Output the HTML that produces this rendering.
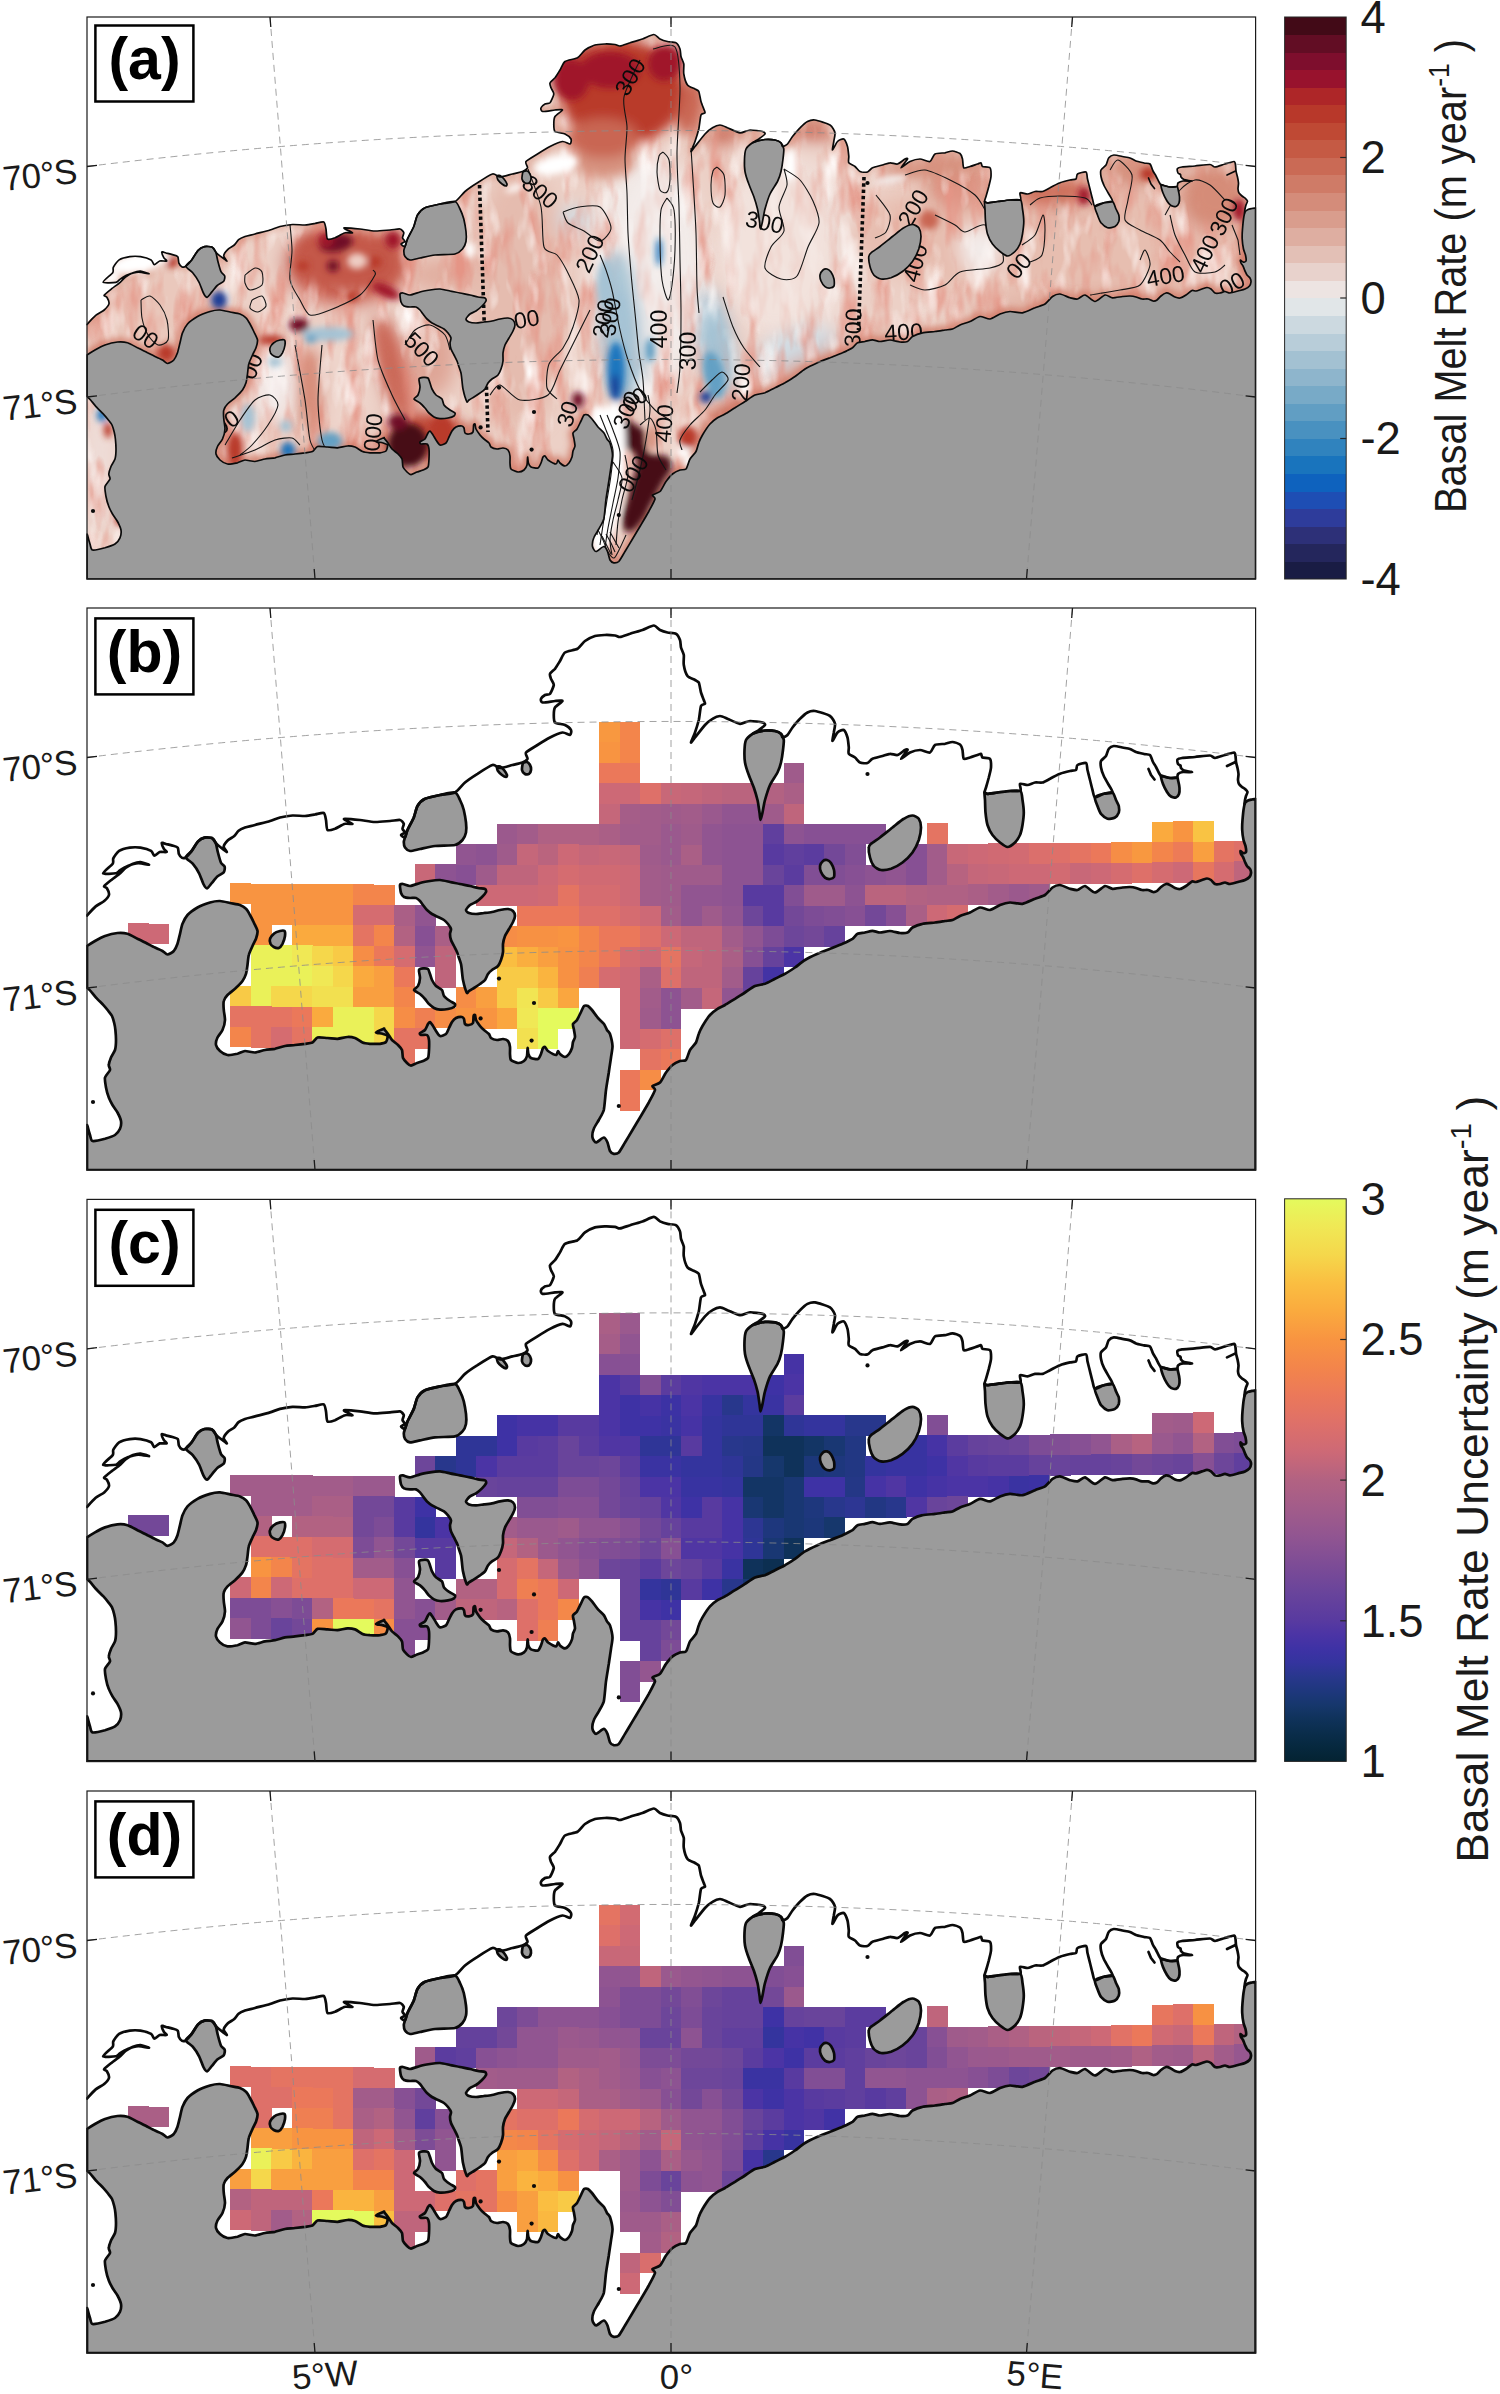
<!DOCTYPE html>
<html><head><meta charset="utf-8"><title>Basal melt rate figure</title>
<style>html,body{margin:0;padding:0;background:#fff}svg{display:block}text{font-family:"Liberation Sans",sans-serif;fill:#1a1a1a}text.pl{fill:#000;font-weight:bold}</style></head><body>
<svg width="1500" height="2394" viewBox="0 0 1500 2394">
<defs>
<clipPath id="pc"><rect x="86.2" y="607.2" width="1170.2" height="563.6"/></clipPath>
<path id="land" d="M87.0 946.0C87.9 945.4 92.9 942.2 95.0 941.0C97.1 939.8 102.4 936.9 105.0 936.0C107.6 935.1 114.9 933.3 117.5 933.0C120.1 932.7 125.2 933.1 127.5 933.8C129.8 934.4 135.2 937.6 137.5 938.8C139.8 939.9 145.5 942.7 147.5 943.8C149.5 944.8 153.2 946.7 155.0 947.5C156.8 948.3 161.0 950.2 162.5 951.0C164.0 951.8 166.2 954.5 167.5 954.5C168.8 954.5 172.6 952.3 173.8 951.0C174.9 949.7 176.8 945.8 177.5 943.8C178.2 941.7 179.4 936.1 180.0 933.8C180.6 931.4 181.6 925.9 182.5 923.8C183.4 921.6 185.8 916.9 187.5 915.0C189.2 913.1 194.9 909.0 197.5 907.5C200.1 906.0 207.4 903.3 210.0 902.5C212.6 901.7 217.7 900.9 220.0 901.0C222.3 901.1 227.7 902.5 230.0 903.0C232.3 903.5 238.1 904.3 240.0 905.0C241.9 905.7 244.8 907.6 246.0 908.8C247.2 909.9 249.1 913.4 250.0 915.0C250.9 916.6 252.9 920.6 253.8 922.5C254.6 924.4 257.2 929.1 257.5 931.0C257.8 932.9 256.6 937.0 256.0 938.8C255.4 940.5 253.3 944.1 252.5 946.0C251.7 947.9 249.3 952.8 248.8 955.0C248.2 957.2 247.8 962.8 247.5 965.0C247.2 967.2 246.6 971.9 246.0 973.8C245.4 975.6 243.8 979.2 242.5 981.0C241.2 982.8 236.8 987.1 235.0 988.8C233.2 990.4 228.8 993.6 227.5 995.0C226.2 996.4 224.2 999.2 223.8 1001.0C223.3 1002.8 223.6 1007.8 223.8 1010.0C223.9 1012.2 225.1 1017.7 225.0 1020.0C224.9 1022.3 223.4 1028.0 222.5 1030.0C221.6 1032.0 218.3 1035.8 217.5 1037.5C216.7 1039.2 215.7 1043.4 216.0 1045.0C216.3 1046.6 218.7 1049.8 220.0 1051.0C221.3 1052.2 225.5 1054.7 227.5 1055.0C229.5 1055.3 235.5 1054.2 237.5 1053.8C239.5 1053.3 243.0 1051.1 245.0 1051.0C247.0 1050.9 252.7 1052.6 255.0 1052.5C257.3 1052.4 262.7 1050.4 265.0 1050.0C267.3 1049.6 272.7 1049.2 275.0 1048.8C277.3 1048.3 282.7 1046.4 285.0 1046.0C287.3 1045.6 292.7 1045.3 295.0 1045.0C297.3 1044.7 303.0 1044.0 305.0 1043.8C307.0 1043.5 311.0 1043.2 312.5 1042.5C314.0 1041.8 315.8 1038.0 317.5 1037.5C319.2 1037.0 325.2 1037.9 327.5 1038.0C329.8 1038.1 335.2 1038.9 337.5 1038.8C339.8 1038.6 345.5 1037.1 347.5 1037.0C349.5 1036.9 353.2 1037.4 355.0 1038.0C356.8 1038.6 360.8 1041.8 362.5 1042.5C364.2 1043.2 368.0 1043.6 370.0 1043.8C372.0 1043.9 378.1 1044.0 380.0 1043.8C381.9 1043.5 385.1 1042.9 386.0 1042.0C386.9 1041.1 387.9 1037.0 387.5 1036.0C387.1 1035.0 383.8 1034.2 382.5 1033.8C381.2 1033.3 375.9 1033.1 376.0 1032.5C376.1 1031.9 382.8 1029.2 383.8 1028.8C384.7 1028.3 383.5 1028.4 384.0 1029.0C384.5 1029.6 387.1 1032.7 388.0 1034.0C388.9 1035.3 390.8 1038.7 392.0 1040.0C393.2 1041.3 396.8 1043.8 398.0 1045.0C399.2 1046.2 401.4 1048.5 402.0 1050.0C402.6 1051.5 402.4 1056.5 403.0 1058.0C403.6 1059.5 406.1 1062.1 407.0 1063.0C407.9 1063.9 409.8 1065.6 411.0 1065.6C412.2 1065.6 415.6 1063.5 417.0 1063.0C418.4 1062.5 421.7 1061.6 423.0 1061.0C424.3 1060.4 427.3 1059.3 428.0 1058.0C428.7 1056.7 428.9 1052.1 429.0 1050.0C429.1 1047.9 429.2 1041.8 429.0 1040.0C428.8 1038.2 427.9 1035.6 427.0 1035.0C426.1 1034.4 421.8 1035.2 421.0 1035.0C420.2 1034.8 419.5 1033.6 420.0 1033.0C420.5 1032.4 424.1 1031.0 425.0 1030.0C425.9 1029.0 427.4 1024.9 428.0 1024.0C428.6 1023.1 429.4 1021.8 430.0 1022.0C430.6 1022.2 432.3 1025.0 433.0 1026.0C433.7 1027.0 435.2 1029.8 436.0 1031.0C436.8 1032.2 438.8 1035.7 440.0 1036.0C441.2 1036.3 444.9 1034.9 446.0 1034.0C447.1 1033.1 448.3 1029.4 449.0 1028.0C449.7 1026.6 451.2 1023.2 452.0 1022.0C452.8 1020.8 454.8 1018.6 456.0 1018.0C457.2 1017.4 461.1 1016.9 462.0 1017.0C462.9 1017.1 463.6 1018.2 464.0 1019.0C464.4 1019.8 464.4 1023.3 465.0 1024.0C465.6 1024.7 468.1 1025.1 469.0 1025.0C469.9 1024.9 472.5 1024.0 473.0 1023.0C473.5 1022.0 473.4 1016.9 473.6 1016.0C473.8 1015.1 474.7 1014.5 475.0 1015.0C475.3 1015.5 475.4 1018.7 476.0 1020.0C476.6 1021.3 479.1 1024.8 480.0 1026.0C480.9 1027.2 482.9 1029.1 484.0 1030.0C485.1 1030.9 488.2 1033.1 489.0 1034.0C489.8 1034.9 490.1 1037.3 491.0 1038.0C491.9 1038.7 495.6 1039.9 497.0 1040.0C498.4 1040.1 501.7 1038.9 503.0 1039.0C504.3 1039.1 507.2 1040.1 508.0 1041.0C508.8 1041.9 509.8 1045.5 510.0 1047.0C510.2 1048.5 509.9 1052.5 510.0 1054.0C510.1 1055.5 510.1 1059.0 511.0 1060.0C511.9 1061.0 516.5 1062.9 518.0 1063.0C519.5 1063.1 523.0 1061.8 524.0 1061.0C525.0 1060.2 526.6 1057.5 527.0 1056.0C527.4 1054.5 527.4 1048.2 527.6 1048.0C527.8 1047.8 528.0 1052.8 528.4 1054.0C528.8 1055.2 529.9 1057.4 531.0 1058.0C532.1 1058.6 536.8 1059.5 538.0 1059.0C539.2 1058.5 540.4 1055.3 541.0 1054.0C541.6 1052.7 542.5 1048.8 543.0 1048.0C543.5 1047.2 544.4 1046.7 545.0 1047.0C545.6 1047.3 546.7 1050.1 548.0 1051.0C549.3 1051.9 554.8 1055.0 556.0 1055.0C557.2 1055.0 557.5 1051.1 558.0 1051.0C558.5 1050.9 559.2 1053.3 560.0 1054.0C560.8 1054.7 564.0 1057.0 565.0 1057.0C566.0 1057.0 568.2 1055.0 569.0 1054.0C569.8 1053.0 571.5 1049.4 572.0 1048.0C572.5 1046.6 572.6 1043.3 573.0 1042.0C573.4 1040.7 574.9 1038.4 575.0 1037.0C575.1 1035.6 574.2 1031.5 574.0 1030.0C573.8 1028.5 572.6 1025.2 573.0 1024.0C573.4 1022.8 576.1 1021.4 577.0 1020.0C577.9 1018.6 580.2 1013.6 581.0 1012.0C581.8 1010.4 583.2 1006.7 584.0 1006.0C584.8 1005.3 587.1 1005.5 588.0 1006.0C588.9 1006.5 590.8 1008.6 592.0 1010.0C593.2 1011.4 596.6 1016.4 598.0 1018.0C599.4 1019.6 603.0 1022.6 604.0 1024.0C605.0 1025.4 606.3 1028.8 607.0 1030.0C607.7 1031.2 609.4 1032.1 610.0 1034.0C610.6 1035.9 612.4 1043.3 612.5 1046.0C612.6 1048.7 611.4 1054.4 611.0 1057.5C610.6 1060.6 609.3 1068.7 608.8 1072.5C608.2 1076.3 606.6 1085.6 606.0 1090.0C605.4 1094.4 604.6 1106.5 603.8 1110.0C602.9 1113.5 599.9 1117.8 598.8 1120.0C597.6 1122.2 594.5 1126.7 593.8 1128.8C593.0 1130.8 592.2 1135.9 592.5 1137.5C592.8 1139.1 594.7 1142.5 596.0 1142.5C597.3 1142.5 602.4 1137.5 603.8 1137.5C605.1 1137.5 606.8 1140.9 607.5 1142.5C608.2 1144.1 609.3 1149.7 610.0 1151.0C610.7 1152.3 612.7 1153.6 613.8 1153.8C614.8 1153.9 617.4 1153.8 618.8 1152.5C620.1 1151.2 623.4 1145.1 625.0 1142.5C626.6 1139.9 630.8 1132.9 632.5 1130.0C634.2 1127.1 638.1 1120.7 640.0 1117.5C641.9 1114.3 647.0 1105.7 648.8 1102.5C650.5 1099.3 654.6 1091.9 655.0 1090.0C655.4 1088.1 651.9 1086.9 652.5 1086.0C653.1 1085.1 658.4 1084.1 660.0 1082.5C661.6 1080.9 664.5 1074.5 666.0 1072.5C667.5 1070.5 670.9 1066.3 672.5 1065.0C674.1 1063.7 678.4 1061.6 680.0 1061.0C681.6 1060.4 684.8 1061.3 686.0 1060.0C687.2 1058.7 688.8 1052.0 690.0 1050.0C691.2 1048.0 695.0 1044.4 696.0 1042.5C697.0 1040.6 698.0 1035.7 698.8 1033.8C699.5 1031.8 701.2 1028.2 702.5 1026.0C703.8 1023.8 708.2 1017.0 710.0 1015.0C711.8 1013.0 715.8 1009.9 717.5 1008.8C719.2 1007.6 723.0 1006.2 725.0 1005.0C727.0 1003.8 732.7 1000.2 735.0 998.8C737.3 997.3 742.7 994.0 745.0 992.5C747.3 991.0 752.7 987.0 755.0 986.0C757.3 985.0 762.7 984.6 765.0 983.8C767.3 982.9 772.7 979.9 775.0 978.8C777.3 977.6 782.7 975.1 785.0 973.8C787.3 972.4 792.7 969.1 795.0 967.5C797.3 965.9 802.4 961.6 805.0 960.0C807.6 958.4 814.6 955.1 817.5 953.8C820.4 952.4 827.1 949.9 830.0 948.8C832.9 947.6 839.9 944.9 842.5 943.8C845.1 942.6 850.8 939.9 852.5 938.8C854.2 937.6 856.0 934.5 857.5 933.8C859.0 933.0 863.2 932.9 865.0 932.5C866.8 932.1 870.8 930.8 872.5 930.8C874.2 930.8 878.0 932.5 880.0 932.5C882.0 932.5 887.7 930.9 890.0 931.0C892.3 931.1 898.0 932.8 900.0 933.0C902.0 933.2 906.0 933.1 907.5 932.5C909.0 931.9 910.8 928.5 912.5 927.5C914.2 926.5 919.9 924.3 922.5 923.8C925.1 923.2 932.4 922.8 935.0 922.5C937.6 922.2 943.0 921.3 945.0 921.0C947.0 920.7 950.8 920.6 952.5 920.0C954.2 919.4 958.0 916.9 960.0 916.0C962.0 915.1 967.7 913.5 970.0 912.5C972.3 911.5 977.7 907.8 980.0 907.5C982.3 907.2 987.7 910.3 990.0 910.0C992.3 909.7 997.7 905.9 1000.0 905.0C1002.3 904.1 1007.4 902.6 1010.0 902.5C1012.6 902.4 1019.6 904.2 1022.5 903.8C1025.4 903.3 1032.4 899.8 1035.0 898.8C1037.6 897.7 1043.0 896.3 1045.0 895.0C1047.0 893.7 1050.8 888.7 1052.5 887.5C1054.2 886.3 1058.0 884.9 1060.0 885.0C1062.0 885.1 1068.0 888.2 1070.0 888.8C1072.0 889.3 1075.8 890.3 1077.5 890.0C1079.2 889.7 1083.0 885.7 1085.0 886.0C1087.0 886.3 1092.7 892.5 1095.0 892.5C1097.3 892.5 1103.0 886.4 1105.0 886.0C1107.0 885.6 1110.5 888.6 1112.5 888.8C1114.5 888.9 1120.5 887.7 1122.5 887.5C1124.5 887.3 1128.4 886.9 1130.0 887.0C1131.6 887.1 1134.6 887.6 1136.0 888.0C1137.4 888.4 1140.6 889.8 1142.0 890.0C1143.4 890.2 1146.7 889.8 1148.0 890.0C1149.3 890.2 1152.0 891.9 1153.0 892.0C1154.0 892.1 1156.1 891.6 1157.0 891.0C1157.9 890.4 1160.0 887.8 1161.0 887.0C1162.0 886.2 1165.0 884.2 1166.0 884.0C1167.0 883.8 1169.0 884.5 1170.0 885.0C1171.0 885.5 1173.8 887.5 1175.0 888.0C1176.2 888.5 1178.7 889.2 1180.0 889.0C1181.3 888.8 1184.6 886.9 1186.0 886.0C1187.4 885.1 1190.8 882.0 1192.0 881.5C1193.2 881.0 1194.8 882.2 1196.0 882.0C1197.2 881.8 1200.7 880.4 1202.0 880.0C1203.3 879.6 1206.0 878.5 1207.0 878.5C1208.0 878.5 1210.1 879.4 1211.0 880.0C1211.9 880.6 1214.0 883.5 1215.0 884.0C1216.0 884.5 1218.8 884.2 1220.0 884.0C1221.2 883.8 1223.8 882.5 1225.0 882.5C1226.2 882.5 1228.5 884.1 1230.0 884.0C1231.5 883.9 1236.2 882.5 1238.0 882.0C1239.8 881.5 1243.7 880.6 1245.0 880.0C1246.3 879.4 1248.8 877.8 1249.5 877.0C1250.2 876.2 1250.9 873.9 1251.0 873.0C1251.1 872.1 1250.5 869.8 1250.0 869.0C1249.5 868.2 1247.6 866.8 1247.0 866.0C1246.4 865.2 1245.5 863.0 1245.0 862.0C1244.5 861.0 1243.5 857.9 1243.0 857.0C1242.5 856.1 1241.3 854.7 1241.0 854.0C1240.7 853.3 1240.3 851.1 1240.5 851.0C1240.7 850.9 1242.4 852.9 1243.0 853.0C1243.6 853.1 1245.7 852.8 1246.0 852.0C1246.3 851.2 1245.8 847.4 1245.5 846.0C1245.2 844.6 1243.9 841.9 1243.5 840.0C1243.1 838.1 1242.3 832.3 1242.2 830.0C1242.1 827.7 1242.3 822.3 1242.5 820.0C1242.7 817.7 1243.2 812.0 1243.5 810.0C1243.8 808.0 1244.5 804.1 1245.0 803.0C1245.5 801.9 1247.2 800.9 1248.0 800.5C1248.8 800.1 1251.1 799.7 1252.0 799.5C1252.9 799.3 1255.4 799.1 1255.8 799.0 L1255.6 799.0 L1255.6 1170.0 L87.0 1170.0 L87.0 1125.0C87.1 1125.1 87.2 1124.8 87.5 1126.0C87.8 1127.2 89.4 1133.2 90.0 1135.0C90.6 1136.8 90.8 1140.6 92.5 1141.0C94.2 1141.4 102.4 1139.5 105.0 1138.8C107.6 1138.0 113.2 1136.2 115.0 1135.0C116.8 1133.8 119.3 1130.4 120.0 1128.8C120.7 1127.1 121.3 1122.9 121.0 1121.0C120.7 1119.1 118.5 1114.4 117.5 1112.5C116.5 1110.6 113.5 1106.8 112.5 1105.0C111.5 1103.2 109.5 1099.5 108.8 1097.5C108.0 1095.5 106.4 1089.8 106.0 1087.5C105.6 1085.2 104.5 1079.5 105.0 1077.5C105.5 1075.5 109.6 1071.5 110.0 1070.0C110.4 1068.5 108.6 1066.5 108.8 1065.0C108.9 1063.5 110.3 1059.2 111.0 1057.5C111.7 1055.8 114.4 1052.0 115.0 1050.0C115.6 1048.0 116.0 1042.3 116.0 1040.0C116.0 1037.7 115.6 1032.0 115.4 1030.0C115.2 1028.0 114.6 1024.6 114.2 1023.0C113.8 1021.4 112.7 1017.5 112.0 1016.0C111.3 1014.5 109.0 1011.8 108.0 1010.5C107.0 1009.2 104.6 1006.3 103.2 1004.8C101.8 1003.3 97.4 999.2 96.0 997.6C94.6 996.0 92.0 992.7 91.0 991.5C90.0 990.3 87.5 988.0 87.0 987.5 Z"/>
<path id="gl" d="M87.0 946.0C87.9 945.4 92.9 942.2 95.0 941.0C97.1 939.8 102.4 936.9 105.0 936.0C107.6 935.1 114.9 933.3 117.5 933.0C120.1 932.7 125.2 933.1 127.5 933.8C129.8 934.4 135.2 937.6 137.5 938.8C139.8 939.9 145.5 942.7 147.5 943.8C149.5 944.8 153.2 946.7 155.0 947.5C156.8 948.3 161.0 950.2 162.5 951.0C164.0 951.8 166.2 954.5 167.5 954.5C168.8 954.5 172.6 952.3 173.8 951.0C174.9 949.7 176.8 945.8 177.5 943.8C178.2 941.7 179.4 936.1 180.0 933.8C180.6 931.4 181.6 925.9 182.5 923.8C183.4 921.6 185.8 916.9 187.5 915.0C189.2 913.1 194.9 909.0 197.5 907.5C200.1 906.0 207.4 903.3 210.0 902.5C212.6 901.7 217.7 900.9 220.0 901.0C222.3 901.1 227.7 902.5 230.0 903.0C232.3 903.5 238.1 904.3 240.0 905.0C241.9 905.7 244.8 907.6 246.0 908.8C247.2 909.9 249.1 913.4 250.0 915.0C250.9 916.6 252.9 920.6 253.8 922.5C254.6 924.4 257.2 929.1 257.5 931.0C257.8 932.9 256.6 937.0 256.0 938.8C255.4 940.5 253.3 944.1 252.5 946.0C251.7 947.9 249.3 952.8 248.8 955.0C248.2 957.2 247.8 962.8 247.5 965.0C247.2 967.2 246.6 971.9 246.0 973.8C245.4 975.6 243.8 979.2 242.5 981.0C241.2 982.8 236.8 987.1 235.0 988.8C233.2 990.4 228.8 993.6 227.5 995.0C226.2 996.4 224.2 999.2 223.8 1001.0C223.3 1002.8 223.6 1007.8 223.8 1010.0C223.9 1012.2 225.1 1017.7 225.0 1020.0C224.9 1022.3 223.4 1028.0 222.5 1030.0C221.6 1032.0 218.3 1035.8 217.5 1037.5C216.7 1039.2 215.7 1043.4 216.0 1045.0C216.3 1046.6 218.7 1049.8 220.0 1051.0C221.3 1052.2 225.5 1054.7 227.5 1055.0C229.5 1055.3 235.5 1054.2 237.5 1053.8C239.5 1053.3 243.0 1051.1 245.0 1051.0C247.0 1050.9 252.7 1052.6 255.0 1052.5C257.3 1052.4 262.7 1050.4 265.0 1050.0C267.3 1049.6 272.7 1049.2 275.0 1048.8C277.3 1048.3 282.7 1046.4 285.0 1046.0C287.3 1045.6 292.7 1045.3 295.0 1045.0C297.3 1044.7 303.0 1044.0 305.0 1043.8C307.0 1043.5 311.0 1043.2 312.5 1042.5C314.0 1041.8 315.8 1038.0 317.5 1037.5C319.2 1037.0 325.2 1037.9 327.5 1038.0C329.8 1038.1 335.2 1038.9 337.5 1038.8C339.8 1038.6 345.5 1037.1 347.5 1037.0C349.5 1036.9 353.2 1037.4 355.0 1038.0C356.8 1038.6 360.8 1041.8 362.5 1042.5C364.2 1043.2 368.0 1043.6 370.0 1043.8C372.0 1043.9 378.1 1044.0 380.0 1043.8C381.9 1043.5 385.1 1042.9 386.0 1042.0C386.9 1041.1 387.9 1037.0 387.5 1036.0C387.1 1035.0 383.8 1034.2 382.5 1033.8C381.2 1033.3 375.9 1033.1 376.0 1032.5C376.1 1031.9 382.8 1029.2 383.8 1028.8C384.7 1028.3 383.5 1028.4 384.0 1029.0C384.5 1029.6 387.1 1032.7 388.0 1034.0C388.9 1035.3 390.8 1038.7 392.0 1040.0C393.2 1041.3 396.8 1043.8 398.0 1045.0C399.2 1046.2 401.4 1048.5 402.0 1050.0C402.6 1051.5 402.4 1056.5 403.0 1058.0C403.6 1059.5 406.1 1062.1 407.0 1063.0C407.9 1063.9 409.8 1065.6 411.0 1065.6C412.2 1065.6 415.6 1063.5 417.0 1063.0C418.4 1062.5 421.7 1061.6 423.0 1061.0C424.3 1060.4 427.3 1059.3 428.0 1058.0C428.7 1056.7 428.9 1052.1 429.0 1050.0C429.1 1047.9 429.2 1041.8 429.0 1040.0C428.8 1038.2 427.9 1035.6 427.0 1035.0C426.1 1034.4 421.8 1035.2 421.0 1035.0C420.2 1034.8 419.5 1033.6 420.0 1033.0C420.5 1032.4 424.1 1031.0 425.0 1030.0C425.9 1029.0 427.4 1024.9 428.0 1024.0C428.6 1023.1 429.4 1021.8 430.0 1022.0C430.6 1022.2 432.3 1025.0 433.0 1026.0C433.7 1027.0 435.2 1029.8 436.0 1031.0C436.8 1032.2 438.8 1035.7 440.0 1036.0C441.2 1036.3 444.9 1034.9 446.0 1034.0C447.1 1033.1 448.3 1029.4 449.0 1028.0C449.7 1026.6 451.2 1023.2 452.0 1022.0C452.8 1020.8 454.8 1018.6 456.0 1018.0C457.2 1017.4 461.1 1016.9 462.0 1017.0C462.9 1017.1 463.6 1018.2 464.0 1019.0C464.4 1019.8 464.4 1023.3 465.0 1024.0C465.6 1024.7 468.1 1025.1 469.0 1025.0C469.9 1024.9 472.5 1024.0 473.0 1023.0C473.5 1022.0 473.4 1016.9 473.6 1016.0C473.8 1015.1 474.7 1014.5 475.0 1015.0C475.3 1015.5 475.4 1018.7 476.0 1020.0C476.6 1021.3 479.1 1024.8 480.0 1026.0C480.9 1027.2 482.9 1029.1 484.0 1030.0C485.1 1030.9 488.2 1033.1 489.0 1034.0C489.8 1034.9 490.1 1037.3 491.0 1038.0C491.9 1038.7 495.6 1039.9 497.0 1040.0C498.4 1040.1 501.7 1038.9 503.0 1039.0C504.3 1039.1 507.2 1040.1 508.0 1041.0C508.8 1041.9 509.8 1045.5 510.0 1047.0C510.2 1048.5 509.9 1052.5 510.0 1054.0C510.1 1055.5 510.1 1059.0 511.0 1060.0C511.9 1061.0 516.5 1062.9 518.0 1063.0C519.5 1063.1 523.0 1061.8 524.0 1061.0C525.0 1060.2 526.6 1057.5 527.0 1056.0C527.4 1054.5 527.4 1048.2 527.6 1048.0C527.8 1047.8 528.0 1052.8 528.4 1054.0C528.8 1055.2 529.9 1057.4 531.0 1058.0C532.1 1058.6 536.8 1059.5 538.0 1059.0C539.2 1058.5 540.4 1055.3 541.0 1054.0C541.6 1052.7 542.5 1048.8 543.0 1048.0C543.5 1047.2 544.4 1046.7 545.0 1047.0C545.6 1047.3 546.7 1050.1 548.0 1051.0C549.3 1051.9 554.8 1055.0 556.0 1055.0C557.2 1055.0 557.5 1051.1 558.0 1051.0C558.5 1050.9 559.2 1053.3 560.0 1054.0C560.8 1054.7 564.0 1057.0 565.0 1057.0C566.0 1057.0 568.2 1055.0 569.0 1054.0C569.8 1053.0 571.5 1049.4 572.0 1048.0C572.5 1046.6 572.6 1043.3 573.0 1042.0C573.4 1040.7 574.9 1038.4 575.0 1037.0C575.1 1035.6 574.2 1031.5 574.0 1030.0C573.8 1028.5 572.6 1025.2 573.0 1024.0C573.4 1022.8 576.1 1021.4 577.0 1020.0C577.9 1018.6 580.2 1013.6 581.0 1012.0C581.8 1010.4 583.2 1006.7 584.0 1006.0C584.8 1005.3 587.1 1005.5 588.0 1006.0C588.9 1006.5 590.8 1008.6 592.0 1010.0C593.2 1011.4 596.6 1016.4 598.0 1018.0C599.4 1019.6 603.0 1022.6 604.0 1024.0C605.0 1025.4 606.3 1028.8 607.0 1030.0C607.7 1031.2 609.4 1032.1 610.0 1034.0C610.6 1035.9 612.4 1043.3 612.5 1046.0C612.6 1048.7 611.4 1054.4 611.0 1057.5C610.6 1060.6 609.3 1068.7 608.8 1072.5C608.2 1076.3 606.6 1085.6 606.0 1090.0C605.4 1094.4 604.6 1106.5 603.8 1110.0C602.9 1113.5 599.9 1117.8 598.8 1120.0C597.6 1122.2 594.5 1126.7 593.8 1128.8C593.0 1130.8 592.2 1135.9 592.5 1137.5C592.8 1139.1 594.7 1142.5 596.0 1142.5C597.3 1142.5 602.4 1137.5 603.8 1137.5C605.1 1137.5 606.8 1140.9 607.5 1142.5C608.2 1144.1 609.3 1149.7 610.0 1151.0C610.7 1152.3 612.7 1153.6 613.8 1153.8C614.8 1153.9 617.4 1153.8 618.8 1152.5C620.1 1151.2 623.4 1145.1 625.0 1142.5C626.6 1139.9 630.8 1132.9 632.5 1130.0C634.2 1127.1 638.1 1120.7 640.0 1117.5C641.9 1114.3 647.0 1105.7 648.8 1102.5C650.5 1099.3 654.6 1091.9 655.0 1090.0C655.4 1088.1 651.9 1086.9 652.5 1086.0C653.1 1085.1 658.4 1084.1 660.0 1082.5C661.6 1080.9 664.5 1074.5 666.0 1072.5C667.5 1070.5 670.9 1066.3 672.5 1065.0C674.1 1063.7 678.4 1061.6 680.0 1061.0C681.6 1060.4 684.8 1061.3 686.0 1060.0C687.2 1058.7 688.8 1052.0 690.0 1050.0C691.2 1048.0 695.0 1044.4 696.0 1042.5C697.0 1040.6 698.0 1035.7 698.8 1033.8C699.5 1031.8 701.2 1028.2 702.5 1026.0C703.8 1023.8 708.2 1017.0 710.0 1015.0C711.8 1013.0 715.8 1009.9 717.5 1008.8C719.2 1007.6 723.0 1006.2 725.0 1005.0C727.0 1003.8 732.7 1000.2 735.0 998.8C737.3 997.3 742.7 994.0 745.0 992.5C747.3 991.0 752.7 987.0 755.0 986.0C757.3 985.0 762.7 984.6 765.0 983.8C767.3 982.9 772.7 979.9 775.0 978.8C777.3 977.6 782.7 975.1 785.0 973.8C787.3 972.4 792.7 969.1 795.0 967.5C797.3 965.9 802.4 961.6 805.0 960.0C807.6 958.4 814.6 955.1 817.5 953.8C820.4 952.4 827.1 949.9 830.0 948.8C832.9 947.6 839.9 944.9 842.5 943.8C845.1 942.6 850.8 939.9 852.5 938.8C854.2 937.6 856.0 934.5 857.5 933.8C859.0 933.0 863.2 932.9 865.0 932.5C866.8 932.1 870.8 930.8 872.5 930.8C874.2 930.8 878.0 932.5 880.0 932.5C882.0 932.5 887.7 930.9 890.0 931.0C892.3 931.1 898.0 932.8 900.0 933.0C902.0 933.2 906.0 933.1 907.5 932.5C909.0 931.9 910.8 928.5 912.5 927.5C914.2 926.5 919.9 924.3 922.5 923.8C925.1 923.2 932.4 922.8 935.0 922.5C937.6 922.2 943.0 921.3 945.0 921.0C947.0 920.7 950.8 920.6 952.5 920.0C954.2 919.4 958.0 916.9 960.0 916.0C962.0 915.1 967.7 913.5 970.0 912.5C972.3 911.5 977.7 907.8 980.0 907.5C982.3 907.2 987.7 910.3 990.0 910.0C992.3 909.7 997.7 905.9 1000.0 905.0C1002.3 904.1 1007.4 902.6 1010.0 902.5C1012.6 902.4 1019.6 904.2 1022.5 903.8C1025.4 903.3 1032.4 899.8 1035.0 898.8C1037.6 897.7 1043.0 896.3 1045.0 895.0C1047.0 893.7 1050.8 888.7 1052.5 887.5C1054.2 886.3 1058.0 884.9 1060.0 885.0C1062.0 885.1 1068.0 888.2 1070.0 888.8C1072.0 889.3 1075.8 890.3 1077.5 890.0C1079.2 889.7 1083.0 885.7 1085.0 886.0C1087.0 886.3 1092.7 892.5 1095.0 892.5C1097.3 892.5 1103.0 886.4 1105.0 886.0C1107.0 885.6 1110.5 888.6 1112.5 888.8C1114.5 888.9 1120.5 887.7 1122.5 887.5C1124.5 887.3 1128.4 886.9 1130.0 887.0C1131.6 887.1 1134.6 887.6 1136.0 888.0C1137.4 888.4 1140.6 889.8 1142.0 890.0C1143.4 890.2 1146.7 889.8 1148.0 890.0C1149.3 890.2 1152.0 891.9 1153.0 892.0C1154.0 892.1 1156.1 891.6 1157.0 891.0C1157.9 890.4 1160.0 887.8 1161.0 887.0C1162.0 886.2 1165.0 884.2 1166.0 884.0C1167.0 883.8 1169.0 884.5 1170.0 885.0C1171.0 885.5 1173.8 887.5 1175.0 888.0C1176.2 888.5 1178.7 889.2 1180.0 889.0C1181.3 888.8 1184.6 886.9 1186.0 886.0C1187.4 885.1 1190.8 882.0 1192.0 881.5C1193.2 881.0 1194.8 882.2 1196.0 882.0C1197.2 881.8 1200.7 880.4 1202.0 880.0C1203.3 879.6 1206.0 878.5 1207.0 878.5C1208.0 878.5 1210.1 879.4 1211.0 880.0C1211.9 880.6 1214.0 883.5 1215.0 884.0C1216.0 884.5 1218.8 884.2 1220.0 884.0C1221.2 883.8 1223.8 882.5 1225.0 882.5C1226.2 882.5 1228.5 884.1 1230.0 884.0C1231.5 883.9 1236.2 882.5 1238.0 882.0C1239.8 881.5 1243.7 880.6 1245.0 880.0C1246.3 879.4 1248.8 877.8 1249.5 877.0C1250.2 876.2 1250.9 873.9 1251.0 873.0C1251.1 872.1 1250.5 869.8 1250.0 869.0C1249.5 868.2 1247.6 866.8 1247.0 866.0C1246.4 865.2 1245.5 863.0 1245.0 862.0C1244.5 861.0 1243.5 857.9 1243.0 857.0C1242.5 856.1 1241.3 854.7 1241.0 854.0C1240.7 853.3 1240.3 851.1 1240.5 851.0C1240.7 850.9 1242.4 852.9 1243.0 853.0C1243.6 853.1 1245.7 852.8 1246.0 852.0C1246.3 851.2 1245.8 847.4 1245.5 846.0C1245.2 844.6 1243.9 841.9 1243.5 840.0C1243.1 838.1 1242.3 832.3 1242.2 830.0C1242.1 827.7 1242.3 822.3 1242.5 820.0C1242.7 817.7 1243.2 812.0 1243.5 810.0C1243.8 808.0 1244.5 804.1 1245.0 803.0C1245.5 801.9 1247.2 800.9 1248.0 800.5C1248.8 800.1 1251.1 799.7 1252.0 799.5C1252.9 799.3 1255.4 799.1 1255.8 799.0"/>
<path id="inl" d="M87.0 987.5C87.5 988.0 90.0 990.3 91.0 991.5C92.0 992.7 94.6 996.0 96.0 997.6C97.4 999.2 101.8 1003.3 103.2 1004.8C104.6 1006.3 107.0 1009.2 108.0 1010.5C109.0 1011.8 111.3 1014.5 112.0 1016.0C112.7 1017.5 113.8 1021.4 114.2 1023.0C114.6 1024.6 115.2 1028.0 115.4 1030.0C115.6 1032.0 116.0 1037.7 116.0 1040.0C116.0 1042.3 115.6 1048.0 115.0 1050.0C114.4 1052.0 111.7 1055.8 111.0 1057.5C110.3 1059.2 108.9 1063.5 108.8 1065.0C108.6 1066.5 110.4 1068.5 110.0 1070.0C109.6 1071.5 105.5 1075.5 105.0 1077.5C104.5 1079.5 105.6 1085.2 106.0 1087.5C106.4 1089.8 108.0 1095.5 108.8 1097.5C109.5 1099.5 111.5 1103.2 112.5 1105.0C113.5 1106.8 116.5 1110.6 117.5 1112.5C118.5 1114.4 120.7 1119.1 121.0 1121.0C121.3 1122.9 120.7 1127.1 120.0 1128.8C119.3 1130.4 116.8 1133.8 115.0 1135.0C113.2 1136.2 107.6 1138.0 105.0 1138.8C102.4 1139.5 94.2 1141.4 92.5 1141.0C90.8 1140.6 90.6 1136.8 90.0 1135.0C89.4 1133.2 87.8 1127.2 87.5 1126.0C87.2 1124.8 87.1 1125.1 87.0 1125.0"/>
<path id="coast" d="M87.0 915.5C88.0 914.4 93.7 908.1 95.7 906.4C97.7 904.7 102.6 902.4 104.2 901.0C105.8 899.6 108.7 896.2 109.0 894.7C109.3 893.2 107.5 889.3 106.9 888.3C106.3 887.3 103.6 887.1 104.2 886.1C104.8 885.1 109.8 881.2 111.7 879.7C113.6 878.2 118.6 874.7 120.2 873.3C121.8 871.9 124.0 869.1 125.5 868.0C127.0 866.9 131.2 864.4 133.0 863.7C134.8 863.0 138.6 862.0 140.5 862.1C142.4 862.2 149.3 864.7 149.0 864.8C148.7 864.9 140.8 863.1 138.3 863.2C135.8 863.3 129.8 865.1 127.7 865.9C125.6 866.7 121.6 869.2 120.2 870.1C118.8 871.0 118.0 872.9 116.0 873.3C114.0 873.7 103.5 874.4 103.1 873.3C102.7 872.2 111.5 865.4 112.7 863.7C113.9 862.0 112.6 859.9 113.3 858.4C114.0 856.9 117.2 852.1 119.1 850.9C121.0 849.7 127.3 848.1 129.8 847.7C132.3 847.3 138.0 847.3 140.5 847.7C143.0 848.1 149.5 850.0 151.1 850.9C152.7 851.8 153.3 855.6 154.3 855.7C155.3 855.8 158.3 852.4 159.7 852.0C161.1 851.6 166.1 852.4 166.6 852.0C167.1 851.6 164.5 849.9 163.9 848.8C163.3 847.7 161.6 843.5 161.8 842.9C162.0 842.3 164.8 843.7 166.0 844.0C167.2 844.3 171.1 845.2 172.5 845.6C173.9 846.0 177.1 846.7 177.8 847.7C178.5 848.7 178.4 852.9 178.9 854.1C179.4 855.3 181.3 857.5 182.1 857.9C182.9 858.3 184.7 858.1 185.8 857.3C186.9 856.5 190.3 852.8 191.7 850.9C193.1 849.0 196.6 842.9 198.1 841.3C199.6 839.7 202.9 838.0 204.5 837.6C206.1 837.2 210.6 837.5 211.9 838.1C213.2 838.7 215.0 842.0 215.7 842.9C216.4 843.8 217.5 844.9 218.3 845.6C219.1 846.3 221.6 848.1 222.6 848.8C223.6 849.5 226.8 852.2 226.9 852.0C227.0 851.8 223.6 848.1 223.7 846.7C223.8 845.3 226.7 841.5 227.9 840.3C229.1 839.1 233.1 837.1 234.3 836.0C235.5 834.9 237.4 831.7 238.6 830.7C239.8 829.7 243.1 828.2 245.0 827.5C246.9 826.8 252.1 825.8 255.0 825.0C257.9 824.2 267.1 821.9 270.0 821.0C272.9 820.1 277.4 818.1 280.0 817.5C282.6 816.9 289.6 815.7 292.5 815.5C295.4 815.3 302.4 816.1 305.0 816.0C307.6 815.9 312.8 814.9 315.0 814.5C317.2 814.1 322.5 812.4 323.8 813.0C325.0 813.6 325.6 818.0 326.0 820.0C326.4 822.0 326.4 829.0 327.5 830.0C328.6 831.0 333.0 829.5 335.0 828.8C337.0 828.0 343.0 824.3 345.0 823.8C347.0 823.2 352.5 824.2 352.5 823.8C352.5 823.3 345.9 820.6 345.0 820.0C344.1 819.4 343.2 818.8 345.0 818.8C346.8 818.8 356.5 819.6 360.0 820.0C363.5 820.4 371.5 821.9 375.0 822.0C378.5 822.1 387.1 821.2 390.0 821.0C392.9 820.8 398.4 819.7 400.0 820.0C401.6 820.3 403.5 822.7 403.8 823.8C404.0 824.8 402.4 827.7 402.5 828.8C402.6 829.8 405.2 831.8 405.0 832.5C404.8 833.2 401.0 834.4 401.0 835.0C401.0 835.6 404.2 838.1 405.0 837.5C405.8 836.9 406.5 832.3 407.5 830.0C408.5 827.7 412.6 820.3 413.8 817.5C414.9 814.7 416.2 808.2 417.5 806.0C418.8 803.8 422.4 800.0 425.0 798.8C427.6 797.5 436.5 795.7 440.0 795.0C443.5 794.3 452.1 794.0 455.0 792.5C457.9 791.0 462.4 784.7 465.0 782.5C467.6 780.3 474.3 775.8 477.5 773.8C480.7 771.7 489.9 765.7 492.5 765.0C495.1 764.3 497.7 768.0 500.0 768.0C502.3 768.0 509.9 765.6 512.5 765.0C515.1 764.4 520.8 763.2 522.5 762.5C524.2 761.8 527.1 759.9 527.5 758.8C527.9 757.6 524.8 754.1 526.0 752.5C527.2 750.9 534.7 746.8 537.5 745.0C540.3 743.2 547.1 739.0 550.0 737.5C552.9 736.0 560.2 732.8 562.5 732.5C564.8 732.2 569.0 735.3 570.0 735.0C571.0 734.7 571.6 731.2 571.0 730.0C570.4 728.8 566.9 725.9 565.0 725.0C563.1 724.1 556.3 723.7 555.0 722.5C553.7 721.3 553.8 716.8 553.8 715.0C553.8 713.2 554.0 709.1 555.0 707.5C556.0 705.9 562.5 701.8 562.5 701.0C562.5 700.2 557.3 700.8 555.0 701.0C552.7 701.2 544.1 702.8 542.5 702.5C540.9 702.2 540.7 699.6 541.0 698.8C541.3 697.9 544.0 695.6 545.0 695.0C546.0 694.4 549.0 694.9 550.0 693.8C551.0 692.6 553.6 686.8 553.8 685.0C553.9 683.2 551.4 680.1 551.0 678.8C550.6 677.4 549.5 674.9 550.0 673.8C550.5 672.6 553.8 670.2 555.0 668.8C556.2 667.3 558.8 662.9 560.0 661.0C561.2 659.1 563.0 653.9 565.0 652.5C567.0 651.1 575.2 650.1 577.5 648.8C579.8 647.4 583.0 642.5 585.0 641.0C587.0 639.5 592.7 636.7 595.0 636.0C597.3 635.3 602.7 635.1 605.0 635.0C607.3 634.9 613.2 635.3 615.0 635.5C616.8 635.7 618.2 637.2 620.0 637.0C621.8 636.8 627.4 634.6 630.0 633.8C632.6 632.9 639.7 631.0 642.5 630.0C645.3 629.0 651.7 625.5 653.8 625.5C655.8 625.5 658.4 629.2 660.0 630.0C661.6 630.8 665.6 632.1 667.5 632.5C669.4 632.9 674.5 632.9 676.0 633.8C677.5 634.6 679.4 638.4 680.0 640.0C680.6 641.6 680.6 645.8 681.0 647.5C681.4 649.2 683.4 653.0 683.8 655.0C684.1 657.0 683.3 662.5 683.8 665.0C684.2 667.5 686.2 674.2 687.5 676.0C688.8 677.8 693.7 679.2 695.0 680.0C696.3 680.8 698.0 681.0 698.8 682.5C699.5 684.0 700.4 690.5 701.0 692.5C701.6 694.5 703.3 698.7 703.8 700.0C704.2 701.3 705.3 703.0 705.0 703.8C704.7 704.5 701.7 704.1 701.0 706.0C700.3 707.9 699.5 716.9 698.8 720.0C698.0 723.1 695.9 729.9 695.0 732.5C694.1 735.1 691.0 741.9 691.0 742.5C691.0 743.1 693.4 739.5 695.0 737.5C696.6 735.5 703.0 727.2 705.0 725.0C707.0 722.8 710.8 719.8 712.5 718.8C714.2 717.7 718.2 716.0 720.0 716.0C721.8 716.0 725.2 717.8 727.5 718.8C729.8 719.7 737.4 723.5 740.0 723.8C742.6 724.0 747.4 721.1 750.0 721.0C752.6 720.9 760.8 722.0 762.5 722.5C764.2 723.0 765.4 724.1 765.0 725.0C764.6 725.9 760.2 729.0 758.8 730.0C757.3 731.0 752.6 733.5 752.5 733.8C752.4 734.0 756.0 732.4 757.5 732.0C759.0 731.6 763.0 730.6 765.0 730.5C767.0 730.4 773.1 730.6 775.0 731.0C776.9 731.4 780.1 733.0 781.0 733.8C781.9 734.5 781.7 737.4 782.5 737.5C783.3 737.6 786.3 736.2 787.5 735.0C788.7 733.8 791.0 729.4 792.5 727.5C794.0 725.6 798.2 720.5 800.0 718.8C801.8 717.0 805.8 713.4 807.5 712.5C809.2 711.6 812.4 710.6 815.0 711.0C817.6 711.4 827.7 714.5 830.0 716.0C832.3 717.5 834.6 721.8 835.0 723.8C835.4 725.7 834.0 730.5 833.8 732.5C833.5 734.5 832.1 741.0 832.5 741.0C832.9 741.0 836.2 733.8 837.5 732.5C838.8 731.2 842.6 729.4 843.8 730.0C844.9 730.6 846.9 735.5 847.5 737.5C848.1 739.5 848.6 745.6 848.8 747.5C848.9 749.4 848.0 752.6 848.8 753.8C849.5 754.9 853.7 756.5 855.0 757.5C856.3 758.5 858.5 761.9 860.0 762.5C861.5 763.1 866.0 763.4 867.5 763.0C869.0 762.6 870.8 759.6 872.5 758.8C874.2 757.9 880.5 756.6 882.5 756.0C884.5 755.4 888.2 753.9 890.0 753.8C891.8 753.6 895.8 755.4 897.5 755.0C899.2 754.6 903.8 750.6 905.0 750.0C906.2 749.4 908.0 749.0 907.5 750.0C907.0 751.0 900.7 758.5 901.0 758.8C901.3 759.0 907.8 753.5 910.0 752.5C912.2 751.5 917.7 750.0 920.0 750.0C922.3 750.0 928.2 753.1 930.0 752.5C931.8 751.9 933.2 746.0 935.0 745.0C936.8 744.0 943.0 744.1 945.0 743.8C947.0 743.4 950.8 741.9 952.5 742.0C954.2 742.1 958.8 743.6 960.0 744.5C961.2 745.4 962.1 748.3 962.5 750.0C962.9 751.7 962.9 757.9 963.8 758.8C964.6 759.6 968.4 757.9 970.0 757.5C971.6 757.1 976.2 755.4 977.5 755.0C978.8 754.6 980.4 753.5 981.0 753.8C981.6 754.0 981.5 756.9 982.5 757.5C983.5 758.1 989.0 757.6 990.0 758.8C991.0 759.9 991.1 765.3 991.0 767.5C990.9 769.7 989.3 775.2 988.8 777.5C988.2 779.8 986.5 785.8 986.0 787.5C985.5 789.2 984.3 791.8 984.5 792.5C984.7 793.2 986.0 793.8 987.5 793.8C989.0 793.8 994.9 792.8 997.5 792.5C1000.1 792.2 1007.3 791.2 1010.0 791.0C1012.7 790.8 1019.3 791.8 1020.5 791.0C1021.7 790.2 1019.2 784.5 1020.0 783.8C1020.8 783.0 1025.8 785.1 1027.5 785.0C1029.2 784.9 1033.2 782.8 1035.0 782.5C1036.8 782.2 1040.8 782.9 1042.5 782.5C1044.2 782.1 1048.0 779.8 1050.0 778.8C1052.0 777.7 1057.7 774.7 1060.0 773.8C1062.3 772.8 1068.1 771.4 1070.0 771.0C1071.9 770.6 1075.1 770.7 1076.0 770.0C1076.9 769.3 1076.3 765.8 1077.5 765.0C1078.7 764.2 1084.8 762.4 1086.0 763.0C1087.2 763.6 1087.0 768.0 1087.5 770.0C1088.0 772.0 1089.4 777.7 1090.0 780.0C1090.6 782.3 1091.9 788.0 1092.5 790.0C1093.1 792.0 1093.7 797.1 1095.0 797.5C1096.3 797.9 1101.7 794.3 1103.8 793.8C1105.8 793.2 1111.9 793.5 1112.5 792.5C1113.1 791.5 1109.8 786.9 1108.8 785.0C1107.7 783.1 1104.7 778.0 1103.8 776.0C1102.8 774.0 1101.3 769.2 1101.0 767.5C1100.7 765.8 1100.4 762.3 1101.0 761.0C1101.6 759.7 1105.1 757.4 1106.0 756.0C1106.9 754.6 1107.8 749.9 1108.8 748.8C1109.7 747.6 1112.1 746.1 1113.8 746.0C1115.4 745.9 1120.6 747.1 1122.5 747.5C1124.4 747.9 1128.4 748.5 1130.0 749.0C1131.6 749.5 1134.4 751.4 1136.0 752.0C1137.6 752.6 1142.4 753.6 1144.0 754.0C1145.6 754.4 1149.0 754.1 1150.0 755.0C1151.0 755.9 1152.3 760.6 1153.0 762.0C1153.7 763.4 1155.3 765.7 1156.0 767.0C1156.7 768.3 1158.4 772.0 1159.0 773.0C1159.6 774.0 1160.4 775.6 1161.0 776.0C1161.6 776.4 1163.0 776.3 1164.0 776.5C1165.0 776.7 1168.5 777.9 1170.0 778.0C1171.5 778.1 1176.1 778.0 1177.0 777.5C1177.9 777.0 1177.3 774.6 1178.0 774.0C1178.7 773.4 1181.4 772.2 1183.0 772.0C1184.6 771.8 1191.9 772.4 1192.0 772.2C1192.1 772.0 1185.3 771.0 1184.0 770.5C1182.7 770.0 1181.4 768.6 1181.0 768.0C1180.6 767.4 1180.8 766.0 1180.5 765.5C1180.2 765.0 1178.3 764.7 1178.0 764.0C1177.7 763.3 1177.0 760.2 1177.5 759.5C1178.0 758.8 1180.0 758.3 1182.0 758.0C1184.0 757.7 1191.7 757.3 1195.0 757.0C1198.3 756.7 1207.7 755.4 1210.0 755.5C1212.3 755.6 1213.2 758.1 1215.0 758.0C1216.8 757.9 1222.8 755.6 1225.0 755.0C1227.2 754.4 1232.8 752.4 1234.0 752.5C1235.2 752.6 1235.3 754.9 1235.5 756.0C1235.7 757.1 1235.8 760.6 1236.0 762.0C1236.2 763.4 1237.2 766.6 1237.5 768.0C1237.8 769.4 1238.4 772.6 1238.5 774.0C1238.6 775.4 1237.9 778.8 1238.0 780.0C1238.1 781.2 1238.5 783.2 1239.0 784.0C1239.5 784.8 1241.3 786.4 1242.0 787.0C1242.7 787.6 1244.4 788.4 1245.0 789.0C1245.6 789.6 1247.4 791.2 1247.5 792.0C1247.6 792.8 1246.3 795.1 1246.0 796.0C1245.7 796.9 1245.2 799.1 1245.0 800.0C1244.8 800.9 1244.6 803.5 1244.5 804.0"/>
<path id="r1" d="M185.8 857.3C185.7 855.8 190.3 852.8 191.7 850.9C193.1 849.0 196.6 842.9 198.1 841.3C199.6 839.7 202.9 838.0 204.5 837.6C206.1 837.2 210.6 837.5 211.9 838.1C213.2 838.7 215.0 841.3 215.7 842.9C216.4 844.5 217.2 849.7 217.8 852.0C218.4 854.3 220.2 861.0 221.0 862.7C221.8 864.4 224.4 865.8 224.7 866.9C225.0 868.0 224.6 871.2 223.7 872.3C222.8 873.4 218.7 875.3 217.3 876.5C215.9 877.7 213.1 881.5 211.9 882.9C210.7 884.3 208.1 888.2 207.1 888.3C206.1 888.4 204.3 885.8 203.4 884.0C202.5 882.2 200.3 875.7 199.1 873.3C197.9 870.9 194.3 865.6 192.7 863.7C191.1 861.8 185.9 858.8 185.8 857.3Z"/>
<path id="r2" d="M405.0 837.5C405.4 836.1 406.5 832.3 407.5 830.0C408.5 827.7 412.6 820.3 413.8 817.5C414.9 814.7 416.2 808.2 417.5 806.0C418.8 803.8 422.4 800.0 425.0 798.8C427.6 797.5 436.5 795.7 440.0 795.0C443.5 794.3 452.7 791.9 455.0 792.5C457.3 793.1 459.0 798.0 460.0 800.0C461.0 802.0 463.1 807.4 463.8 810.0C464.4 812.6 465.7 819.9 466.0 822.5C466.3 825.1 466.4 830.5 466.0 832.5C465.6 834.5 463.8 838.5 462.5 840.0C461.2 841.5 458.2 844.3 455.0 845.0C451.8 845.7 439.1 845.5 435.0 846.0C430.9 846.5 422.9 848.4 420.0 849.0C417.1 849.6 411.8 851.2 410.0 851.0C408.2 850.8 405.7 848.5 405.0 847.5C404.3 846.5 403.8 843.2 403.8 842.0C403.8 840.8 404.6 838.9 405.0 837.5Z"/>
<path id="r3" d="M400.0 885.0C400.2 884.0 401.8 883.9 403.0 884.0C404.2 884.1 408.0 886.1 410.0 886.0C412.0 885.9 417.7 883.6 420.0 883.0C422.3 882.4 427.7 881.4 430.0 881.0C432.3 880.6 437.7 879.9 440.0 880.0C442.3 880.1 447.7 881.5 450.0 882.0C452.3 882.5 457.7 883.5 460.0 884.0C462.3 884.5 467.9 885.5 470.0 886.0C472.1 886.5 476.2 887.6 478.0 888.0C479.8 888.4 484.1 888.5 485.0 889.0C485.9 889.5 486.4 891.1 486.0 892.0C485.6 892.9 483.2 895.8 482.0 897.0C480.8 898.2 477.4 901.1 476.0 902.0C474.6 902.9 471.2 904.1 470.0 905.0C468.8 905.9 466.1 909.1 466.0 910.0C465.9 910.9 467.8 912.5 469.0 913.0C470.2 913.5 474.2 914.0 476.0 914.0C477.8 914.0 482.1 913.2 484.0 913.0C485.9 912.8 490.1 912.4 492.0 912.0C493.9 911.6 498.1 910.4 500.0 910.0C501.9 909.6 506.5 908.9 508.0 909.0C509.5 909.1 512.2 910.2 513.0 911.0C513.8 911.8 515.0 914.7 515.0 916.0C515.0 917.3 513.7 920.5 513.0 922.0C512.3 923.5 509.9 927.4 509.0 929.0C508.1 930.6 505.7 934.2 505.0 936.0C504.3 937.8 503.2 942.1 503.0 944.0C502.8 945.9 503.2 950.1 503.0 952.0C502.8 953.9 501.6 958.4 501.0 960.0C500.4 961.6 499.1 964.8 498.0 966.0C496.9 967.2 493.2 969.1 492.0 970.0C490.8 970.9 488.8 972.8 488.0 974.0C487.2 975.2 485.9 978.8 485.0 980.0C484.1 981.2 481.3 983.1 480.0 984.0C478.7 984.9 475.3 987.2 474.0 988.0C472.7 988.8 469.8 990.4 469.0 991.0C468.2 991.6 467.5 993.4 467.0 993.0C466.5 992.6 465.5 989.5 465.0 988.0C464.5 986.5 463.4 981.9 463.0 980.0C462.6 978.1 462.2 973.9 462.0 972.0C461.8 970.1 461.4 965.6 461.0 964.0C460.6 962.4 459.5 959.4 459.0 958.0C458.5 956.6 457.6 953.4 457.0 952.0C456.4 950.6 454.7 947.4 454.0 946.0C453.3 944.6 451.5 941.4 451.0 940.0C450.5 938.6 450.0 935.3 450.0 934.0C450.0 932.7 451.2 930.2 451.0 929.0C450.8 927.8 448.8 925.0 448.0 924.0C447.2 923.0 445.2 920.8 444.0 920.0C442.8 919.2 439.4 917.7 438.0 917.0C436.6 916.3 433.3 914.8 432.0 914.0C430.7 913.2 428.1 911.0 427.0 910.0C425.9 909.0 423.8 906.0 423.0 905.0C422.2 904.0 420.8 901.8 420.0 901.0C419.2 900.2 417.2 898.4 416.0 898.0C414.8 897.6 411.4 898.1 410.0 898.0C408.6 897.9 405.1 897.6 404.0 897.0C402.9 896.4 401.5 894.4 401.0 893.0C400.5 891.6 399.8 886.0 400.0 885.0Z"/>
<path id="r4" d="M752.5 733.8C751.2 734.7 746.9 738.1 746.0 740.0C745.1 741.9 744.6 747.4 744.5 750.0C744.4 752.6 744.5 759.6 745.0 762.5C745.5 765.4 747.7 772.1 748.8 775.0C749.8 777.9 752.7 784.6 753.8 787.5C754.8 790.4 756.8 797.1 757.5 800.0C758.2 802.9 759.1 810.2 759.5 812.5C759.9 814.8 760.1 820.0 760.5 820.0C760.9 820.0 762.0 814.8 762.5 812.5C763.0 810.2 764.1 803.2 765.0 800.0C765.9 796.8 768.5 788.2 770.0 785.0C771.5 781.8 776.2 775.1 777.5 772.5C778.8 769.9 780.4 765.1 781.0 762.5C781.6 759.9 782.7 752.6 783.0 750.0C783.3 747.4 784.0 741.9 783.8 740.0C783.5 738.1 782.0 734.8 781.0 733.8C780.0 732.7 776.9 731.4 775.0 731.0C773.1 730.6 767.0 730.4 765.0 730.5C763.0 730.6 759.0 731.6 757.5 732.0C756.0 732.4 753.8 732.8 752.5 733.8Z"/>
<path id="r5" d="M984.5 792.5C984.2 793.2 984.9 797.7 985.0 800.0C985.1 802.3 985.2 809.6 985.5 812.5C985.8 815.4 986.7 822.4 987.5 825.0C988.3 827.6 991.0 833.0 992.5 835.0C994.0 837.0 998.2 841.1 1000.0 842.5C1001.8 843.9 1005.8 847.0 1007.5 847.0C1009.2 847.0 1013.5 843.9 1015.0 842.5C1016.5 841.1 1019.1 837.0 1020.0 835.0C1020.9 833.0 1022.1 827.6 1022.5 825.0C1022.9 822.4 1023.8 815.4 1023.8 812.5C1023.8 809.6 1022.9 802.5 1022.5 800.0C1022.1 797.5 1022.0 792.0 1020.5 791.0C1019.0 790.0 1012.7 790.8 1010.0 791.0C1007.3 791.2 1000.1 792.2 997.5 792.5C994.9 792.8 989.0 793.8 987.5 793.8C986.0 793.8 984.8 791.8 984.5 792.5Z"/>
<path id="r6" d="M1095.0 797.5C1094.3 798.9 1096.8 804.1 1097.5 806.0C1098.2 807.9 1099.8 812.3 1101.0 813.8C1102.2 815.2 1105.9 818.3 1107.5 818.8C1109.1 819.2 1113.7 818.2 1115.0 817.5C1116.3 816.8 1118.3 813.8 1118.8 812.5C1119.2 811.2 1119.1 807.5 1118.8 806.0C1118.4 804.5 1116.7 801.6 1116.0 800.0C1115.3 798.4 1113.9 793.2 1112.5 792.5C1111.1 791.8 1105.8 793.2 1103.8 793.8C1101.7 794.3 1095.7 796.1 1095.0 797.5Z"/>
<path id="r7" d="M1161.0 776.0C1160.9 776.9 1162.3 782.1 1163.0 784.0C1163.7 785.9 1166.1 790.5 1167.0 792.0C1167.9 793.5 1170.0 795.9 1171.0 796.5C1172.0 797.1 1175.1 797.8 1176.0 797.5C1176.9 797.2 1178.6 795.1 1179.0 794.0C1179.4 792.9 1179.6 789.6 1179.5 788.0C1179.4 786.4 1178.3 781.2 1178.0 780.0C1177.7 778.8 1177.9 777.7 1177.0 777.5C1176.1 777.3 1171.5 778.1 1170.0 778.0C1168.5 777.9 1165.0 776.7 1164.0 776.5C1163.0 776.3 1161.1 775.1 1161.0 776.0Z"/>
<path id="r8" d="M868.8 847.5C868.6 849.1 869.4 855.3 870.0 857.5C870.6 859.7 872.5 864.5 873.8 866.0C875.0 867.5 879.0 869.7 881.0 870.0C883.0 870.3 888.5 869.6 891.0 868.8C893.5 867.9 900.0 864.4 902.5 862.5C905.0 860.6 910.6 855.1 912.5 852.5C914.4 849.9 917.8 842.9 918.8 840.0C919.7 837.1 921.0 830.0 921.0 827.5C921.0 825.0 919.7 820.1 918.8 818.8C917.8 817.4 914.2 815.5 912.5 815.5C910.8 815.5 906.1 817.4 903.8 818.8C901.4 820.1 895.3 825.3 892.5 827.5C889.7 829.7 882.5 835.6 880.0 837.5C877.5 839.4 872.3 842.6 871.0 843.8C869.7 844.9 868.9 845.9 868.8 847.5Z"/>
<path id="r10" d="M414.0 990.0C413.8 989.1 417.3 987.4 418.0 986.0C418.7 984.6 419.9 979.9 420.0 978.0C420.1 976.1 418.6 971.1 419.0 970.0C419.4 968.9 421.9 968.5 423.0 968.4C424.1 968.3 427.2 968.3 428.0 969.0C428.8 969.7 429.5 972.7 430.0 974.0C430.5 975.3 431.3 978.6 432.0 980.0C432.7 981.4 434.8 984.8 436.0 986.0C437.2 987.2 441.1 988.8 442.0 990.0C442.9 991.2 443.1 994.7 444.0 996.0C444.9 997.3 448.7 1000.1 450.0 1001.0C451.3 1001.9 454.5 1003.3 455.0 1004.0C455.5 1004.7 454.8 1006.4 454.0 1007.0C453.2 1007.6 449.6 1008.7 448.0 1009.0C446.4 1009.3 441.6 1009.7 440.0 1009.6C438.4 1009.5 435.3 1008.7 434.0 1008.0C432.7 1007.3 430.1 1005.0 429.0 1004.0C427.9 1003.0 426.1 1000.2 425.0 999.0C423.9 997.8 421.3 995.0 420.0 994.0C418.7 993.0 414.2 990.9 414.0 990.0Z"/>
<path id="r11" d="M820.0 866.0C820.2 864.7 822.2 861.7 823.0 861.0C823.8 860.3 826.1 859.8 827.0 860.0C827.9 860.2 830.2 861.8 831.0 863.0C831.8 864.2 833.6 868.4 834.0 870.0C834.4 871.6 834.5 876.0 834.0 877.0C833.5 878.0 831.0 878.9 830.0 879.0C829.0 879.1 826.0 878.4 825.0 877.6C824.0 876.8 821.6 873.4 821.0 872.0C820.4 870.6 819.8 867.3 820.0 866.0Z"/>
<path id="r12" d="M270.0 938.8C270.4 937.6 272.6 934.7 273.8 933.8C274.9 932.8 278.7 931.3 280.0 931.0C281.3 930.7 283.9 930.4 284.5 931.0C285.1 931.6 285.2 934.5 285.0 936.0C284.8 937.5 283.2 942.4 282.5 943.8C281.8 945.1 279.8 947.6 278.8 948.0C277.7 948.4 274.7 947.5 273.8 947.0C272.8 946.5 270.9 944.7 270.5 943.8C270.1 942.8 269.6 939.9 270.0 938.8Z"/>
<path id="r13" d="M523.0 763.0C523.6 762.1 526.2 761.8 527.0 762.0C527.8 762.2 529.5 764.1 530.0 765.0C530.5 765.9 531.1 769.0 531.0 770.0C530.9 771.0 529.7 773.5 529.0 774.0C528.3 774.5 525.8 774.5 525.0 774.0C524.2 773.5 522.2 771.3 522.0 770.0C521.8 768.7 522.4 763.9 523.0 763.0Z"/>
<path id="r14" d="M497.0 767.0C497.2 766.5 499.2 766.1 500.0 766.5C500.8 766.9 503.2 769.0 504.0 770.0C504.8 771.0 506.8 774.2 507.0 775.0C507.2 775.8 506.6 777.0 506.0 777.0C505.4 777.0 502.9 775.7 502.0 775.0C501.1 774.3 498.6 771.9 498.0 771.0C497.4 770.1 496.8 767.5 497.0 767.0Z"/>
<g id="geo">
<use href="#land" fill="#9b9b9b"/>
<use href="#r1" fill="#9b9b9b" stroke="#0a0a0a" stroke-linejoin="round"/>
<use href="#r2" fill="#9b9b9b" stroke="#0a0a0a" stroke-linejoin="round"/>
<use href="#r3" fill="#9b9b9b" stroke="#0a0a0a" stroke-linejoin="round"/>
<use href="#r4" fill="#9b9b9b" stroke="#0a0a0a" stroke-linejoin="round"/>
<use href="#r5" fill="#9b9b9b" stroke="#0a0a0a" stroke-linejoin="round"/>
<use href="#r6" fill="#9b9b9b" stroke="#0a0a0a" stroke-linejoin="round"/>
<use href="#r7" fill="#9b9b9b" stroke="#0a0a0a" stroke-linejoin="round"/>
<use href="#r8" fill="#9b9b9b" stroke="#0a0a0a" stroke-linejoin="round"/>
<use href="#r10" fill="#9b9b9b" stroke="#0a0a0a" stroke-linejoin="round"/>
<use href="#r11" fill="#9b9b9b" stroke="#0a0a0a" stroke-linejoin="round"/>
<use href="#r12" fill="#9b9b9b" stroke="#0a0a0a" stroke-linejoin="round"/>
<use href="#r13" fill="#9b9b9b" stroke="#0a0a0a" stroke-linejoin="round"/>
<use href="#r14" fill="#9b9b9b" stroke="#0a0a0a" stroke-linejoin="round"/>
<g fill="none" stroke="#0a0a0a" stroke-linejoin="round" stroke-linecap="round"><use href="#land"/><use href="#coast"/><path d="M1227 766L1235.5 762M1148.5 769L1151 775L1154.5 779.5"/></g>
<circle cx="867.5" cy="774.0" r="2.1" fill="#0a0a0a"/>
<circle cx="499.0" cy="978.6" r="2.1" fill="#0a0a0a"/>
<circle cx="534.0" cy="1003.0" r="2.1" fill="#0a0a0a"/>
<circle cx="480.6" cy="1018.4" r="2.1" fill="#0a0a0a"/>
<circle cx="531.6" cy="1040.6" r="2.1" fill="#0a0a0a"/>
<circle cx="618.8" cy="1106.0" r="2.1" fill="#0a0a0a"/>
<circle cx="93.0" cy="1102.0" r="2.1" fill="#0a0a0a"/>
</g>
<g id="grat" fill="none" stroke="#8c8c8c" stroke-width="0.8" stroke-dasharray="7 5">
<path d="M270 608 L315 1170"/><path d="M671 608 L671 1170"/><path d="M1072.5 608 L1026.5 1170"/>
<path d="M87.0 757.5 A4754.9 4754.9 0 0 1 1255.6 757.5"/><path d="M87.0 988.0 A4566.2 4566.2 0 0 1 1255.6 988.0"/>
</g>
</defs>
<rect width="1500" height="2394" fill="#fff"/>
<g transform="translate(0 -591.0)">
<g clip-path="url(#pc)">
<defs><clipPath id="shelf"><path d="M87.0 915.5C88.2 910.2 93.4 908.3 95.7 906.4C98.0 904.5 102.4 902.6 104.2 901.0C106.0 899.4 108.6 896.4 109.0 894.7C109.4 893.0 107.5 889.4 106.9 888.3C106.3 887.2 103.6 887.2 104.2 886.1C104.8 885.0 109.6 881.4 111.7 879.7C113.8 878.0 118.4 874.9 120.2 873.3C122.0 871.7 123.8 869.3 125.5 868.0C127.2 866.7 131.0 864.5 133.0 863.7C135.0 862.9 138.4 862.0 140.5 862.1C142.6 862.2 149.3 864.7 149.0 864.8C148.7 864.9 141.1 863.1 138.3 863.2C135.5 863.3 130.1 865.0 127.7 865.9C125.3 866.8 121.8 869.1 120.2 870.1C118.6 871.1 118.3 872.9 116.0 873.3C113.7 873.7 103.5 874.6 103.1 873.3C102.7 872.0 111.3 865.7 112.7 863.7C114.1 861.7 112.4 860.1 113.3 858.4C114.2 856.7 116.9 852.3 119.1 850.9C121.3 849.5 126.9 848.1 129.8 847.7C132.7 847.3 137.7 847.3 140.5 847.7C143.3 848.1 149.3 849.8 151.1 850.9C152.9 852.0 153.2 855.6 154.3 855.7C155.4 855.8 158.1 852.5 159.7 852.0C161.3 851.5 166.0 852.4 166.6 852.0C167.2 851.6 164.5 850.0 163.9 848.8C163.3 847.6 161.5 843.5 161.8 842.9C162.1 842.3 164.6 843.6 166.0 844.0C167.4 844.4 170.9 845.1 172.5 845.6C174.1 846.1 176.9 846.6 177.8 847.7C178.7 848.8 178.3 852.7 178.9 854.1C179.5 855.5 181.2 857.5 182.1 857.9C183.0 858.3 184.5 858.2 185.8 857.3C187.1 856.4 190.1 853.0 191.7 850.9C193.3 848.8 196.4 843.1 198.1 841.3C199.8 839.5 202.7 838.0 204.5 837.6C206.3 837.2 210.4 837.4 211.9 838.1C213.4 838.8 214.8 841.9 215.7 842.9C216.6 843.9 217.4 844.8 218.3 845.6C219.2 846.4 221.5 847.9 222.6 848.8C223.7 849.7 226.8 852.3 226.9 852.0C227.0 851.7 223.6 848.3 223.7 846.7C223.8 845.1 226.5 841.7 227.9 840.3C229.3 838.9 232.9 837.3 234.3 836.0C235.7 834.7 237.2 831.8 238.6 830.7C240.0 829.6 242.8 828.3 245.0 827.5C247.2 826.7 251.7 825.9 255.0 825.0C258.3 824.1 266.7 822.0 270.0 821.0C273.3 820.0 277.0 818.2 280.0 817.5C283.0 816.8 289.2 815.7 292.5 815.5C295.8 815.3 302.0 816.1 305.0 816.0C308.0 815.9 312.5 814.9 315.0 814.5C317.5 814.1 322.3 812.3 323.8 813.0C325.2 813.7 325.5 817.7 326.0 820.0C326.5 822.3 326.3 828.8 327.5 830.0C328.7 831.2 332.7 829.6 335.0 828.8C337.3 827.9 342.7 824.4 345.0 823.8C347.3 823.1 352.5 824.2 352.5 823.8C352.5 823.2 346.0 820.7 345.0 820.0C344.0 819.3 343.0 818.8 345.0 818.8C347.0 818.8 356.0 819.6 360.0 820.0C364.0 820.4 371.0 821.9 375.0 822.0C379.0 822.1 386.7 821.3 390.0 821.0C393.3 820.7 398.2 819.6 400.0 820.0C401.8 820.4 403.4 822.6 403.8 823.8C404.1 824.9 402.3 827.6 402.5 828.8C402.7 829.9 405.2 831.7 405.0 832.5C404.8 833.3 401.0 834.3 401.0 835.0C401.0 835.7 404.1 838.2 405.0 837.5C405.9 836.8 406.3 832.7 407.5 830.0C408.7 827.3 412.4 820.7 413.8 817.5C415.1 814.3 416.0 808.5 417.5 806.0C419.0 803.5 422.0 800.2 425.0 798.8C428.0 797.3 436.0 795.8 440.0 795.0C444.0 794.2 451.7 794.2 455.0 792.5C458.3 790.8 462.0 785.0 465.0 782.5C468.0 780.0 473.8 776.1 477.5 773.8C481.2 771.4 489.5 765.8 492.5 765.0C495.5 764.2 497.3 768.0 500.0 768.0C502.7 768.0 509.5 765.7 512.5 765.0C515.5 764.3 520.5 763.3 522.5 762.5C524.5 761.7 527.0 760.1 527.5 758.8C528.0 757.4 524.7 754.3 526.0 752.5C527.3 750.7 534.3 747.0 537.5 745.0C540.7 743.0 546.7 739.2 550.0 737.5C553.3 735.8 559.8 732.8 562.5 732.5C565.2 732.2 568.9 735.3 570.0 735.0C571.1 734.7 571.7 731.3 571.0 730.0C570.3 728.7 567.1 726.0 565.0 725.0C562.9 724.0 556.5 723.8 555.0 722.5C553.5 721.2 553.8 717.0 553.8 715.0C553.8 713.0 553.8 709.4 555.0 707.5C556.2 705.6 562.5 701.9 562.5 701.0C562.5 700.1 557.7 700.8 555.0 701.0C552.3 701.2 544.4 702.8 542.5 702.5C540.6 702.2 540.7 699.8 541.0 698.8C541.3 697.8 543.8 695.7 545.0 695.0C546.2 694.3 548.8 695.1 550.0 693.8C551.2 692.4 553.6 687.0 553.8 685.0C553.9 683.0 551.5 680.2 551.0 678.8C550.5 677.2 549.5 675.1 550.0 673.8C550.5 672.4 553.7 670.5 555.0 668.8C556.3 667.0 558.7 663.2 560.0 661.0C561.3 658.8 562.7 654.1 565.0 652.5C567.3 650.9 574.8 650.3 577.5 648.8C580.2 647.2 582.7 642.7 585.0 641.0C587.3 639.3 592.3 636.8 595.0 636.0C597.7 635.2 602.3 635.1 605.0 635.0C607.7 634.9 613.0 635.2 615.0 635.5C617.0 635.8 618.0 637.2 620.0 637.0C622.0 636.8 627.0 634.7 630.0 633.8C633.0 632.8 639.3 631.1 642.5 630.0C645.7 628.9 651.4 625.5 653.8 625.5C656.1 625.5 658.2 629.1 660.0 630.0C661.8 630.9 665.4 632.0 667.5 632.5C669.6 633.0 674.3 632.8 676.0 633.8C677.7 634.8 679.3 638.2 680.0 640.0C680.7 641.8 680.5 645.5 681.0 647.5C681.5 649.5 683.4 652.7 683.8 655.0C684.1 657.3 683.2 662.2 683.8 665.0C684.2 667.8 686.0 674.0 687.5 676.0C689.0 678.0 693.5 679.1 695.0 680.0C696.5 680.9 698.0 680.8 698.8 682.5C699.5 684.2 700.3 690.2 701.0 692.5C701.7 694.8 703.2 698.5 703.8 700.0C704.3 701.5 705.4 703.0 705.0 703.8C704.6 704.5 701.8 703.8 701.0 706.0C700.2 708.2 699.5 716.5 698.8 720.0C698.0 723.5 696.0 729.5 695.0 732.5C694.0 735.5 691.0 741.8 691.0 742.5C691.0 743.2 693.1 739.8 695.0 737.5C696.9 735.2 702.7 727.5 705.0 725.0C707.3 722.5 710.5 720.0 712.5 718.8C714.5 717.5 718.0 716.0 720.0 716.0C722.0 716.0 724.8 717.7 727.5 718.8C730.2 719.8 737.0 723.5 740.0 723.8C743.0 724.0 747.0 721.2 750.0 721.0C753.0 720.8 760.5 722.0 762.5 722.5C764.5 723.0 765.5 724.0 765.0 725.0C764.5 726.0 760.4 728.8 758.8 730.0C757.1 731.2 752.7 733.5 752.5 733.8C752.3 734.0 755.8 732.4 757.5 732.0C759.2 731.6 762.7 730.6 765.0 730.5C767.3 730.4 772.9 730.6 775.0 731.0C777.1 731.4 780.0 732.9 781.0 733.8C782.0 734.6 781.6 737.3 782.5 737.5C783.4 737.7 786.2 736.3 787.5 735.0C788.8 733.7 790.8 729.7 792.5 727.5C794.2 725.3 798.0 720.8 800.0 718.8C802.0 716.8 805.5 713.5 807.5 712.5C809.5 711.5 812.0 710.5 815.0 711.0C818.0 711.5 827.3 714.3 830.0 716.0C832.7 717.7 834.5 721.5 835.0 723.8C835.5 726.0 834.1 730.2 833.8 732.5C833.4 734.8 832.0 741.0 832.5 741.0C833.0 741.0 836.0 734.0 837.5 732.5C839.0 731.0 842.4 729.3 843.8 730.0C845.1 730.7 846.8 735.2 847.5 737.5C848.2 739.8 848.6 745.3 848.8 747.5C848.9 749.7 847.9 752.4 848.8 753.8C849.6 755.1 853.5 756.3 855.0 757.5C856.5 758.7 858.3 761.8 860.0 762.5C861.7 763.2 865.8 763.5 867.5 763.0C869.2 762.5 870.5 759.7 872.5 758.8C874.5 757.8 880.2 756.7 882.5 756.0C884.8 755.3 888.0 753.9 890.0 753.8C892.0 753.6 895.5 755.5 897.5 755.0C899.5 754.5 903.7 750.7 905.0 750.0C906.3 749.3 908.0 748.8 907.5 750.0C907.0 751.2 900.7 758.4 901.0 758.8C901.3 759.1 907.5 753.7 910.0 752.5C912.5 751.3 917.3 750.0 920.0 750.0C922.7 750.0 928.0 753.2 930.0 752.5C932.0 751.8 933.0 746.2 935.0 745.0C937.0 743.8 942.7 744.1 945.0 743.8C947.3 743.4 950.5 741.9 952.5 742.0C954.5 742.1 958.7 743.4 960.0 744.5C961.3 745.6 962.0 748.1 962.5 750.0C963.0 751.9 962.8 757.8 963.8 758.8C964.8 759.8 968.2 758.0 970.0 757.5C971.8 757.0 976.0 755.5 977.5 755.0C979.0 754.5 980.3 753.4 981.0 753.8C981.7 754.1 981.3 756.8 982.5 757.5C983.7 758.2 988.9 757.4 990.0 758.8C991.1 760.1 991.2 765.0 991.0 767.5C990.8 770.0 989.4 774.8 988.8 777.5C988.1 780.2 986.6 785.5 986.0 787.5C985.4 789.5 984.3 791.7 984.5 792.5C984.7 793.3 985.8 793.8 987.5 793.8C989.2 793.8 994.5 792.9 997.5 792.5C1000.5 792.1 1006.9 791.2 1010.0 791.0C1013.1 790.8 1019.2 792.0 1020.5 791.0C1021.8 790.0 1019.1 784.5 1020.0 783.8C1020.9 783.0 1025.5 785.2 1027.5 785.0C1029.5 784.8 1033.0 782.8 1035.0 782.5C1037.0 782.2 1040.5 783.0 1042.5 782.5C1044.5 782.0 1047.7 779.9 1050.0 778.8C1052.3 777.6 1057.3 774.8 1060.0 773.8C1062.7 772.7 1067.9 771.5 1070.0 771.0C1072.1 770.5 1075.0 770.8 1076.0 770.0C1077.0 769.2 1076.2 765.9 1077.5 765.0C1078.8 764.1 1084.7 762.3 1086.0 763.0C1087.3 763.7 1087.0 767.7 1087.5 770.0C1088.0 772.3 1089.3 777.3 1090.0 780.0C1090.7 782.7 1091.8 787.7 1092.5 790.0C1093.2 792.3 1093.5 797.0 1095.0 797.5C1096.5 798.0 1101.4 794.4 1103.8 793.8C1106.1 793.1 1111.8 793.7 1112.5 792.5C1113.2 791.3 1109.9 787.2 1108.8 785.0C1107.6 782.8 1104.8 778.3 1103.8 776.0C1102.7 773.7 1101.4 769.5 1101.0 767.5C1100.6 765.5 1100.3 762.5 1101.0 761.0C1101.7 759.5 1105.0 757.6 1106.0 756.0C1107.0 754.4 1107.7 750.1 1108.8 748.8C1109.8 747.4 1111.9 746.2 1113.8 746.0C1115.6 745.8 1120.3 747.1 1122.5 747.5C1124.7 747.9 1128.2 748.4 1130.0 749.0C1131.8 749.6 1134.1 751.3 1136.0 752.0C1137.9 752.7 1142.1 753.6 1144.0 754.0C1145.9 754.4 1148.8 753.9 1150.0 755.0C1151.2 756.1 1152.2 760.4 1153.0 762.0C1153.8 763.6 1155.2 765.5 1156.0 767.0C1156.8 768.5 1158.3 771.8 1159.0 773.0C1159.7 774.2 1160.3 775.5 1161.0 776.0C1161.7 776.5 1162.8 776.2 1164.0 776.5C1165.2 776.8 1168.3 777.9 1170.0 778.0C1171.7 778.1 1175.9 778.0 1177.0 777.5C1178.1 777.0 1177.2 774.7 1178.0 774.0C1178.8 773.3 1181.1 772.2 1183.0 772.0C1184.9 771.8 1191.9 772.4 1192.0 772.2C1192.1 772.0 1185.5 771.1 1184.0 770.5C1182.5 769.9 1181.5 768.7 1181.0 768.0C1180.5 767.3 1180.9 766.0 1180.5 765.5C1180.1 765.0 1178.4 764.8 1178.0 764.0C1177.6 763.2 1177.0 760.3 1177.5 759.5C1178.0 758.7 1179.7 758.3 1182.0 758.0C1184.3 757.7 1191.3 757.3 1195.0 757.0C1198.7 756.7 1207.3 755.4 1210.0 755.5C1212.7 755.6 1213.0 758.1 1215.0 758.0C1217.0 757.9 1222.5 755.7 1225.0 755.0C1227.5 754.3 1232.6 752.4 1234.0 752.5C1235.4 752.6 1235.2 754.7 1235.5 756.0C1235.8 757.3 1235.7 760.4 1236.0 762.0C1236.3 763.6 1237.2 766.4 1237.5 768.0C1237.8 769.6 1238.4 772.4 1238.5 774.0C1238.6 775.6 1237.9 778.7 1238.0 780.0C1238.1 781.3 1238.5 783.1 1239.0 784.0C1239.5 784.9 1241.2 786.3 1242.0 787.0C1242.8 787.7 1244.3 788.3 1245.0 789.0C1245.7 789.7 1247.4 791.1 1247.5 792.0C1247.6 792.9 1246.3 794.9 1246.0 796.0C1245.7 797.1 1245.2 798.9 1245.0 800.0C1244.8 801.1 1244.5 803.6 1244.5 804.0C1244.5 804.4 1245.1 802.2 1245.0 803.0C1244.9 803.8 1243.8 807.7 1243.5 810.0C1243.2 812.3 1242.7 817.3 1242.5 820.0C1242.3 822.7 1242.1 827.3 1242.2 830.0C1242.3 832.7 1243.1 837.9 1243.5 840.0C1243.9 842.1 1245.2 844.4 1245.5 846.0C1245.8 847.6 1246.3 851.1 1246.0 852.0C1245.7 852.9 1243.7 853.1 1243.0 853.0C1242.3 852.9 1240.8 850.9 1240.5 851.0C1240.2 851.1 1240.7 853.2 1241.0 854.0C1241.3 854.8 1242.5 855.9 1243.0 857.0C1243.5 858.1 1244.5 860.8 1245.0 862.0C1245.5 863.2 1246.3 865.1 1247.0 866.0C1247.7 866.9 1249.5 868.1 1250.0 869.0C1250.5 869.9 1251.1 871.9 1251.0 873.0C1250.9 874.1 1250.3 876.1 1249.5 877.0C1248.7 877.9 1246.5 879.3 1245.0 880.0C1243.5 880.7 1240.0 881.5 1238.0 882.0C1236.0 882.5 1231.7 883.9 1230.0 884.0C1228.3 884.1 1226.3 882.5 1225.0 882.5C1223.7 882.5 1221.3 883.8 1220.0 884.0C1218.7 884.2 1216.2 884.5 1215.0 884.0C1213.8 883.5 1212.1 880.7 1211.0 880.0C1209.9 879.3 1208.2 878.5 1207.0 878.5C1205.8 878.5 1203.5 879.5 1202.0 880.0C1200.5 880.5 1197.3 881.8 1196.0 882.0C1194.7 882.2 1193.3 881.0 1192.0 881.5C1190.7 882.0 1187.6 885.0 1186.0 886.0C1184.4 887.0 1181.5 888.7 1180.0 889.0C1178.5 889.3 1176.3 888.5 1175.0 888.0C1173.7 887.5 1171.2 885.5 1170.0 885.0C1168.8 884.5 1167.2 883.7 1166.0 884.0C1164.8 884.3 1162.2 886.1 1161.0 887.0C1159.8 887.9 1158.1 890.3 1157.0 891.0C1155.9 891.7 1154.2 892.1 1153.0 892.0C1151.8 891.9 1149.5 890.3 1148.0 890.0C1146.5 889.7 1143.6 890.3 1142.0 890.0C1140.4 889.7 1137.6 888.4 1136.0 888.0C1134.4 887.6 1131.8 887.1 1130.0 887.0C1128.2 886.9 1124.8 887.3 1122.5 887.5C1120.2 887.7 1114.8 889.0 1112.5 888.8C1110.2 888.5 1107.3 885.5 1105.0 886.0C1102.7 886.5 1097.7 892.5 1095.0 892.5C1092.3 892.5 1087.3 886.3 1085.0 886.0C1082.7 885.7 1079.5 889.6 1077.5 890.0C1075.5 890.4 1072.3 889.4 1070.0 888.8C1067.7 888.1 1062.3 885.2 1060.0 885.0C1057.7 884.8 1054.5 886.2 1052.5 887.5C1050.5 888.8 1047.3 893.5 1045.0 895.0C1042.7 896.5 1038.0 897.6 1035.0 898.8C1032.0 899.9 1025.8 903.2 1022.5 903.8C1019.2 904.2 1013.0 902.3 1010.0 902.5C1007.0 902.7 1002.7 904.0 1000.0 905.0C997.3 906.0 992.7 909.7 990.0 910.0C987.3 910.3 982.7 907.2 980.0 907.5C977.3 907.8 972.7 911.4 970.0 912.5C967.3 913.6 962.3 915.0 960.0 916.0C957.7 917.0 954.5 919.3 952.5 920.0C950.5 920.7 947.3 920.7 945.0 921.0C942.7 921.3 938.0 922.1 935.0 922.5C932.0 922.9 925.5 923.1 922.5 923.8C919.5 924.4 914.5 926.3 912.5 927.5C910.5 928.7 909.2 931.8 907.5 932.5C905.8 933.2 902.3 933.2 900.0 933.0C897.7 932.8 892.7 931.1 890.0 931.0C887.3 930.9 882.3 932.5 880.0 932.5C877.7 932.5 874.5 930.8 872.5 930.8C870.5 930.8 867.0 932.1 865.0 932.5C863.0 932.9 859.2 932.9 857.5 933.8C855.8 934.6 854.5 937.4 852.5 938.8C850.5 940.1 845.5 942.4 842.5 943.8C839.5 945.1 833.3 947.4 830.0 948.8C826.7 950.1 820.8 952.2 817.5 953.8C814.2 955.2 808.0 958.2 805.0 960.0C802.0 961.8 797.7 965.7 795.0 967.5C792.3 969.3 787.7 972.2 785.0 973.8C782.3 975.2 777.7 977.4 775.0 978.8C772.3 980.1 767.7 982.8 765.0 983.8C762.3 984.7 757.7 984.8 755.0 986.0C752.3 987.2 747.7 990.8 745.0 992.5C742.3 994.2 737.7 997.1 735.0 998.8C732.3 1000.4 727.3 1003.7 725.0 1005.0C722.7 1006.3 719.5 1007.4 717.5 1008.8C715.5 1010.1 712.0 1012.7 710.0 1015.0C708.0 1017.3 704.0 1023.5 702.5 1026.0C701.0 1028.5 699.6 1031.5 698.8 1033.8C697.9 1036.0 697.2 1040.3 696.0 1042.5C694.8 1044.7 691.3 1047.7 690.0 1050.0C688.7 1052.3 687.3 1058.5 686.0 1060.0C684.7 1061.5 681.8 1060.3 680.0 1061.0C678.2 1061.7 674.4 1063.5 672.5 1065.0C670.6 1066.5 667.7 1070.2 666.0 1072.5C664.3 1074.8 661.8 1080.7 660.0 1082.5C658.2 1084.3 653.2 1085.0 652.5 1086.0C651.8 1087.0 655.5 1087.8 655.0 1090.0C654.5 1092.2 650.8 1098.8 648.8 1102.5C646.8 1106.2 642.2 1113.8 640.0 1117.5C637.8 1121.2 634.5 1126.7 632.5 1130.0C630.5 1133.3 626.8 1139.5 625.0 1142.5C623.2 1145.5 620.2 1151.0 618.8 1152.5C617.2 1154.0 614.9 1154.0 613.8 1153.8C612.6 1153.5 610.8 1152.5 610.0 1151.0C609.2 1149.5 608.3 1144.3 607.5 1142.5C606.7 1140.7 605.3 1137.5 603.8 1137.5C602.2 1137.5 597.5 1142.5 596.0 1142.5C594.5 1142.5 592.8 1139.3 592.5 1137.5C592.2 1135.7 592.9 1131.1 593.8 1128.8C594.6 1126.4 597.4 1122.5 598.8 1120.0C600.1 1117.5 602.8 1114.0 603.8 1110.0C604.7 1106.0 605.3 1095.0 606.0 1090.0C606.7 1085.0 608.1 1076.8 608.8 1072.5C609.4 1068.2 610.5 1061.0 611.0 1057.5C611.5 1054.0 612.6 1049.1 612.5 1046.0C612.4 1042.9 610.7 1036.1 610.0 1034.0C609.3 1031.9 607.8 1031.3 607.0 1030.0C606.2 1028.7 605.2 1025.6 604.0 1024.0C602.8 1022.4 599.6 1019.9 598.0 1018.0C596.4 1016.1 593.3 1011.6 592.0 1010.0C590.7 1008.4 589.1 1006.5 588.0 1006.0C586.9 1005.5 584.9 1005.2 584.0 1006.0C583.1 1006.8 581.9 1010.1 581.0 1012.0C580.1 1013.9 578.1 1018.4 577.0 1020.0C575.9 1021.6 573.4 1022.7 573.0 1024.0C572.6 1025.3 573.7 1028.3 574.0 1030.0C574.3 1031.7 575.1 1035.4 575.0 1037.0C574.9 1038.6 573.4 1040.5 573.0 1042.0C572.6 1043.5 572.5 1046.4 572.0 1048.0C571.5 1049.6 569.9 1052.8 569.0 1054.0C568.1 1055.2 566.2 1057.0 565.0 1057.0C563.8 1057.0 560.9 1054.8 560.0 1054.0C559.1 1053.2 558.5 1050.9 558.0 1051.0C557.5 1051.1 557.3 1055.0 556.0 1055.0C554.7 1055.0 549.5 1052.1 548.0 1051.0C546.5 1049.9 545.7 1047.4 545.0 1047.0C544.3 1046.6 543.5 1047.1 543.0 1048.0C542.5 1048.9 541.7 1052.5 541.0 1054.0C540.3 1055.5 539.3 1058.5 538.0 1059.0C536.7 1059.5 532.3 1058.7 531.0 1058.0C529.7 1057.3 528.9 1055.3 528.4 1054.0C527.9 1052.7 527.8 1047.7 527.6 1048.0C527.4 1048.3 527.5 1054.3 527.0 1056.0C526.5 1057.7 525.2 1060.1 524.0 1061.0C522.8 1061.9 519.7 1063.1 518.0 1063.0C516.3 1062.9 512.1 1061.2 511.0 1060.0C509.9 1058.8 510.1 1055.7 510.0 1054.0C509.9 1052.3 510.3 1048.7 510.0 1047.0C509.7 1045.3 508.9 1042.1 508.0 1041.0C507.1 1039.9 504.5 1039.1 503.0 1039.0C501.5 1038.9 498.6 1040.1 497.0 1040.0C495.4 1039.9 492.1 1038.8 491.0 1038.0C489.9 1037.2 489.9 1035.1 489.0 1034.0C488.1 1032.9 485.2 1031.1 484.0 1030.0C482.8 1028.9 481.1 1027.3 480.0 1026.0C478.9 1024.7 476.7 1021.5 476.0 1020.0C475.3 1018.5 475.3 1015.5 475.0 1015.0C474.7 1014.5 473.9 1014.9 473.6 1016.0C473.3 1017.1 473.6 1021.8 473.0 1023.0C472.4 1024.2 470.1 1024.9 469.0 1025.0C467.9 1025.1 465.7 1024.8 465.0 1024.0C464.3 1023.2 464.4 1019.9 464.0 1019.0C463.6 1018.1 463.1 1017.1 462.0 1017.0C460.9 1016.9 457.3 1017.3 456.0 1018.0C454.7 1018.7 452.9 1020.7 452.0 1022.0C451.1 1023.3 449.8 1026.4 449.0 1028.0C448.2 1029.6 447.2 1032.9 446.0 1034.0C444.8 1035.1 441.3 1036.4 440.0 1036.0C438.7 1035.6 436.9 1032.3 436.0 1031.0C435.1 1029.7 433.8 1027.2 433.0 1026.0C432.2 1024.8 430.7 1022.3 430.0 1022.0C429.3 1021.7 428.7 1022.9 428.0 1024.0C427.3 1025.1 426.1 1028.8 425.0 1030.0C423.9 1031.2 420.5 1032.3 420.0 1033.0C419.5 1033.7 420.1 1034.7 421.0 1035.0C421.9 1035.3 425.9 1034.3 427.0 1035.0C428.1 1035.7 428.7 1038.0 429.0 1040.0C429.3 1042.0 429.1 1047.6 429.0 1050.0C428.9 1052.4 428.8 1056.5 428.0 1058.0C427.2 1059.5 424.5 1060.3 423.0 1061.0C421.5 1061.7 418.6 1062.4 417.0 1063.0C415.4 1063.6 412.3 1065.6 411.0 1065.6C409.7 1065.6 408.1 1064.0 407.0 1063.0C405.9 1062.0 403.7 1059.7 403.0 1058.0C402.3 1056.3 402.7 1051.7 402.0 1050.0C401.3 1048.3 399.3 1046.3 398.0 1045.0C396.7 1043.7 393.3 1041.5 392.0 1040.0C390.7 1038.5 389.1 1035.5 388.0 1034.0C386.9 1032.5 384.6 1029.7 384.0 1029.0C383.4 1028.3 384.8 1028.3 383.8 1028.8C382.7 1029.2 376.2 1031.8 376.0 1032.5C375.8 1033.2 381.0 1033.3 382.5 1033.8C384.0 1034.2 387.0 1034.9 387.5 1036.0C388.0 1037.1 387.0 1041.0 386.0 1042.0C385.0 1043.0 382.1 1043.5 380.0 1043.8C377.9 1044.0 372.3 1043.9 370.0 1043.8C367.7 1043.6 364.5 1043.3 362.5 1042.5C360.5 1041.7 357.0 1038.7 355.0 1038.0C353.0 1037.3 349.8 1036.9 347.5 1037.0C345.2 1037.1 340.2 1038.6 337.5 1038.8C334.8 1038.9 330.2 1038.2 327.5 1038.0C324.8 1037.8 319.5 1036.9 317.5 1037.5C315.5 1038.1 314.2 1041.7 312.5 1042.5C310.8 1043.3 307.3 1043.4 305.0 1043.8C302.7 1044.1 297.7 1044.7 295.0 1045.0C292.3 1045.3 287.7 1045.5 285.0 1046.0C282.3 1046.5 277.7 1048.2 275.0 1048.8C272.3 1049.3 267.7 1049.5 265.0 1050.0C262.3 1050.5 257.7 1052.4 255.0 1052.5C252.3 1052.6 247.3 1050.8 245.0 1051.0C242.7 1051.2 239.8 1053.2 237.5 1053.8C235.2 1054.3 229.8 1055.4 227.5 1055.0C225.2 1054.6 221.5 1052.3 220.0 1051.0C218.5 1049.7 216.3 1046.8 216.0 1045.0C215.7 1043.2 216.6 1039.5 217.5 1037.5C218.4 1035.5 221.5 1032.3 222.5 1030.0C223.5 1027.7 224.8 1022.7 225.0 1020.0C225.2 1017.3 223.9 1012.5 223.8 1010.0C223.6 1007.5 223.2 1003.0 223.8 1001.0C224.2 999.0 226.0 996.6 227.5 995.0C229.0 993.4 233.0 990.6 235.0 988.8C237.0 986.9 241.0 983.0 242.5 981.0C244.0 979.0 245.3 975.9 246.0 973.8C246.7 971.6 247.1 967.5 247.5 965.0C247.9 962.5 248.1 957.5 248.8 955.0C249.4 952.5 251.5 948.2 252.5 946.0C253.5 943.8 255.3 940.8 256.0 938.8C256.7 936.8 257.8 933.2 257.5 931.0C257.2 928.8 254.8 924.6 253.8 922.5C252.8 920.4 251.0 916.8 250.0 915.0C249.0 913.2 247.3 910.1 246.0 908.8C244.7 907.4 242.1 905.8 240.0 905.0C237.9 904.2 232.7 903.5 230.0 903.0C227.3 902.5 222.7 901.1 220.0 901.0C217.3 900.9 213.0 901.6 210.0 902.5C207.0 903.4 200.5 905.8 197.5 907.5C194.5 909.2 189.5 912.8 187.5 915.0C185.5 917.2 183.5 921.2 182.5 923.8C181.5 926.2 180.7 931.1 180.0 933.8C179.3 936.4 178.3 941.5 177.5 943.8C176.7 946.0 175.1 949.6 173.8 951.0C172.4 952.4 169.0 954.5 167.5 954.5C166.0 954.5 164.2 951.9 162.5 951.0C160.8 950.1 157.0 948.5 155.0 947.5C153.0 946.5 149.8 944.9 147.5 943.8C145.2 942.6 140.2 940.1 137.5 938.8C134.8 937.4 130.2 934.5 127.5 933.8C124.8 933.0 120.5 932.7 117.5 933.0C114.5 933.3 108.0 934.9 105.0 936.0C102.0 937.1 97.4 939.7 95.0 941.0C92.6 942.3 88.1 949.4 87.0 946.0C85.9 942.6 85.8 920.8 87.0 915.5Z"/><path d="M87.0 987.5C87.5 969.7 89.8 990.2 91.0 991.5C92.2 992.8 94.4 995.8 96.0 997.6C97.6 999.4 101.6 1003.1 103.2 1004.8C104.8 1006.5 106.8 1009.0 108.0 1010.5C109.2 1012.0 111.2 1014.3 112.0 1016.0C112.8 1017.7 113.7 1021.1 114.2 1023.0C114.7 1024.9 115.2 1027.7 115.4 1030.0C115.6 1032.3 116.1 1037.3 116.0 1040.0C115.9 1042.7 115.7 1047.7 115.0 1050.0C114.3 1052.3 111.8 1055.5 111.0 1057.5C110.2 1059.5 108.9 1063.3 108.8 1065.0C108.6 1066.7 110.5 1068.3 110.0 1070.0C109.5 1071.7 105.5 1075.2 105.0 1077.5C104.5 1079.8 105.5 1084.8 106.0 1087.5C106.5 1090.2 107.9 1095.2 108.8 1097.5C109.6 1099.8 111.3 1103.0 112.5 1105.0C113.7 1107.0 116.4 1110.4 117.5 1112.5C118.6 1114.6 120.7 1118.8 121.0 1121.0C121.3 1123.2 120.8 1126.9 120.0 1128.8C119.2 1130.6 117.0 1133.7 115.0 1135.0C113.0 1136.3 108.0 1138.0 105.0 1138.8C102.0 1139.5 94.5 1141.5 92.5 1141.0C90.5 1140.5 90.7 1137.0 90.0 1135.0C89.3 1133.0 87.9 1127.3 87.5 1126.0C87.1 1124.7 87.1 1143.5 87.0 1125.0C86.9 1106.5 86.5 1005.3 87.0 987.5Z"/></clipPath>
<filter id="bl1" x="-20%" y="-20%" width="140%" height="140%"><feGaussianBlur stdDeviation="9"/></filter>
<filter id="bl2" x="-20%" y="-20%" width="140%" height="140%"><feGaussianBlur stdDeviation="3.2"/></filter>
<filter id="bl3" x="-20%" y="-20%" width="140%" height="140%"><feGaussianBlur stdDeviation="6"/></filter>
<filter id="texr" filterUnits="userSpaceOnUse" x="87" y="608" width="1169" height="562"><feTurbulence type="fractalNoise" baseFrequency="0.055 0.016" numOctaves="3" seed="7"/><feColorMatrix type="matrix" values="0 0 0 0 0.78  0 0 0 0 0.30  0 0 0 0 0.24  2.6 0 0 0 -1.15"/></filter>
<filter id="texw" filterUnits="userSpaceOnUse" x="87" y="608" width="1169" height="562"><feTurbulence type="fractalNoise" baseFrequency="0.05 0.018" numOctaves="3" seed="23"/><feColorMatrix type="matrix" values="0 0 0 0 1  0 0 0 0 0.97  0 0 0 0 0.96  0 2.4 0 0 -1.25"/></filter></defs>
<g clip-path="url(#shelf)">
<rect x="80" y="600" width="1190" height="580" fill="#ecd0c6"/>
<g filter="url(#bl1)"><ellipse cx="160.0" cy="896.0" rx="80.0" ry="62.0" fill="#eac8bc"/><ellipse cx="255.0" cy="881.0" rx="36.0" ry="52.0" fill="#ecd0c6"/><ellipse cx="345.0" cy="856.0" rx="62.0" ry="40.0" fill="#cb6454"/><ellipse cx="335.0" cy="976.0" rx="40.0" ry="52.0" fill="#eed4cb"/><ellipse cx="275.0" cy="976.0" rx="22.0" ry="40.0" fill="#f2e8e6"/><ellipse cx="393.0" cy="961.0" rx="13.0" ry="55.0" fill="#cd6e5f" transform="rotate(-14 393.0 961.0)"/><ellipse cx="310.0" cy="986.0" rx="10.0" ry="50.0" fill="#d7917d"/><ellipse cx="432.0" cy="946.0" rx="24.0" ry="42.0" fill="#dea596"/><ellipse cx="445.0" cy="866.0" rx="36.0" ry="18.0" fill="#e1afa0"/><ellipse cx="425.0" cy="1026.0" rx="38.0" ry="22.0" fill="#c3503e"/><ellipse cx="235.0" cy="1026.0" rx="17.0" ry="32.0" fill="#f0e1dc"/><ellipse cx="100.0" cy="1051.0" rx="16.0" ry="70.0" fill="#eedcd7"/><ellipse cx="520.0" cy="891.0" rx="50.0" ry="130.0" fill="#e5bcaf"/><ellipse cx="648.0" cy="866.0" rx="60.0" ry="125.0" fill="#f1e8e5"/><ellipse cx="790.0" cy="841.0" rx="70.0" ry="100.0" fill="#efdcd5"/><ellipse cx="1060.0" cy="826.0" rx="210.0" ry="62.0" fill="#e7beb0"/><ellipse cx="957.0" cy="772.0" rx="32.0" ry="26.0" fill="#d6917e"/><ellipse cx="1055.0" cy="786.0" rx="36.0" ry="15.0" fill="#d6917e"/><ellipse cx="1133.0" cy="763.0" rx="26.0" ry="13.0" fill="#d6917e"/><ellipse cx="1212.0" cy="790.0" rx="32.0" ry="32.0" fill="#d6917e"/><ellipse cx="980.0" cy="840.0" rx="20.0" ry="24.0" fill="#f3ecea"/><ellipse cx="625.0" cy="921.0" rx="22.0" ry="70.0" fill="#a5c3d4"/><ellipse cx="716.0" cy="931.0" rx="16.0" ry="52.0" fill="#a5c3d4" transform="rotate(-10 716.0 931.0)"/><ellipse cx="795.0" cy="943.0" rx="45.0" ry="22.0" fill="#d0dce3" transform="rotate(-20 795.0 943.0)"/><ellipse cx="575.0" cy="811.0" rx="16.0" ry="14.0" fill="#d0dce3"/><ellipse cx="728.0" cy="1003.0" rx="34.0" ry="9.0" fill="#c96652" transform="rotate(-32 728.0 1003.0)"/><ellipse cx="800.0" cy="958.0" rx="60.0" ry="6.0" fill="#d6917e" transform="rotate(-27 800.0 958.0)"/><ellipse cx="900.0" cy="929.0" rx="50.0" ry="5.0" fill="#d6917e" transform="rotate(-5 900.0 929.0)"/><ellipse cx="1100.0" cy="891.0" rx="140.0" ry="5.0" fill="#d6917e" transform="rotate(-4 1100.0 891.0)"/><ellipse cx="725.0" cy="724.0" rx="20.0" ry="11.0" fill="#c96652" transform="rotate(-25 725.0 724.0)"/><ellipse cx="812.0" cy="721.0" rx="26.0" ry="10.0" fill="#c96652"/></g>
<rect x="87" y="608" width="1169" height="562" filter="url(#texr)"/>
<rect x="87" y="608" width="1169" height="562" filter="url(#texw)"/>
<g filter="url(#bl2)" fill="none" stroke-linejoin="round"><use href="#gl" stroke="#ce7360" stroke-width="9" stroke-opacity="0.75"/><use href="#coast" stroke="#d6917e" stroke-width="8" stroke-opacity="0.5"/></g>
<g filter="url(#bl3)"><ellipse cx="930.0" cy="759.0" rx="50.0" ry="9.0" fill="#d6917e" transform="rotate(-8 930.0 759.0)"/><ellipse cx="1055.0" cy="783.0" rx="32.0" ry="10.0" fill="#cd705c" transform="rotate(-5 1055.0 783.0)"/><ellipse cx="1130.0" cy="761.0" rx="24.0" ry="10.0" fill="#d6917e" transform="rotate(10 1130.0 761.0)"/><ellipse cx="1215.0" cy="786.0" rx="26.0" ry="26.0" fill="#d58c78"/><ellipse cx="655.0" cy="856.0" rx="38.0" ry="95.0" fill="#f4eeed" fill-opacity="0.6"/><ellipse cx="775.0" cy="836.0" rx="55.0" ry="80.0" fill="#f3e6e1" fill-opacity="0.6"/><ellipse cx="618.0" cy="901.0" rx="16.0" ry="60.0" fill="#a5c3d4" fill-opacity="0.8"/><ellipse cx="565.0" cy="666.0" rx="10.0" ry="22.0" fill="#a0182b"/><ellipse cx="668.0" cy="651.0" rx="14.0" ry="14.0" fill="#a0182b"/><ellipse cx="600.0" cy="643.0" rx="30.0" ry="8.0" fill="#a0182b" transform="rotate(-8 600.0 643.0)"/><ellipse cx="605.0" cy="753.0" rx="30.0" ry="16.0" fill="#d6917e"/><ellipse cx="392.0" cy="959.0" rx="10.0" ry="50.0" fill="#cb6958" transform="rotate(-14 392.0 959.0)"/><ellipse cx="310.0" cy="983.0" rx="8.0" ry="42.0" fill="#d68c78"/><ellipse cx="440.0" cy="1021.0" rx="14.0" ry="14.0" fill="#b93a2a"/><ellipse cx="322.0" cy="846.0" rx="28.0" ry="22.0" fill="#be4b3c"/><ellipse cx="380.0" cy="853.0" rx="22.0" ry="26.0" fill="#c65c4c"/><ellipse cx="622.0" cy="683.0" rx="62.0" ry="52.0" fill="#b93a2a"/><ellipse cx="603.0" cy="729.0" rx="36.0" ry="20.0" fill="#c96652"/><ellipse cx="690.0" cy="699.0" rx="12.0" ry="28.0" fill="#c96652" transform="rotate(10 690.0 699.0)"/><ellipse cx="345.0" cy="853.0" rx="52.0" ry="30.0" fill="#c45848"/><ellipse cx="425.0" cy="1028.0" rx="30.0" ry="16.0" fill="#be4637"/><ellipse cx="625.0" cy="936.0" rx="14.0" ry="55.0" fill="#a5c3d4"/><ellipse cx="716.0" cy="941.0" rx="11.0" ry="40.0" fill="#a5c3d4" transform="rotate(-10 716.0 941.0)"/></g>
<g filter="url(#bl2)"><ellipse cx="572.0" cy="671.0" rx="17.0" ry="20.0" fill="#a0182b"/><ellipse cx="664.0" cy="655.0" rx="16.0" ry="17.0" fill="#a0182b"/><ellipse cx="610.0" cy="661.0" rx="30.0" ry="18.0" fill="#a0182b"/><ellipse cx="336.0" cy="834.0" rx="17.0" ry="9.0" fill="#700e28" transform="rotate(-10 336.0 834.0)"/><ellipse cx="333.0" cy="857.0" rx="6.0" ry="6.0" fill="#700e28"/><ellipse cx="393.0" cy="831.0" rx="8.0" ry="9.0" fill="#a0182b"/><ellipse cx="386.0" cy="882.0" rx="15.0" ry="6.0" fill="#a0182b" transform="rotate(25 386.0 882.0)"/><ellipse cx="299.0" cy="916.0" rx="10.0" ry="7.0" fill="#700e28"/><ellipse cx="272.0" cy="931.0" rx="13.0" ry="5.0" fill="#b93a2a"/><ellipse cx="352.0" cy="888.0" rx="6.0" ry="5.0" fill="#b93a2a"/><ellipse cx="303.0" cy="857.0" rx="6.0" ry="5.0" fill="#b93a2a"/><ellipse cx="326.0" cy="831.0" rx="8.0" ry="7.0" fill="#a0182b"/><ellipse cx="375.0" cy="853.0" rx="7.0" ry="6.0" fill="#b93a2a"/><ellipse cx="408.0" cy="1036.0" rx="20.0" ry="22.0" fill="#460a18"/><ellipse cx="398.0" cy="1013.0" rx="10.0" ry="8.0" fill="#700e28"/><ellipse cx="442.0" cy="1023.0" rx="12.0" ry="16.0" fill="#b93a2a"/><ellipse cx="172.0" cy="853.0" rx="6.0" ry="6.0" fill="#b93a2a"/><ellipse cx="166.0" cy="944.0" rx="9.0" ry="9.0" fill="#b93a2a"/><ellipse cx="235.0" cy="1041.0" rx="8.0" ry="17.0" fill="#b93a2a"/><ellipse cx="108.0" cy="1021.0" rx="4.0" ry="8.0" fill="#b93a2a"/><ellipse cx="120.0" cy="1111.0" rx="5.0" ry="6.0" fill="#b93a2a"/><ellipse cx="219.0" cy="891.0" rx="8.0" ry="9.0" fill="#1e3e96"/><ellipse cx="328.0" cy="925.0" rx="26.0" ry="7.0" fill="#a5c3d4"/><ellipse cx="311.0" cy="930.0" rx="6.0" ry="4.0" fill="#64a0c4"/><ellipse cx="275.0" cy="953.0" rx="7.0" ry="5.0" fill="#a5c3d4"/><ellipse cx="248.0" cy="1009.0" rx="7.0" ry="14.0" fill="#a5c3d4"/><ellipse cx="288.0" cy="1041.0" rx="7.0" ry="8.0" fill="#1c76be"/><ellipse cx="286.0" cy="1017.0" rx="6.0" ry="6.0" fill="#a5c3d4"/><ellipse cx="330.0" cy="1032.0" rx="12.0" ry="9.0" fill="#64a0c4"/><ellipse cx="102.0" cy="1006.0" rx="5.0" ry="7.0" fill="#1c76be"/><ellipse cx="357.0" cy="852.0" rx="10.0" ry="8.0" fill="#eecdc4"/><ellipse cx="616.0" cy="963.0" rx="9.0" ry="30.0" fill="#1c76be"/><ellipse cx="615.0" cy="978.0" rx="4.0" ry="13.0" fill="#1e3e96"/><ellipse cx="659.0" cy="843.0" rx="3.0" ry="14.0" fill="#1c76be"/><ellipse cx="606.0" cy="876.0" rx="9.0" ry="26.0" fill="#a5c3d4"/><ellipse cx="714.0" cy="966.0" rx="10.0" ry="24.0" fill="#64a0c4" transform="rotate(-12 714.0 966.0)"/><ellipse cx="706.0" cy="988.0" rx="6.0" ry="6.0" fill="#1e3e96"/><ellipse cx="650.0" cy="941.0" rx="5.0" ry="12.0" fill="#64a0c4"/><ellipse cx="578.0" cy="991.0" rx="6.0" ry="8.0" fill="#700e28"/><path d="M624.8 1010.6C627.0 1009.0 634.2 1015.0 636.8 1016.6C639.4 1018.2 642.6 1019.1 644.0 1022.6C645.4 1026.1 644.4 1039.6 647.6 1043.0C650.8 1046.4 664.8 1045.6 668.0 1047.8C671.2 1050.0 672.2 1056.4 671.6 1059.8C671.0 1063.2 665.6 1068.8 663.2 1073.0C660.8 1077.2 656.2 1086.2 653.6 1091.0C651.0 1095.8 646.6 1105.0 644.0 1109.0C641.4 1113.0 637.0 1119.2 634.4 1121.0C631.8 1122.8 626.4 1123.9 624.8 1122.3C623.2 1120.7 622.1 1113.2 622.4 1109.0C622.7 1104.8 625.9 1095.8 627.2 1091.0C628.5 1086.2 630.7 1077.8 632.0 1073.0C633.3 1068.2 636.6 1059.0 636.8 1055.0C637.0 1051.0 635.1 1045.2 633.2 1043.0C631.3 1040.8 624.2 1040.1 622.4 1038.2C620.6 1036.3 619.7 1032.3 620.0 1028.6C620.3 1024.9 622.6 1012.2 624.8 1010.6Z" fill="#460a18"/><ellipse cx="652.0" cy="1030.0" rx="5.0" ry="13.0" fill="#d6917e"/><ellipse cx="688.0" cy="1028.0" rx="10.0" ry="11.0" fill="#b93a2a"/><ellipse cx="683.0" cy="1043.0" rx="7.0" ry="5.0" fill="#ffffff"/><ellipse cx="1084.0" cy="787.0" rx="6.0" ry="9.0" fill="#a0182b"/><ellipse cx="1148.0" cy="765.0" rx="8.0" ry="7.0" fill="#b93a2a"/><ellipse cx="1239.0" cy="801.0" rx="6.0" ry="11.0" fill="#a0182b"/><ellipse cx="929.0" cy="811.0" rx="10.0" ry="10.0" fill="#c96652"/><ellipse cx="140.0" cy="853.0" rx="30.0" ry="10.0" fill="#ffffff" transform="rotate(-12 140.0 853.0)"/><ellipse cx="110.0" cy="869.0" rx="10.0" ry="6.0" fill="#ffffff"/><ellipse cx="607.0" cy="1071.0" rx="17.0" ry="78.0" fill="#ffffff" transform="rotate(6 607.0 1071.0)"/><ellipse cx="600.0" cy="1011.0" rx="10.0" ry="14.0" fill="#ffffff"/><ellipse cx="690.0" cy="1053.0" rx="8.0" ry="6.0" fill="#ffffff"/><ellipse cx="890.0" cy="771.0" rx="18.0" ry="4.0" fill="#f3ecea" transform="rotate(-10 890.0 771.0)"/><ellipse cx="556.0" cy="756.0" rx="22.0" ry="9.0" fill="#ffffff" transform="rotate(-12 556.0 756.0)"/><ellipse cx="790.0" cy="756.0" rx="7.0" ry="16.0" fill="#ffffff"/><ellipse cx="515.0" cy="779.0" rx="10.0" ry="3.0" fill="#ffffff" transform="rotate(-20 515.0 779.0)"/><ellipse cx="470.0" cy="841.0" rx="5.0" ry="8.0" fill="#ffffff"/><ellipse cx="545.0" cy="691.0" rx="8.0" ry="4.0" fill="#ffffff"/></g>
<g fill="none" stroke="#151515" stroke-width="1.1" stroke-linejoin="round">
<path d="M600.0 1006.0C600.8 1008.0 604.3 1016.3 606.0 1021.0C607.7 1025.7 612.3 1035.0 613.0 1041.0C613.7 1047.0 611.8 1059.3 611.0 1066.0C610.2 1072.7 608.1 1084.3 607.0 1091.0C605.9 1097.7 603.9 1110.0 603.0 1116.0C602.1 1122.0 600.4 1133.3 600.0 1136.0"/>
<path d="M607.0 1006.0C607.8 1008.0 611.3 1016.1 613.0 1021.0C614.7 1025.9 619.3 1036.6 620.0 1043.0C620.7 1049.4 618.9 1062.2 618.0 1069.0C617.1 1075.8 614.3 1087.3 613.0 1094.0C611.7 1100.7 609.1 1113.0 608.0 1119.0C606.9 1125.0 605.4 1136.3 605.0 1139.0"/>
<path d="M594.0 1016.0C594.8 1018.7 598.4 1030.7 600.0 1036.0C601.6 1041.3 605.5 1050.0 606.0 1056.0C606.5 1062.0 604.8 1074.3 604.0 1081.0C603.2 1087.7 600.9 1100.0 600.0 1106.0C599.1 1112.0 597.4 1123.3 597.0 1126.0"/>
<path d="M613.0 1053.0C614.2 1055.1 621.3 1063.9 622.0 1069.0C622.7 1074.1 619.2 1085.4 618.0 1091.0C616.8 1096.6 614.1 1105.7 613.0 1111.0C611.9 1116.3 610.1 1126.3 610.0 1131.0C609.9 1135.7 611.7 1144.0 612.0 1146.0"/>
<path d="M625.0 1046.0C625.4 1048.7 628.4 1060.0 628.0 1066.0C627.6 1072.0 623.3 1084.7 622.0 1091.0C620.7 1097.3 618.8 1107.0 618.0 1113.0C617.2 1119.0 616.3 1132.9 616.0 1136.0"/>
<path d="M598.0 1121.0C598.7 1122.3 601.7 1128.1 603.0 1131.0C604.3 1133.9 606.5 1140.6 608.0 1143.0C609.5 1145.4 612.4 1149.5 614.0 1149.0C615.6 1148.5 618.4 1142.1 620.0 1139.0C621.6 1135.9 625.2 1127.7 626.0 1126.0"/>
<path d="M602.0 1127.0 L607.0 1137.0 L611.0 1145.0"/>
<path d="M606.0 1125.0 L611.0 1134.0 L615.0 1143.0"/>
<path d="M610.0 1123.0 L615.0 1132.0 L619.0 1139.0"/>
<path d="M640.0 1016.0C641.3 1015.1 647.9 1008.3 650.0 1009.0C652.1 1009.7 654.9 1016.1 656.0 1021.0C657.1 1025.9 656.7 1040.7 658.0 1046.0C659.3 1051.3 664.9 1059.0 666.0 1061.0"/>
<path d="M648.0 986.0C648.3 988.0 650.3 995.0 650.0 1001.0C649.7 1007.0 647.3 1023.0 646.0 1031.0C644.7 1039.0 641.9 1053.0 640.0 1061.0C638.1 1069.0 633.1 1087.0 632.0 1091.0"/>
<path d="M700.0 983.0C701.6 981.4 709.1 973.7 712.0 971.0C714.9 968.3 719.9 963.0 722.0 963.0C724.1 963.0 728.9 967.9 728.0 971.0C727.1 974.1 718.1 982.0 715.0 986.0C711.9 990.0 708.3 997.0 705.0 1001.0C701.7 1005.0 693.3 1012.0 690.0 1016.0C686.7 1020.0 681.1 1027.7 680.0 1031.0C678.9 1034.3 681.7 1039.7 682.0 1041.0"/>
<path d="M653.0 640.0C655.9 639.7 671.4 632.9 675.0 638.0C678.6 643.1 679.7 663.9 680.0 678.0C680.3 692.1 677.1 728.0 677.0 744.0C676.9 760.0 678.6 783.7 679.0 798.0C679.4 812.3 679.7 836.9 680.0 851.0C680.3 865.1 681.0 889.7 681.0 904.0C681.0 918.3 680.5 947.3 680.0 958.0C679.5 968.7 677.4 980.5 677.0 984.0"/>
<path d="M640.0 651.0C637.9 655.9 625.7 679.1 624.0 688.0C622.3 696.9 626.9 709.7 627.0 718.0C627.1 726.3 625.0 741.2 625.0 750.0C625.0 758.8 626.6 774.1 627.0 784.0C627.4 793.9 627.5 813.3 628.0 824.0C628.5 834.7 630.1 853.3 631.0 864.0C631.9 874.7 633.9 893.3 635.0 904.0C636.1 914.7 637.9 935.1 639.0 944.0C640.1 952.9 642.2 962.1 643.0 971.0C643.8 979.9 644.7 1005.7 645.0 1011.0"/>
<path d="M691.0 739.0C691.3 743.3 692.3 759.7 693.0 771.0C693.7 782.3 695.5 809.7 696.0 824.0C696.5 838.3 696.6 867.3 697.0 878.0C697.4 888.7 698.7 900.5 699.0 904.0"/>
<path d="M663.0 743.0C663.8 744.1 668.1 747.3 669.0 751.0C669.9 754.7 670.3 766.7 670.0 771.0C669.7 775.3 668.3 781.7 667.0 783.0C665.7 784.3 661.3 783.7 660.0 781.0C658.7 778.3 657.1 767.5 657.0 763.0C656.9 758.5 658.2 749.7 659.0 747.0C659.8 744.3 662.5 743.5 663.0 743.0"/>
<path d="M667.0 789.0C667.9 790.6 672.9 794.1 674.0 801.0C675.1 807.9 675.3 831.0 675.0 841.0C674.7 851.0 672.9 869.3 672.0 876.0C671.1 882.7 669.3 891.7 668.0 891.0C666.7 890.3 663.1 879.0 662.0 871.0C660.9 863.0 660.1 840.3 660.0 831.0C659.9 821.7 660.1 806.6 661.0 801.0C661.9 795.4 666.2 790.6 667.0 789.0"/>
<path d="M717.0 758.0C717.9 759.1 722.9 762.3 724.0 766.0C725.1 769.7 725.5 781.7 725.0 786.0C724.5 790.3 721.6 796.9 720.0 798.0C718.4 799.1 714.2 796.9 713.0 794.0C711.8 791.1 711.0 780.3 711.0 776.0C711.0 771.7 712.2 764.4 713.0 762.0C713.8 759.6 716.5 758.5 717.0 758.0"/>
<path d="M784.0 760.0C786.1 761.5 796.1 766.7 800.0 771.0C803.9 775.3 810.5 786.3 813.0 792.0C815.5 797.7 819.7 807.9 819.0 814.0C818.3 820.1 810.9 830.9 808.0 838.0C805.1 845.1 800.6 862.7 797.0 867.0C793.4 871.3 785.3 871.1 781.0 870.0C776.7 868.9 766.3 863.3 765.0 859.0C763.7 854.7 768.5 842.9 771.0 838.0C773.5 833.1 782.9 827.3 784.0 822.0C785.1 816.7 778.6 804.1 779.0 798.0C779.4 791.9 786.3 781.1 787.0 776.0C787.7 770.9 784.4 762.1 784.0 760.0"/>
<path d="M528.0 760.0C529.7 765.1 538.9 787.6 541.0 798.0C543.1 808.4 541.9 831.6 544.0 838.0C546.1 844.4 553.8 842.5 557.0 846.0C560.2 849.5 565.1 858.0 568.0 864.0C570.9 870.0 578.3 883.8 579.0 891.0C579.7 898.2 575.1 911.6 573.0 918.0C570.9 924.4 566.2 934.1 563.0 939.0C559.8 943.9 551.1 949.7 549.0 955.0C546.9 960.3 545.9 974.3 547.0 979.0C548.1 983.7 555.7 988.5 557.0 990.0"/>
<path d="M723.0 888.0C724.3 892.0 730.2 911.2 733.0 918.0C735.8 924.8 740.4 933.7 744.0 939.0C747.6 944.3 757.9 955.5 760.0 958.0"/>
<path d="M563.0 803.0C565.1 802.3 574.1 798.7 579.0 798.0C583.9 797.3 595.7 795.2 600.0 798.0C604.3 800.8 611.0 814.5 611.0 819.0C611.0 823.5 603.6 831.6 600.0 832.0C596.4 832.4 588.3 824.4 584.0 822.0C579.7 819.6 570.8 816.5 568.0 814.0C565.2 811.5 563.7 804.5 563.0 803.0"/>
<path d="M600.0 846.0C600.8 848.0 604.4 856.3 606.0 861.0C607.6 865.7 610.1 873.0 612.0 881.0C613.9 889.0 617.9 911.7 620.0 921.0C622.1 930.3 625.3 943.0 628.0 951.0C630.7 959.0 636.4 974.3 640.0 981.0C643.6 987.7 651.0 997.0 655.0 1001.0C659.0 1005.0 668.0 1009.7 670.0 1011.0"/>
<path d="M590.0 901.0C588.0 905.0 579.0 923.0 575.0 931.0C571.0 939.0 563.6 953.7 560.0 961.0C556.4 968.3 553.3 982.0 548.0 986.0C542.7 990.0 526.4 992.3 520.0 991.0C513.6 989.7 504.0 976.7 500.0 976.0C496.0 975.3 491.3 984.7 490.0 986.0"/>
<path d="M141.0 891.0C142.2 890.5 147.5 886.3 150.0 887.0C152.5 887.7 157.7 892.8 160.0 896.0C162.3 899.2 165.9 906.3 167.0 911.0C168.1 915.7 169.2 927.7 168.0 931.0C166.8 934.3 160.7 936.7 158.0 936.0C155.3 935.3 150.1 929.6 148.0 926.0C145.9 922.4 142.9 913.7 142.0 909.0C141.1 904.3 141.1 893.4 141.0 891.0"/>
<path d="M289.0 806.0C289.4 810.7 291.9 832.3 292.0 841.0C292.1 849.7 288.9 864.3 290.0 871.0C291.1 877.7 297.3 886.3 300.0 891.0C302.7 895.7 306.0 904.7 310.0 906.0C314.0 907.3 323.3 903.7 330.0 901.0C336.7 898.3 354.0 890.7 360.0 886.0C366.0 881.3 373.3 869.3 375.0 866.0C376.7 862.7 373.3 861.7 373.0 861.0"/>
<path d="M295.0 936.0C296.3 943.3 303.0 978.3 305.0 991.0C307.0 1003.7 308.3 1023.7 310.0 1031.0C311.7 1038.3 316.9 1044.0 318.0 1046.0"/>
<path d="M322.0 936.0C321.5 943.3 318.0 978.3 318.0 991.0C318.0 1003.7 320.4 1023.7 322.0 1031.0C323.6 1038.3 328.9 1044.0 330.0 1046.0"/>
<path d="M373.0 911.0C373.7 916.3 375.5 941.0 378.0 951.0C380.5 961.0 388.4 978.0 392.0 986.0C395.6 994.0 403.3 1007.7 405.0 1011.0"/>
<path d="M252.0 891.0C253.3 890.5 260.1 886.2 262.0 887.0C263.9 887.8 266.5 894.9 266.0 897.0C265.5 899.1 260.1 902.7 258.0 903.0C255.9 903.3 250.8 900.6 250.0 899.0C249.2 897.4 251.7 892.1 252.0 891.0"/>
<path d="M245.0 866.0C246.3 865.1 252.7 859.4 255.0 859.0C257.3 858.6 261.1 860.7 262.0 863.0C262.9 865.3 263.6 873.6 262.0 876.0C260.4 878.4 252.3 881.3 250.0 881.0C247.7 880.7 245.7 876.0 245.0 874.0C244.3 872.0 245.0 867.1 245.0 866.0"/>
<path d="M225.0 1036.0C227.0 1032.7 236.0 1017.0 240.0 1011.0C244.0 1005.0 251.0 994.3 255.0 991.0C259.0 987.7 266.9 985.3 270.0 986.0C273.1 986.7 278.3 992.0 278.0 996.0C277.7 1000.0 271.5 1010.7 268.0 1016.0C264.5 1021.3 255.7 1032.0 252.0 1036.0C248.3 1040.0 241.6 1044.7 240.0 1046.0"/>
<path d="M232.0 1049.0C235.1 1047.9 249.3 1043.4 255.0 1041.0C260.7 1038.6 270.1 1032.6 275.0 1031.0C279.9 1029.4 288.7 1028.3 292.0 1029.0C295.3 1029.7 298.9 1035.1 300.0 1036.0"/>
<path d="M405.0 936.0C406.3 934.0 411.7 923.7 415.0 921.0C418.3 918.3 426.0 915.3 430.0 916.0C434.0 916.7 442.3 922.7 445.0 926.0C447.7 929.3 449.3 939.0 450.0 941.0"/>
<path d="M876.0 786.0C877.9 788.7 888.7 801.1 890.0 806.0C891.3 810.9 888.0 819.9 886.0 823.0C884.0 826.1 876.5 828.2 875.0 829.0"/>
<path d="M905.0 766.0C907.7 765.3 919.0 760.3 925.0 761.0C931.0 761.7 943.3 767.7 950.0 771.0C956.7 774.3 970.3 782.0 975.0 786.0C979.7 790.0 983.7 799.0 985.0 801.0"/>
<path d="M935.0 806.0C937.7 807.3 951.0 813.7 955.0 816.0C959.0 818.3 961.0 823.0 965.0 823.0C969.0 823.0 980.3 814.3 985.0 816.0C989.7 817.7 997.6 831.1 1000.0 836.0C1002.4 840.9 1004.3 849.9 1003.0 853.0C1001.7 856.1 995.7 857.7 990.0 859.0C984.3 860.3 966.0 860.7 960.0 863.0C954.0 865.3 949.7 873.6 945.0 876.0C940.3 878.4 929.7 881.0 925.0 881.0C920.3 881.0 912.0 876.7 910.0 876.0"/>
<path d="M1030.0 796.0C1031.3 795.1 1036.0 790.2 1040.0 789.0C1044.0 787.8 1054.0 787.0 1060.0 787.0C1066.0 787.0 1080.7 787.8 1085.0 789.0C1089.3 790.2 1091.1 795.1 1092.0 796.0"/>
<path d="M1022.0 836.0C1023.7 834.7 1032.2 830.0 1035.0 826.0C1037.8 822.0 1041.7 806.7 1043.0 806.0C1044.3 805.3 1045.1 815.7 1045.0 821.0C1044.9 826.3 1044.0 841.7 1042.0 846.0C1040.0 850.3 1031.6 852.1 1030.0 853.0"/>
<path d="M1110.0 761.0C1111.1 759.7 1115.1 750.3 1118.0 751.0C1120.9 751.7 1130.7 760.7 1132.0 766.0C1133.3 771.3 1128.9 785.0 1128.0 791.0C1127.1 797.0 1123.4 807.0 1125.0 811.0C1126.6 815.0 1135.3 818.3 1140.0 821.0C1144.7 823.7 1156.0 828.1 1160.0 831.0C1164.0 833.9 1167.3 840.1 1170.0 843.0C1172.7 845.9 1178.7 851.7 1180.0 853.0"/>
<path d="M1140.0 851.0C1140.7 849.7 1143.7 840.3 1145.0 841.0C1146.3 841.7 1150.7 851.3 1150.0 856.0C1149.3 860.7 1144.0 872.7 1140.0 876.0C1136.0 879.3 1126.7 879.7 1120.0 881.0C1113.3 882.3 1094.0 885.3 1090.0 886.0"/>
<path d="M1165.0 806.0C1167.0 802.7 1176.0 785.7 1180.0 781.0C1184.0 776.3 1191.0 771.7 1195.0 771.0C1199.0 770.3 1206.0 773.3 1210.0 776.0C1214.0 778.7 1223.0 789.0 1225.0 791.0"/>
<path d="M1170.0 806.0C1170.7 808.7 1173.0 820.7 1175.0 826.0C1177.0 831.3 1182.3 841.1 1185.0 846.0C1187.7 850.9 1191.0 860.7 1195.0 863.0C1199.0 865.3 1211.0 863.9 1215.0 863.0C1219.0 862.1 1223.7 856.9 1225.0 856.0"/>
<path d="M1232.0 816.0 L1238.0 831.0 L1240.0 846.0"/>
</g>
</g>
<text transform="translate(637.0 672.0) rotate(-60)" font-size="23" text-anchor="middle" style="fill:#0a0a0a">300</text>
<text transform="translate(535.0 789.0) rotate(40)" font-size="23" text-anchor="middle" style="fill:#0a0a0a">300</text>
<text transform="translate(597.0 848.0) rotate(-65)" font-size="23" text-anchor="middle" style="fill:#0a0a0a">200</text>
<text transform="translate(611.0 911.0) rotate(-80)" font-size="23" text-anchor="middle" style="fill:#0a0a0a">200</text>
<text transform="translate(618.0 909.0) rotate(-80)" font-size="23" text-anchor="middle" style="fill:#0a0a0a">300</text>
<text transform="translate(667.0 920.0) rotate(-90)" font-size="23" text-anchor="middle" style="fill:#0a0a0a">400</text>
<text transform="translate(696.0 942.0) rotate(-90)" font-size="23" text-anchor="middle" style="fill:#0a0a0a">300</text>
<text transform="translate(749.0 974.0) rotate(-85)" font-size="23" text-anchor="middle" style="fill:#0a0a0a">200</text>
<text transform="translate(763.0 821.0) rotate(12)" font-size="23" text-anchor="middle" style="fill:#0a0a0a">300</text>
<text transform="translate(634.0 1004.0) rotate(-68)" font-size="23" text-anchor="middle" style="fill:#0a0a0a">300</text>
<text transform="translate(672.0 1015.0) rotate(-85)" font-size="23" text-anchor="middle" style="fill:#0a0a0a">400</text>
<text transform="translate(904.0 931.0) rotate(-3)" font-size="23" text-anchor="middle" style="fill:#0a0a0a">400</text>
<text transform="translate(861.0 919.0) rotate(-88)" font-size="23" text-anchor="middle" style="fill:#0a0a0a">300</text>
<text transform="translate(923.0 856.0) rotate(-75)" font-size="23" text-anchor="middle" style="fill:#0a0a0a">400</text>
<text transform="translate(920.0 803.0) rotate(-60)" font-size="23" text-anchor="middle" style="fill:#0a0a0a">200</text>
<text transform="translate(1025.0 862.0) rotate(-50)" font-size="23" text-anchor="middle" style="fill:#0a0a0a">00</text>
<text transform="translate(1167.0 875.0) rotate(-10)" font-size="23" text-anchor="middle" style="fill:#0a0a0a">400</text>
<text transform="translate(1212.0 848.0) rotate(-65)" font-size="23" text-anchor="middle" style="fill:#0a0a0a">400</text>
<text transform="translate(1231.0 811.0) rotate(-65)" font-size="23" text-anchor="middle" style="fill:#0a0a0a">300</text>
<text transform="translate(1236.0 882.0) rotate(-30)" font-size="23" text-anchor="middle" style="fill:#0a0a0a">00</text>
<text transform="translate(416.0 946.0) rotate(45)" font-size="23" text-anchor="middle" style="fill:#0a0a0a">500</text>
<text transform="translate(141.0 934.0) rotate(35)" font-size="23" text-anchor="middle" style="fill:#0a0a0a">00</text>
<text transform="translate(259.0 960.0) rotate(-70)" font-size="23" text-anchor="middle" style="fill:#0a0a0a">00</text>
<text transform="translate(231.0 1020.0) rotate(-35)" font-size="23" text-anchor="middle" style="fill:#0a0a0a">00</text>
<text transform="translate(381.0 1024.0) rotate(-85)" font-size="23" text-anchor="middle" style="fill:#0a0a0a">000</text>
<text transform="translate(528.0 918.0) rotate(-10)" font-size="23" text-anchor="middle" style="fill:#0a0a0a">00</text>
<text transform="translate(640.0 1069.0) rotate(-60)" font-size="23" text-anchor="middle" style="fill:#0a0a0a">000</text>
<text transform="translate(575.0 1007.0) rotate(-75)" font-size="23" text-anchor="middle" style="fill:#0a0a0a">30</text>
<text transform="translate(640.0 997.0) rotate(-40)" font-size="23" text-anchor="middle" style="fill:#0a0a0a">00</text>
<path d="M479.5 776.0 L488 1023.0 M864 768.0 L858.5 921.0" stroke="#0a0a0a" stroke-width="3.6" stroke-dasharray="3.4 2.9" fill="none"/>
<use href="#geo" stroke-width="1.7"/><use href="#grat"/>
</g>
<rect x="87.0" y="608.0" width="1168.6" height="562.0" fill="none" stroke="#1a1a1a" stroke-width="1.2"/>
<path d="M270 608l0.8 10M671 608v10M1072.5 608l-0.8 10M315 1170l-0.8 -10M671 1170v-10M1026.5 1170l0.8 -10M87 757.5l10 -1.2M87 988l10 -1.2M1255.6 757.5l-10 -1.2M1255.6 988l-10 -1.2" stroke="#1a1a1a" stroke-width="1.3" fill="none"/>
<rect x="95.4" y="616.5" width="98" height="76" fill="#fff" stroke="#000" stroke-width="2.5"/>
<text x="144.5" y="669.7" class="pl" font-size="59" text-anchor="middle">(a)</text>
<text transform="translate(78.4 773.8) rotate(-6.3)" font-size="34.8" text-anchor="end" textLength="74.6" lengthAdjust="spacing">70°S</text>
<text transform="translate(78.4 1003.6) rotate(-6.3)" font-size="34.8" text-anchor="end" textLength="74.6" lengthAdjust="spacing">71°S</text>
</g>
<g transform="translate(0 0.0)">
<g clip-path="url(#pc)">
<g shape-rendering="crispEdges"><rect x="599.1" y="721.8" width="20.8" height="20.8" fill="#f89840"/><rect x="619.6" y="721.8" width="20.8" height="20.8" fill="#f3854b"/><rect x="599.1" y="742.2" width="20.8" height="20.8" fill="#f89441"/><rect x="619.6" y="742.3" width="20.8" height="20.8" fill="#f3854b"/><rect x="599.1" y="762.7" width="20.8" height="20.8" fill="#eb785a"/><rect x="619.6" y="762.7" width="20.8" height="20.8" fill="#eb785a"/><rect x="783.5" y="762.6" width="20.8" height="20.8" fill="#9f5b8b"/><rect x="599.1" y="783.1" width="20.8" height="20.8" fill="#cd6976"/><rect x="619.6" y="783.2" width="20.8" height="20.8" fill="#cd6976"/><rect x="640.1" y="783.2" width="20.8" height="20.8" fill="#de7069"/><rect x="660.6" y="783.2" width="20.8" height="20.8" fill="#c86878"/><rect x="681.0" y="783.2" width="20.8" height="20.8" fill="#c5677a"/><rect x="701.5" y="783.2" width="20.8" height="20.8" fill="#bf657c"/><rect x="722.0" y="783.1" width="20.8" height="20.8" fill="#ba647e"/><rect x="742.5" y="783.1" width="20.8" height="20.8" fill="#ba647e"/><rect x="763.0" y="783.1" width="20.8" height="20.8" fill="#b26282"/><rect x="783.5" y="783.0" width="20.8" height="20.8" fill="#aa5f86"/><rect x="599.1" y="803.6" width="20.8" height="20.8" fill="#c5677a"/><rect x="619.6" y="803.6" width="20.8" height="20.8" fill="#a55d88"/><rect x="640.1" y="803.6" width="20.8" height="20.8" fill="#a25c8a"/><rect x="660.6" y="803.6" width="20.8" height="20.8" fill="#9f5b8b"/><rect x="681.0" y="803.6" width="20.8" height="20.8" fill="#a25c8a"/><rect x="701.5" y="803.6" width="20.8" height="20.8" fill="#9a598e"/><rect x="722.0" y="803.6" width="20.8" height="20.8" fill="#915591"/><rect x="742.5" y="803.6" width="20.8" height="20.8" fill="#915591"/><rect x="763.0" y="803.5" width="20.8" height="20.8" fill="#9f5b8b"/><rect x="783.5" y="803.5" width="20.8" height="20.8" fill="#bf657c"/><rect x="496.7" y="823.8" width="20.8" height="20.8" fill="#9b598d"/><rect x="517.2" y="823.9" width="20.8" height="20.8" fill="#a25c8a"/><rect x="537.6" y="823.9" width="20.8" height="20.8" fill="#af6184"/><rect x="558.1" y="824.0" width="20.8" height="20.8" fill="#af6184"/><rect x="578.6" y="824.0" width="20.8" height="20.8" fill="#af6184"/><rect x="599.1" y="824.0" width="20.8" height="20.8" fill="#aa5f86"/><rect x="619.6" y="824.1" width="20.8" height="20.8" fill="#a25c8a"/><rect x="640.1" y="824.1" width="20.8" height="20.8" fill="#a25c8a"/><rect x="660.6" y="824.1" width="20.8" height="20.8" fill="#9a598e"/><rect x="681.0" y="824.1" width="20.8" height="20.8" fill="#9f5b8b"/><rect x="701.5" y="824.1" width="20.8" height="20.8" fill="#915591"/><rect x="722.0" y="824.0" width="20.8" height="20.8" fill="#8d5392"/><rect x="742.5" y="824.0" width="20.8" height="20.8" fill="#8d5392"/><rect x="763.0" y="824.0" width="20.8" height="20.8" fill="#603f9e"/><rect x="783.5" y="823.9" width="20.8" height="20.8" fill="#8d5392"/><rect x="803.9" y="823.9" width="20.8" height="20.8" fill="#875094"/><rect x="824.4" y="823.8" width="20.8" height="20.8" fill="#875094"/><rect x="844.9" y="823.7" width="20.8" height="20.8" fill="#875094"/><rect x="865.4" y="823.6" width="20.8" height="20.8" fill="#875094"/><rect x="926.8" y="823.3" width="20.8" height="20.8" fill="#e47462"/><rect x="1152.2" y="821.5" width="20.8" height="20.8" fill="#faaa3e"/><rect x="1172.7" y="821.3" width="20.8" height="20.8" fill="#f89441"/><rect x="1193.1" y="821.0" width="20.8" height="20.8" fill="#f9c343"/><rect x="455.7" y="844.1" width="20.8" height="20.8" fill="#915591"/><rect x="476.2" y="844.2" width="20.8" height="20.8" fill="#8d5392"/><rect x="496.7" y="844.2" width="20.8" height="20.8" fill="#9f5b8b"/><rect x="517.2" y="844.3" width="20.8" height="20.8" fill="#c5677a"/><rect x="537.6" y="844.4" width="20.8" height="20.8" fill="#ba647e"/><rect x="558.1" y="844.4" width="20.8" height="20.8" fill="#cd6976"/><rect x="578.6" y="844.5" width="20.8" height="20.8" fill="#c5677a"/><rect x="599.1" y="844.5" width="20.8" height="20.8" fill="#c86878"/><rect x="619.6" y="844.5" width="20.8" height="20.8" fill="#c5677a"/><rect x="640.1" y="844.5" width="20.8" height="20.8" fill="#9f5b8b"/><rect x="660.6" y="844.5" width="20.8" height="20.8" fill="#9a598e"/><rect x="681.0" y="844.5" width="20.8" height="20.8" fill="#aa5f86"/><rect x="701.5" y="844.5" width="20.8" height="20.8" fill="#915591"/><rect x="722.0" y="844.5" width="20.8" height="20.8" fill="#8d5392"/><rect x="742.5" y="844.5" width="20.8" height="20.8" fill="#8d5392"/><rect x="763.0" y="844.4" width="20.8" height="20.8" fill="#583aa0"/><rect x="783.5" y="844.4" width="20.8" height="20.8" fill="#603f9e"/><rect x="803.9" y="844.3" width="20.8" height="20.8" fill="#5b3c9f"/><rect x="824.4" y="844.2" width="20.8" height="20.8" fill="#734898"/><rect x="844.9" y="844.2" width="20.8" height="20.8" fill="#814e95"/><rect x="885.9" y="844.0" width="20.8" height="20.8" fill="#875094"/><rect x="906.4" y="843.9" width="20.8" height="20.8" fill="#875094"/><rect x="926.8" y="843.8" width="20.8" height="20.8" fill="#a25c8a"/><rect x="947.3" y="843.6" width="20.8" height="20.8" fill="#c86878"/><rect x="967.8" y="843.5" width="20.8" height="20.8" fill="#cd6976"/><rect x="988.3" y="843.4" width="20.8" height="20.8" fill="#d06a73"/><rect x="1008.8" y="843.2" width="20.8" height="20.8" fill="#d26b72"/><rect x="1029.3" y="843.1" width="20.8" height="20.8" fill="#db6f6c"/><rect x="1049.7" y="842.9" width="20.8" height="20.8" fill="#de7069"/><rect x="1070.2" y="842.7" width="20.8" height="20.8" fill="#e47462"/><rect x="1090.7" y="842.5" width="20.8" height="20.8" fill="#eb785a"/><rect x="1111.2" y="842.3" width="20.8" height="20.8" fill="#f68d46"/><rect x="1131.7" y="842.1" width="20.8" height="20.8" fill="#f89840"/><rect x="1152.2" y="841.9" width="20.8" height="20.8" fill="#f3854b"/><rect x="1172.7" y="841.7" width="20.8" height="20.8" fill="#ed7b57"/><rect x="1193.1" y="841.5" width="20.8" height="20.8" fill="#f99f40"/><rect x="1213.6" y="841.2" width="20.8" height="20.8" fill="#e47462"/><rect x="1234.1" y="841.0" width="20.8" height="20.8" fill="#de7069"/><rect x="414.7" y="864.3" width="20.8" height="20.8" fill="#c86878"/><rect x="435.2" y="864.4" width="20.8" height="20.8" fill="#8d5392"/><rect x="455.7" y="864.5" width="20.8" height="20.8" fill="#875094"/><rect x="476.2" y="864.6" width="20.8" height="20.8" fill="#9f5b8b"/><rect x="496.7" y="864.7" width="20.8" height="20.8" fill="#bf657c"/><rect x="517.2" y="864.8" width="20.8" height="20.8" fill="#bf657c"/><rect x="537.6" y="864.8" width="20.8" height="20.8" fill="#cd6976"/><rect x="558.1" y="864.9" width="20.8" height="20.8" fill="#d56c70"/><rect x="578.6" y="864.9" width="20.8" height="20.8" fill="#d06a73"/><rect x="599.1" y="864.9" width="20.8" height="20.8" fill="#d06a73"/><rect x="619.6" y="865.0" width="20.8" height="20.8" fill="#cd6976"/><rect x="640.1" y="865.0" width="20.8" height="20.8" fill="#a25c8a"/><rect x="660.6" y="865.0" width="20.8" height="20.8" fill="#9f5b8b"/><rect x="681.0" y="865.0" width="20.8" height="20.8" fill="#9f5b8b"/><rect x="701.5" y="865.0" width="20.8" height="20.8" fill="#9f5b8b"/><rect x="722.0" y="864.9" width="20.8" height="20.8" fill="#8d5392"/><rect x="742.5" y="864.9" width="20.8" height="20.8" fill="#8d5392"/><rect x="763.0" y="864.9" width="20.8" height="20.8" fill="#69449b"/><rect x="783.5" y="864.8" width="20.8" height="20.8" fill="#5b3c9f"/><rect x="803.9" y="864.8" width="20.8" height="20.8" fill="#814e95"/><rect x="824.4" y="864.7" width="20.8" height="20.8" fill="#814e95"/><rect x="844.9" y="864.6" width="20.8" height="20.8" fill="#875094"/><rect x="865.4" y="864.5" width="20.8" height="20.8" fill="#8d5392"/><rect x="885.9" y="864.4" width="20.8" height="20.8" fill="#915591"/><rect x="906.4" y="864.3" width="20.8" height="20.8" fill="#875094"/><rect x="926.8" y="864.2" width="20.8" height="20.8" fill="#a25c8a"/><rect x="947.3" y="864.1" width="20.8" height="20.8" fill="#b76380"/><rect x="967.8" y="864.0" width="20.8" height="20.8" fill="#c5677a"/><rect x="988.3" y="863.8" width="20.8" height="20.8" fill="#c86878"/><rect x="1008.8" y="863.7" width="20.8" height="20.8" fill="#cd6976"/><rect x="1029.3" y="863.5" width="20.8" height="20.8" fill="#cd6976"/><rect x="1049.7" y="863.3" width="20.8" height="20.8" fill="#d26b72"/><rect x="1070.2" y="863.2" width="20.8" height="20.8" fill="#c86878"/><rect x="1090.7" y="863.0" width="20.8" height="20.8" fill="#cd6976"/><rect x="1111.2" y="862.8" width="20.8" height="20.8" fill="#d56c70"/><rect x="1131.7" y="862.6" width="20.8" height="20.8" fill="#de7069"/><rect x="1152.2" y="862.4" width="20.8" height="20.8" fill="#d56c70"/><rect x="1172.7" y="862.2" width="20.8" height="20.8" fill="#cd6976"/><rect x="1193.1" y="861.9" width="20.8" height="20.8" fill="#e7765e"/><rect x="1213.6" y="861.7" width="20.8" height="20.8" fill="#d56c70"/><rect x="1234.1" y="861.4" width="20.8" height="20.8" fill="#bf657c"/><rect x="230.4" y="883.4" width="20.8" height="20.8" fill="#f89441"/><rect x="250.9" y="883.6" width="20.8" height="20.8" fill="#f89441"/><rect x="271.4" y="883.8" width="20.8" height="20.8" fill="#f89441"/><rect x="291.8" y="884.0" width="20.8" height="20.8" fill="#f89441"/><rect x="312.3" y="884.1" width="20.8" height="20.8" fill="#f89441"/><rect x="332.8" y="884.3" width="20.8" height="20.8" fill="#f89441"/><rect x="353.3" y="884.4" width="20.8" height="20.8" fill="#f3854b"/><rect x="373.8" y="884.5" width="20.8" height="20.8" fill="#f3854b"/><rect x="476.2" y="885.1" width="20.8" height="20.8" fill="#cd6976"/><rect x="496.7" y="885.1" width="20.8" height="20.8" fill="#cd6976"/><rect x="517.2" y="885.2" width="20.8" height="20.8" fill="#cd6976"/><rect x="537.6" y="885.3" width="20.8" height="20.8" fill="#d06a73"/><rect x="558.1" y="885.3" width="20.8" height="20.8" fill="#e47462"/><rect x="578.6" y="885.4" width="20.8" height="20.8" fill="#d56c70"/><rect x="599.1" y="885.4" width="20.8" height="20.8" fill="#d56c70"/><rect x="619.6" y="885.4" width="20.8" height="20.8" fill="#cd6976"/><rect x="640.1" y="885.4" width="20.8" height="20.8" fill="#a25c8a"/><rect x="660.6" y="885.4" width="20.8" height="20.8" fill="#9f5b8b"/><rect x="681.0" y="885.4" width="20.8" height="20.8" fill="#915591"/><rect x="701.5" y="885.4" width="20.8" height="20.8" fill="#915591"/><rect x="722.0" y="885.4" width="20.8" height="20.8" fill="#8d5392"/><rect x="742.5" y="885.4" width="20.8" height="20.8" fill="#583aa0"/><rect x="763.0" y="885.3" width="20.8" height="20.8" fill="#583aa0"/><rect x="783.5" y="885.3" width="20.8" height="20.8" fill="#814e95"/><rect x="803.9" y="885.2" width="20.8" height="20.8" fill="#9f5b8b"/><rect x="824.4" y="885.1" width="20.8" height="20.8" fill="#9f5b8b"/><rect x="844.9" y="885.1" width="20.8" height="20.8" fill="#8d5392"/><rect x="865.4" y="885.0" width="20.8" height="20.8" fill="#ba647e"/><rect x="885.9" y="884.9" width="20.8" height="20.8" fill="#ba647e"/><rect x="906.4" y="884.8" width="20.8" height="20.8" fill="#b26282"/><rect x="926.8" y="884.7" width="20.8" height="20.8" fill="#af6184"/><rect x="947.3" y="884.5" width="20.8" height="20.8" fill="#af6184"/><rect x="967.8" y="884.4" width="20.8" height="20.8" fill="#aa5f86"/><rect x="988.3" y="884.3" width="20.8" height="20.8" fill="#a25c8a"/><rect x="1008.8" y="884.1" width="20.8" height="20.8" fill="#9b598d"/><rect x="1029.3" y="884.0" width="20.8" height="20.8" fill="#9f5b8b"/><rect x="250.9" y="904.1" width="20.8" height="20.8" fill="#f89441"/><rect x="271.4" y="904.2" width="20.8" height="20.8" fill="#f89441"/><rect x="291.8" y="904.4" width="20.8" height="20.8" fill="#f89441"/><rect x="312.3" y="904.6" width="20.8" height="20.8" fill="#f89441"/><rect x="332.8" y="904.7" width="20.8" height="20.8" fill="#f89441"/><rect x="353.3" y="904.9" width="20.8" height="20.8" fill="#d56c70"/><rect x="373.8" y="905.0" width="20.8" height="20.8" fill="#d56c70"/><rect x="394.3" y="905.1" width="20.8" height="20.8" fill="#aa5f86"/><rect x="414.7" y="905.2" width="20.8" height="20.8" fill="#915591"/><rect x="517.2" y="905.7" width="20.8" height="20.8" fill="#eb785a"/><rect x="537.6" y="905.7" width="20.8" height="20.8" fill="#eb785a"/><rect x="558.1" y="905.8" width="20.8" height="20.8" fill="#eb785a"/><rect x="578.6" y="905.8" width="20.8" height="20.8" fill="#de7069"/><rect x="599.1" y="905.8" width="20.8" height="20.8" fill="#de7069"/><rect x="619.6" y="905.9" width="20.8" height="20.8" fill="#d56c70"/><rect x="640.1" y="905.9" width="20.8" height="20.8" fill="#cd6976"/><rect x="660.6" y="905.9" width="20.8" height="20.8" fill="#a25c8a"/><rect x="681.0" y="905.9" width="20.8" height="20.8" fill="#915591"/><rect x="701.5" y="905.9" width="20.8" height="20.8" fill="#9f5b8b"/><rect x="722.0" y="905.8" width="20.8" height="20.8" fill="#915591"/><rect x="742.5" y="905.8" width="20.8" height="20.8" fill="#6d469a"/><rect x="763.0" y="905.8" width="20.8" height="20.8" fill="#583aa0"/><rect x="783.5" y="905.7" width="20.8" height="20.8" fill="#734898"/><rect x="803.9" y="905.7" width="20.8" height="20.8" fill="#7d4c96"/><rect x="824.4" y="905.6" width="20.8" height="20.8" fill="#814e95"/><rect x="844.9" y="905.5" width="20.8" height="20.8" fill="#875094"/><rect x="865.4" y="905.4" width="20.8" height="20.8" fill="#734898"/><rect x="885.9" y="905.3" width="20.8" height="20.8" fill="#875094"/><rect x="906.4" y="905.2" width="20.8" height="20.8" fill="#aa5f86"/><rect x="926.8" y="905.1" width="20.8" height="20.8" fill="#cd6976"/><rect x="947.3" y="905.0" width="20.8" height="20.8" fill="#d56c70"/><rect x="128.0" y="923.3" width="20.8" height="20.8" fill="#cd6976"/><rect x="148.5" y="923.5" width="20.8" height="20.8" fill="#cd6976"/><rect x="250.9" y="924.5" width="20.8" height="20.8" fill="#f89441"/><rect x="291.8" y="924.9" width="20.8" height="20.8" fill="#faaa3e"/><rect x="312.3" y="925.0" width="20.8" height="20.8" fill="#faaa3e"/><rect x="332.8" y="925.2" width="20.8" height="20.8" fill="#faaa3e"/><rect x="353.3" y="925.3" width="20.8" height="20.8" fill="#e47462"/><rect x="373.8" y="925.4" width="20.8" height="20.8" fill="#f3854b"/><rect x="394.3" y="925.6" width="20.8" height="20.8" fill="#b26282"/><rect x="414.7" y="925.7" width="20.8" height="20.8" fill="#875094"/><rect x="435.2" y="925.8" width="20.8" height="20.8" fill="#aa5f86"/><rect x="496.7" y="926.0" width="20.8" height="20.8" fill="#f68d46"/><rect x="517.2" y="926.1" width="20.8" height="20.8" fill="#f79143"/><rect x="537.6" y="926.2" width="20.8" height="20.8" fill="#f79143"/><rect x="558.1" y="926.2" width="20.8" height="20.8" fill="#f89441"/><rect x="578.6" y="926.3" width="20.8" height="20.8" fill="#f3854b"/><rect x="599.1" y="926.3" width="20.8" height="20.8" fill="#eb785a"/><rect x="619.6" y="926.3" width="20.8" height="20.8" fill="#eb785a"/><rect x="640.1" y="926.3" width="20.8" height="20.8" fill="#de7069"/><rect x="660.6" y="926.3" width="20.8" height="20.8" fill="#cd6976"/><rect x="681.0" y="926.3" width="20.8" height="20.8" fill="#bf657c"/><rect x="701.5" y="926.3" width="20.8" height="20.8" fill="#bf657c"/><rect x="722.0" y="926.3" width="20.8" height="20.8" fill="#a25c8a"/><rect x="742.5" y="926.3" width="20.8" height="20.8" fill="#915591"/><rect x="763.0" y="926.2" width="20.8" height="20.8" fill="#7d4c96"/><rect x="783.5" y="926.2" width="20.8" height="20.8" fill="#6d469a"/><rect x="803.9" y="926.1" width="20.8" height="20.8" fill="#734898"/><rect x="824.4" y="926.0" width="20.8" height="20.8" fill="#66429c"/><rect x="250.9" y="945.0" width="20.8" height="20.8" fill="#eaf159"/><rect x="271.4" y="945.1" width="20.8" height="20.8" fill="#eaf159"/><rect x="291.8" y="945.3" width="20.8" height="20.8" fill="#f0e855"/><rect x="312.3" y="945.5" width="20.8" height="20.8" fill="#f5d74b"/><rect x="332.8" y="945.6" width="20.8" height="20.8" fill="#f8ca46"/><rect x="353.3" y="945.8" width="20.8" height="20.8" fill="#f68d46"/><rect x="373.8" y="945.9" width="20.8" height="20.8" fill="#eb785a"/><rect x="394.3" y="946.0" width="20.8" height="20.8" fill="#d56c70"/><rect x="414.7" y="946.1" width="20.8" height="20.8" fill="#915591"/><rect x="435.2" y="946.2" width="20.8" height="20.8" fill="#bf657c"/><rect x="496.7" y="946.5" width="20.8" height="20.8" fill="#fabe41"/><rect x="517.2" y="946.6" width="20.8" height="20.8" fill="#faae3f"/><rect x="537.6" y="946.6" width="20.8" height="20.8" fill="#f99f40"/><rect x="558.1" y="946.7" width="20.8" height="20.8" fill="#f79143"/><rect x="578.6" y="946.7" width="20.8" height="20.8" fill="#f3854b"/><rect x="599.1" y="946.7" width="20.8" height="20.8" fill="#eb785a"/><rect x="619.6" y="946.8" width="20.8" height="20.8" fill="#d56c70"/><rect x="640.1" y="946.8" width="20.8" height="20.8" fill="#cd6976"/><rect x="660.6" y="946.8" width="20.8" height="20.8" fill="#e47462"/><rect x="681.0" y="946.8" width="20.8" height="20.8" fill="#c5677a"/><rect x="701.5" y="946.8" width="20.8" height="20.8" fill="#bf657c"/><rect x="722.0" y="946.7" width="20.8" height="20.8" fill="#aa5f86"/><rect x="742.5" y="946.7" width="20.8" height="20.8" fill="#875094"/><rect x="763.0" y="946.7" width="20.8" height="20.8" fill="#66429c"/><rect x="783.5" y="946.6" width="20.8" height="20.8" fill="#4b34a5"/><rect x="250.9" y="965.4" width="20.8" height="20.8" fill="#eaf159"/><rect x="271.4" y="965.6" width="20.8" height="20.8" fill="#eaf159"/><rect x="291.8" y="965.8" width="20.8" height="20.8" fill="#eaf159"/><rect x="312.3" y="965.9" width="20.8" height="20.8" fill="#f0e855"/><rect x="332.8" y="966.1" width="20.8" height="20.8" fill="#f5d74b"/><rect x="353.3" y="966.2" width="20.8" height="20.8" fill="#faaa3e"/><rect x="373.8" y="966.3" width="20.8" height="20.8" fill="#f99f40"/><rect x="394.3" y="966.5" width="20.8" height="20.8" fill="#eb785a"/><rect x="435.2" y="966.7" width="20.8" height="20.8" fill="#bf657c"/><rect x="496.7" y="966.9" width="20.8" height="20.8" fill="#f8ca46"/><rect x="517.2" y="967.0" width="20.8" height="20.8" fill="#f8ca46"/><rect x="537.6" y="967.1" width="20.8" height="20.8" fill="#fab43f"/><rect x="558.1" y="967.1" width="20.8" height="20.8" fill="#f79143"/><rect x="578.6" y="967.2" width="20.8" height="20.8" fill="#ef7f52"/><rect x="599.1" y="967.2" width="20.8" height="20.8" fill="#d56c70"/><rect x="619.6" y="967.2" width="20.8" height="20.8" fill="#cd6976"/><rect x="640.1" y="967.2" width="20.8" height="20.8" fill="#aa5f86"/><rect x="660.6" y="967.2" width="20.8" height="20.8" fill="#de7069"/><rect x="681.0" y="967.2" width="20.8" height="20.8" fill="#bf657c"/><rect x="701.5" y="967.2" width="20.8" height="20.8" fill="#bf657c"/><rect x="722.0" y="967.2" width="20.8" height="20.8" fill="#a25c8a"/><rect x="742.5" y="967.2" width="20.8" height="20.8" fill="#66429c"/><rect x="763.0" y="967.1" width="20.8" height="20.8" fill="#4333a5"/><rect x="230.4" y="985.7" width="20.8" height="20.8" fill="#f8ca46"/><rect x="250.9" y="985.9" width="20.8" height="20.8" fill="#eaf159"/><rect x="271.4" y="986.0" width="20.8" height="20.8" fill="#f5d74b"/><rect x="291.8" y="986.2" width="20.8" height="20.8" fill="#f5d74b"/><rect x="312.3" y="986.4" width="20.8" height="20.8" fill="#f2e050"/><rect x="332.8" y="986.5" width="20.8" height="20.8" fill="#f2e050"/><rect x="353.3" y="986.7" width="20.8" height="20.8" fill="#f99f40"/><rect x="373.8" y="986.8" width="20.8" height="20.8" fill="#f99f40"/><rect x="394.3" y="986.9" width="20.8" height="20.8" fill="#f3854b"/><rect x="455.7" y="987.2" width="20.8" height="20.8" fill="#f68d46"/><rect x="476.2" y="987.3" width="20.8" height="20.8" fill="#f99f40"/><rect x="496.7" y="987.4" width="20.8" height="20.8" fill="#f8ca46"/><rect x="517.2" y="987.5" width="20.8" height="20.8" fill="#f1e553"/><rect x="537.6" y="987.5" width="20.8" height="20.8" fill="#f8ca46"/><rect x="558.1" y="987.6" width="20.8" height="20.8" fill="#faa63f"/><rect x="619.6" y="987.7" width="20.8" height="20.8" fill="#cd6976"/><rect x="640.1" y="987.7" width="20.8" height="20.8" fill="#a25c8a"/><rect x="660.6" y="987.7" width="20.8" height="20.8" fill="#8d5392"/><rect x="681.0" y="987.7" width="20.8" height="20.8" fill="#a25c8a"/><rect x="701.5" y="987.7" width="20.8" height="20.8" fill="#c5677a"/><rect x="722.0" y="987.6" width="20.8" height="20.8" fill="#915591"/><rect x="742.5" y="987.6" width="20.8" height="20.8" fill="#69449b"/><rect x="230.4" y="1006.1" width="20.8" height="20.8" fill="#e47462"/><rect x="250.9" y="1006.3" width="20.8" height="20.8" fill="#e47462"/><rect x="271.4" y="1006.5" width="20.8" height="20.8" fill="#e47462"/><rect x="291.8" y="1006.7" width="20.8" height="20.8" fill="#eb785a"/><rect x="312.3" y="1006.8" width="20.8" height="20.8" fill="#faaa3e"/><rect x="332.8" y="1007.0" width="20.8" height="20.8" fill="#eaf159"/><rect x="353.3" y="1007.1" width="20.8" height="20.8" fill="#eaf159"/><rect x="373.8" y="1007.2" width="20.8" height="20.8" fill="#f5d74b"/><rect x="394.3" y="1007.4" width="20.8" height="20.8" fill="#f68d46"/><rect x="414.7" y="1007.5" width="20.8" height="20.8" fill="#ef7f52"/><rect x="435.2" y="1007.6" width="20.8" height="20.8" fill="#f68d46"/><rect x="455.7" y="1007.7" width="20.8" height="20.8" fill="#f89441"/><rect x="476.2" y="1007.8" width="20.8" height="20.8" fill="#f89441"/><rect x="496.7" y="1007.8" width="20.8" height="20.8" fill="#faa63f"/><rect x="517.2" y="1007.9" width="20.8" height="20.8" fill="#f0e855"/><rect x="537.6" y="1008.0" width="20.8" height="20.8" fill="#e4fa5d"/><rect x="558.1" y="1008.0" width="20.8" height="20.8" fill="#e4fa5d"/><rect x="619.6" y="1008.1" width="20.8" height="20.8" fill="#cd6976"/><rect x="640.1" y="1008.1" width="20.8" height="20.8" fill="#9f5b8b"/><rect x="660.6" y="1008.1" width="20.8" height="20.8" fill="#8d5392"/><rect x="230.4" y="1026.6" width="20.8" height="20.8" fill="#f3854b"/><rect x="250.9" y="1026.8" width="20.8" height="20.8" fill="#e47462"/><rect x="271.4" y="1026.9" width="20.8" height="20.8" fill="#d56c70"/><rect x="291.8" y="1027.1" width="20.8" height="20.8" fill="#e47462"/><rect x="312.3" y="1027.3" width="20.8" height="20.8" fill="#eaf159"/><rect x="332.8" y="1027.4" width="20.8" height="20.8" fill="#eaf159"/><rect x="353.3" y="1027.6" width="20.8" height="20.8" fill="#eaf159"/><rect x="373.8" y="1027.7" width="20.8" height="20.8" fill="#f5d74b"/><rect x="394.3" y="1027.8" width="20.8" height="20.8" fill="#e47462"/><rect x="414.7" y="1027.9" width="20.8" height="20.8" fill="#e47462"/><rect x="517.2" y="1028.4" width="20.8" height="20.8" fill="#f2e050"/><rect x="537.6" y="1028.4" width="20.8" height="20.8" fill="#e4fa5d"/><rect x="619.6" y="1028.6" width="20.8" height="20.8" fill="#cd6976"/><rect x="640.1" y="1028.6" width="20.8" height="20.8" fill="#d56c70"/><rect x="660.6" y="1028.6" width="20.8" height="20.8" fill="#de7069"/><rect x="394.3" y="1048.3" width="20.8" height="20.8" fill="#e47462"/><rect x="640.1" y="1049.0" width="20.8" height="20.8" fill="#e47462"/><rect x="660.6" y="1049.0" width="20.8" height="20.8" fill="#eb785a"/><rect x="619.6" y="1069.5" width="20.8" height="20.8" fill="#eb785a"/><rect x="640.1" y="1069.5" width="20.8" height="20.8" fill="#f68d46"/><rect x="619.6" y="1089.9" width="20.8" height="20.8" fill="#eb785a"/></g>
<use href="#geo" stroke-width="2.7"/><use href="#grat"/>
</g>
<rect x="87.0" y="608.0" width="1168.6" height="562.0" fill="none" stroke="#1a1a1a" stroke-width="1.2"/>
<path d="M270 608l0.8 10M671 608v10M1072.5 608l-0.8 10M315 1170l-0.8 -10M671 1170v-10M1026.5 1170l0.8 -10M87 757.5l10 -1.2M87 988l10 -1.2M1255.6 757.5l-10 -1.2M1255.6 988l-10 -1.2" stroke="#1a1a1a" stroke-width="1.3" fill="none"/>
<rect x="95.4" y="618.4" width="98" height="76" fill="#fff" stroke="#000" stroke-width="2.5"/>
<text x="144.5" y="671.6" class="pl" font-size="59" text-anchor="middle">(b)</text>
<text transform="translate(78.4 773.8) rotate(-6.3)" font-size="34.8" text-anchor="end" textLength="74.6" lengthAdjust="spacing">70°S</text>
<text transform="translate(78.4 1003.6) rotate(-6.3)" font-size="34.8" text-anchor="end" textLength="74.6" lengthAdjust="spacing">71°S</text>
</g>
<g transform="translate(0 591.4)">
<g clip-path="url(#pc)">
<g shape-rendering="crispEdges"><rect x="599.1" y="721.8" width="20.8" height="20.8" fill="#aa5f86"/><rect x="619.6" y="721.8" width="20.8" height="20.8" fill="#9a598e"/><rect x="599.1" y="742.2" width="20.8" height="20.8" fill="#a55d88"/><rect x="619.6" y="742.3" width="20.8" height="20.8" fill="#915591"/><rect x="599.1" y="762.7" width="20.8" height="20.8" fill="#875094"/><rect x="619.6" y="762.7" width="20.8" height="20.8" fill="#875094"/><rect x="783.5" y="762.6" width="20.8" height="20.8" fill="#4633a5"/><rect x="599.1" y="783.1" width="20.8" height="20.8" fill="#4b34a5"/><rect x="619.6" y="783.2" width="20.8" height="20.8" fill="#583aa0"/><rect x="640.1" y="783.2" width="20.8" height="20.8" fill="#814e95"/><rect x="660.6" y="783.2" width="20.8" height="20.8" fill="#5b3c9f"/><rect x="681.0" y="783.2" width="20.8" height="20.8" fill="#5036a3"/><rect x="701.5" y="783.2" width="20.8" height="20.8" fill="#4b34a5"/><rect x="722.0" y="783.1" width="20.8" height="20.8" fill="#4b34a5"/><rect x="742.5" y="783.1" width="20.8" height="20.8" fill="#4b34a5"/><rect x="763.0" y="783.1" width="20.8" height="20.8" fill="#3e32a5"/><rect x="783.5" y="783.0" width="20.8" height="20.8" fill="#4b34a5"/><rect x="599.1" y="803.6" width="20.8" height="20.8" fill="#4b34a5"/><rect x="619.6" y="803.6" width="20.8" height="20.8" fill="#3e32a5"/><rect x="640.1" y="803.6" width="20.8" height="20.8" fill="#4633a5"/><rect x="660.6" y="803.6" width="20.8" height="20.8" fill="#3c32a4"/><rect x="681.0" y="803.6" width="20.8" height="20.8" fill="#4b34a5"/><rect x="701.5" y="803.6" width="20.8" height="20.8" fill="#3833a1"/><rect x="722.0" y="803.6" width="20.8" height="20.8" fill="#28378c"/><rect x="742.5" y="803.6" width="20.8" height="20.8" fill="#34349e"/><rect x="763.0" y="803.5" width="20.8" height="20.8" fill="#3a33a2"/><rect x="783.5" y="803.5" width="20.8" height="20.8" fill="#5b3c9f"/><rect x="496.7" y="823.8" width="20.8" height="20.8" fill="#3e32a5"/><rect x="517.2" y="823.9" width="20.8" height="20.8" fill="#4633a5"/><rect x="537.6" y="823.9" width="20.8" height="20.8" fill="#4633a5"/><rect x="558.1" y="824.0" width="20.8" height="20.8" fill="#583aa0"/><rect x="578.6" y="824.0" width="20.8" height="20.8" fill="#583aa0"/><rect x="599.1" y="824.0" width="20.8" height="20.8" fill="#4b34a5"/><rect x="619.6" y="824.1" width="20.8" height="20.8" fill="#3e32a5"/><rect x="640.1" y="824.1" width="20.8" height="20.8" fill="#3e32a5"/><rect x="660.6" y="824.1" width="20.8" height="20.8" fill="#3a33a2"/><rect x="681.0" y="824.1" width="20.8" height="20.8" fill="#4633a5"/><rect x="701.5" y="824.1" width="20.8" height="20.8" fill="#34349e"/><rect x="722.0" y="824.0" width="20.8" height="20.8" fill="#2f3597"/><rect x="742.5" y="824.0" width="20.8" height="20.8" fill="#2f3597"/><rect x="763.0" y="824.0" width="20.8" height="20.8" fill="#133565"/><rect x="783.5" y="823.9" width="20.8" height="20.8" fill="#2f3597"/><rect x="803.9" y="823.9" width="20.8" height="20.8" fill="#34349e"/><rect x="824.4" y="823.8" width="20.8" height="20.8" fill="#34349e"/><rect x="844.9" y="823.7" width="20.8" height="20.8" fill="#28378c"/><rect x="865.4" y="823.6" width="20.8" height="20.8" fill="#28378c"/><rect x="926.8" y="823.3" width="20.8" height="20.8" fill="#814e95"/><rect x="1152.2" y="821.5" width="20.8" height="20.8" fill="#a25c8a"/><rect x="1172.7" y="821.3" width="20.8" height="20.8" fill="#9f5b8b"/><rect x="1193.1" y="821.0" width="20.8" height="20.8" fill="#cd6976"/><rect x="455.7" y="844.1" width="20.8" height="20.8" fill="#2f3597"/><rect x="476.2" y="844.2" width="20.8" height="20.8" fill="#2f3597"/><rect x="496.7" y="844.2" width="20.8" height="20.8" fill="#3e32a5"/><rect x="517.2" y="844.3" width="20.8" height="20.8" fill="#583aa0"/><rect x="537.6" y="844.4" width="20.8" height="20.8" fill="#5b3c9f"/><rect x="558.1" y="844.4" width="20.8" height="20.8" fill="#69449b"/><rect x="578.6" y="844.5" width="20.8" height="20.8" fill="#5b3c9f"/><rect x="599.1" y="844.5" width="20.8" height="20.8" fill="#5036a3"/><rect x="619.6" y="844.5" width="20.8" height="20.8" fill="#5036a3"/><rect x="640.1" y="844.5" width="20.8" height="20.8" fill="#2f3597"/><rect x="660.6" y="844.5" width="20.8" height="20.8" fill="#2f3597"/><rect x="681.0" y="844.5" width="20.8" height="20.8" fill="#583aa0"/><rect x="701.5" y="844.5" width="20.8" height="20.8" fill="#34349e"/><rect x="722.0" y="844.5" width="20.8" height="20.8" fill="#28378c"/><rect x="742.5" y="844.5" width="20.8" height="20.8" fill="#263789"/><rect x="763.0" y="844.4" width="20.8" height="20.8" fill="#0f325a"/><rect x="783.5" y="844.4" width="20.8" height="20.8" fill="#0f325a"/><rect x="803.9" y="844.3" width="20.8" height="20.8" fill="#133565"/><rect x="824.4" y="844.2" width="20.8" height="20.8" fill="#193773"/><rect x="844.9" y="844.2" width="20.8" height="20.8" fill="#223783"/><rect x="885.9" y="844.0" width="20.8" height="20.8" fill="#3833a1"/><rect x="906.4" y="843.9" width="20.8" height="20.8" fill="#3833a1"/><rect x="926.8" y="843.8" width="20.8" height="20.8" fill="#4633a5"/><rect x="947.3" y="843.6" width="20.8" height="20.8" fill="#5b3c9f"/><rect x="967.8" y="843.5" width="20.8" height="20.8" fill="#66429c"/><rect x="988.3" y="843.4" width="20.8" height="20.8" fill="#69449b"/><rect x="1008.8" y="843.2" width="20.8" height="20.8" fill="#6d469a"/><rect x="1029.3" y="843.1" width="20.8" height="20.8" fill="#7d4c96"/><rect x="1049.7" y="842.9" width="20.8" height="20.8" fill="#814e95"/><rect x="1070.2" y="842.7" width="20.8" height="20.8" fill="#875094"/><rect x="1090.7" y="842.5" width="20.8" height="20.8" fill="#915591"/><rect x="1111.2" y="842.3" width="20.8" height="20.8" fill="#aa5f86"/><rect x="1131.7" y="842.1" width="20.8" height="20.8" fill="#b76380"/><rect x="1152.2" y="841.9" width="20.8" height="20.8" fill="#9a598e"/><rect x="1172.7" y="841.7" width="20.8" height="20.8" fill="#915591"/><rect x="1193.1" y="841.5" width="20.8" height="20.8" fill="#b26282"/><rect x="1213.6" y="841.2" width="20.8" height="20.8" fill="#814e95"/><rect x="1234.1" y="841.0" width="20.8" height="20.8" fill="#7d4c96"/><rect x="414.7" y="864.3" width="20.8" height="20.8" fill="#6d469a"/><rect x="435.2" y="864.4" width="20.8" height="20.8" fill="#28378c"/><rect x="455.7" y="864.5" width="20.8" height="20.8" fill="#2f3597"/><rect x="476.2" y="864.6" width="20.8" height="20.8" fill="#4b34a5"/><rect x="496.7" y="864.7" width="20.8" height="20.8" fill="#5b3c9f"/><rect x="517.2" y="864.8" width="20.8" height="20.8" fill="#5b3c9f"/><rect x="537.6" y="864.8" width="20.8" height="20.8" fill="#5b3c9f"/><rect x="558.1" y="864.9" width="20.8" height="20.8" fill="#69449b"/><rect x="578.6" y="864.9" width="20.8" height="20.8" fill="#69449b"/><rect x="599.1" y="864.9" width="20.8" height="20.8" fill="#6d469a"/><rect x="619.6" y="865.0" width="20.8" height="20.8" fill="#5b3c9f"/><rect x="640.1" y="865.0" width="20.8" height="20.8" fill="#3a33a2"/><rect x="660.6" y="865.0" width="20.8" height="20.8" fill="#3a33a2"/><rect x="681.0" y="865.0" width="20.8" height="20.8" fill="#34349e"/><rect x="701.5" y="865.0" width="20.8" height="20.8" fill="#34349e"/><rect x="722.0" y="864.9" width="20.8" height="20.8" fill="#2f3597"/><rect x="742.5" y="864.9" width="20.8" height="20.8" fill="#243786"/><rect x="763.0" y="864.9" width="20.8" height="20.8" fill="#16376c"/><rect x="783.5" y="864.8" width="20.8" height="20.8" fill="#0f325a"/><rect x="803.9" y="864.8" width="20.8" height="20.8" fill="#1c377a"/><rect x="824.4" y="864.7" width="20.8" height="20.8" fill="#1e377d"/><rect x="844.9" y="864.6" width="20.8" height="20.8" fill="#223783"/><rect x="865.4" y="864.5" width="20.8" height="20.8" fill="#34349e"/><rect x="885.9" y="864.4" width="20.8" height="20.8" fill="#3833a1"/><rect x="906.4" y="864.3" width="20.8" height="20.8" fill="#3833a1"/><rect x="926.8" y="864.2" width="20.8" height="20.8" fill="#3e32a5"/><rect x="947.3" y="864.1" width="20.8" height="20.8" fill="#5036a3"/><rect x="967.8" y="864.0" width="20.8" height="20.8" fill="#583aa0"/><rect x="988.3" y="863.8" width="20.8" height="20.8" fill="#5b3c9f"/><rect x="1008.8" y="863.7" width="20.8" height="20.8" fill="#5b3c9f"/><rect x="1029.3" y="863.5" width="20.8" height="20.8" fill="#66429c"/><rect x="1049.7" y="863.3" width="20.8" height="20.8" fill="#69449b"/><rect x="1070.2" y="863.2" width="20.8" height="20.8" fill="#66429c"/><rect x="1090.7" y="863.0" width="20.8" height="20.8" fill="#66429c"/><rect x="1111.2" y="862.8" width="20.8" height="20.8" fill="#69449b"/><rect x="1131.7" y="862.6" width="20.8" height="20.8" fill="#734898"/><rect x="1152.2" y="862.4" width="20.8" height="20.8" fill="#6d469a"/><rect x="1172.7" y="862.2" width="20.8" height="20.8" fill="#69449b"/><rect x="1193.1" y="861.9" width="20.8" height="20.8" fill="#875094"/><rect x="1213.6" y="861.7" width="20.8" height="20.8" fill="#6d469a"/><rect x="1234.1" y="861.4" width="20.8" height="20.8" fill="#603f9e"/><rect x="230.4" y="883.4" width="20.8" height="20.8" fill="#a25c8a"/><rect x="250.9" y="883.6" width="20.8" height="20.8" fill="#a25c8a"/><rect x="271.4" y="883.8" width="20.8" height="20.8" fill="#a25c8a"/><rect x="291.8" y="884.0" width="20.8" height="20.8" fill="#a25c8a"/><rect x="312.3" y="884.1" width="20.8" height="20.8" fill="#a25c8a"/><rect x="332.8" y="884.3" width="20.8" height="20.8" fill="#a25c8a"/><rect x="353.3" y="884.4" width="20.8" height="20.8" fill="#9a598e"/><rect x="373.8" y="884.5" width="20.8" height="20.8" fill="#9a598e"/><rect x="476.2" y="885.1" width="20.8" height="20.8" fill="#69449b"/><rect x="496.7" y="885.1" width="20.8" height="20.8" fill="#66429c"/><rect x="517.2" y="885.2" width="20.8" height="20.8" fill="#66429c"/><rect x="537.6" y="885.3" width="20.8" height="20.8" fill="#66429c"/><rect x="558.1" y="885.3" width="20.8" height="20.8" fill="#7d4c96"/><rect x="578.6" y="885.4" width="20.8" height="20.8" fill="#7d4c96"/><rect x="599.1" y="885.4" width="20.8" height="20.8" fill="#734898"/><rect x="619.6" y="885.4" width="20.8" height="20.8" fill="#66429c"/><rect x="640.1" y="885.4" width="20.8" height="20.8" fill="#4b34a5"/><rect x="660.6" y="885.4" width="20.8" height="20.8" fill="#4b34a5"/><rect x="681.0" y="885.4" width="20.8" height="20.8" fill="#3833a1"/><rect x="701.5" y="885.4" width="20.8" height="20.8" fill="#3833a1"/><rect x="722.0" y="885.4" width="20.8" height="20.8" fill="#34349e"/><rect x="742.5" y="885.4" width="20.8" height="20.8" fill="#133565"/><rect x="763.0" y="885.3" width="20.8" height="20.8" fill="#133565"/><rect x="783.5" y="885.3" width="20.8" height="20.8" fill="#193773"/><rect x="803.9" y="885.2" width="20.8" height="20.8" fill="#3e32a5"/><rect x="824.4" y="885.1" width="20.8" height="20.8" fill="#3e32a5"/><rect x="844.9" y="885.1" width="20.8" height="20.8" fill="#243786"/><rect x="865.4" y="885.0" width="20.8" height="20.8" fill="#4633a5"/><rect x="885.9" y="884.9" width="20.8" height="20.8" fill="#5036a3"/><rect x="906.4" y="884.8" width="20.8" height="20.8" fill="#3e32a5"/><rect x="926.8" y="884.7" width="20.8" height="20.8" fill="#4633a5"/><rect x="947.3" y="884.5" width="20.8" height="20.8" fill="#4b34a5"/><rect x="967.8" y="884.4" width="20.8" height="20.8" fill="#4b34a5"/><rect x="988.3" y="884.3" width="20.8" height="20.8" fill="#4633a5"/><rect x="1008.8" y="884.1" width="20.8" height="20.8" fill="#3a33a2"/><rect x="1029.3" y="884.0" width="20.8" height="20.8" fill="#3c32a4"/><rect x="250.9" y="904.1" width="20.8" height="20.8" fill="#a25c8a"/><rect x="271.4" y="904.2" width="20.8" height="20.8" fill="#a25c8a"/><rect x="291.8" y="904.4" width="20.8" height="20.8" fill="#a25c8a"/><rect x="312.3" y="904.6" width="20.8" height="20.8" fill="#aa5f86"/><rect x="332.8" y="904.7" width="20.8" height="20.8" fill="#aa5f86"/><rect x="353.3" y="904.9" width="20.8" height="20.8" fill="#734898"/><rect x="373.8" y="905.0" width="20.8" height="20.8" fill="#734898"/><rect x="394.3" y="905.1" width="20.8" height="20.8" fill="#583aa0"/><rect x="414.7" y="905.2" width="20.8" height="20.8" fill="#3e32a5"/><rect x="517.2" y="905.7" width="20.8" height="20.8" fill="#814e95"/><rect x="537.6" y="905.7" width="20.8" height="20.8" fill="#814e95"/><rect x="558.1" y="905.8" width="20.8" height="20.8" fill="#875094"/><rect x="578.6" y="905.8" width="20.8" height="20.8" fill="#875094"/><rect x="599.1" y="905.8" width="20.8" height="20.8" fill="#734898"/><rect x="619.6" y="905.9" width="20.8" height="20.8" fill="#69449b"/><rect x="640.1" y="905.9" width="20.8" height="20.8" fill="#66429c"/><rect x="660.6" y="905.9" width="20.8" height="20.8" fill="#5036a3"/><rect x="681.0" y="905.9" width="20.8" height="20.8" fill="#3e32a5"/><rect x="701.5" y="905.9" width="20.8" height="20.8" fill="#583aa0"/><rect x="722.0" y="905.8" width="20.8" height="20.8" fill="#4633a5"/><rect x="742.5" y="905.8" width="20.8" height="20.8" fill="#193773"/><rect x="763.0" y="905.8" width="20.8" height="20.8" fill="#133565"/><rect x="783.5" y="905.7" width="20.8" height="20.8" fill="#193773"/><rect x="803.9" y="905.7" width="20.8" height="20.8" fill="#1e377d"/><rect x="824.4" y="905.6" width="20.8" height="20.8" fill="#28378c"/><rect x="844.9" y="905.5" width="20.8" height="20.8" fill="#2d3693"/><rect x="865.4" y="905.4" width="20.8" height="20.8" fill="#223783"/><rect x="885.9" y="905.3" width="20.8" height="20.8" fill="#28378c"/><rect x="906.4" y="905.2" width="20.8" height="20.8" fill="#5036a3"/><rect x="926.8" y="905.1" width="20.8" height="20.8" fill="#69449b"/><rect x="947.3" y="905.0" width="20.8" height="20.8" fill="#6d469a"/><rect x="128.0" y="923.3" width="20.8" height="20.8" fill="#734898"/><rect x="148.5" y="923.5" width="20.8" height="20.8" fill="#734898"/><rect x="250.9" y="924.5" width="20.8" height="20.8" fill="#b26282"/><rect x="291.8" y="924.9" width="20.8" height="20.8" fill="#b26282"/><rect x="312.3" y="925.0" width="20.8" height="20.8" fill="#b26282"/><rect x="332.8" y="925.2" width="20.8" height="20.8" fill="#b26282"/><rect x="353.3" y="925.3" width="20.8" height="20.8" fill="#734898"/><rect x="373.8" y="925.4" width="20.8" height="20.8" fill="#7d4c96"/><rect x="394.3" y="925.6" width="20.8" height="20.8" fill="#583aa0"/><rect x="414.7" y="925.7" width="20.8" height="20.8" fill="#34349e"/><rect x="435.2" y="925.8" width="20.8" height="20.8" fill="#4b34a5"/><rect x="496.7" y="926.0" width="20.8" height="20.8" fill="#a25c8a"/><rect x="517.2" y="926.1" width="20.8" height="20.8" fill="#9a598e"/><rect x="537.6" y="926.2" width="20.8" height="20.8" fill="#9a598e"/><rect x="558.1" y="926.2" width="20.8" height="20.8" fill="#9f5b8b"/><rect x="578.6" y="926.3" width="20.8" height="20.8" fill="#915591"/><rect x="599.1" y="926.3" width="20.8" height="20.8" fill="#915591"/><rect x="619.6" y="926.3" width="20.8" height="20.8" fill="#875094"/><rect x="640.1" y="926.3" width="20.8" height="20.8" fill="#734898"/><rect x="660.6" y="926.3" width="20.8" height="20.8" fill="#66429c"/><rect x="681.0" y="926.3" width="20.8" height="20.8" fill="#583aa0"/><rect x="701.5" y="926.3" width="20.8" height="20.8" fill="#583aa0"/><rect x="722.0" y="926.3" width="20.8" height="20.8" fill="#4633a5"/><rect x="742.5" y="926.3" width="20.8" height="20.8" fill="#2d3693"/><rect x="763.0" y="926.2" width="20.8" height="20.8" fill="#1e377d"/><rect x="783.5" y="926.2" width="20.8" height="20.8" fill="#193773"/><rect x="803.9" y="926.1" width="20.8" height="20.8" fill="#1c377a"/><rect x="824.4" y="926.0" width="20.8" height="20.8" fill="#16376c"/><rect x="250.9" y="945.0" width="20.8" height="20.8" fill="#de7069"/><rect x="271.4" y="945.1" width="20.8" height="20.8" fill="#de7069"/><rect x="291.8" y="945.3" width="20.8" height="20.8" fill="#de7069"/><rect x="312.3" y="945.5" width="20.8" height="20.8" fill="#d56c70"/><rect x="332.8" y="945.6" width="20.8" height="20.8" fill="#d56c70"/><rect x="353.3" y="945.8" width="20.8" height="20.8" fill="#7d4c96"/><rect x="373.8" y="945.9" width="20.8" height="20.8" fill="#915591"/><rect x="394.3" y="946.0" width="20.8" height="20.8" fill="#734898"/><rect x="414.7" y="946.1" width="20.8" height="20.8" fill="#583aa0"/><rect x="435.2" y="946.2" width="20.8" height="20.8" fill="#583aa0"/><rect x="496.7" y="946.5" width="20.8" height="20.8" fill="#c5677a"/><rect x="517.2" y="946.6" width="20.8" height="20.8" fill="#b26282"/><rect x="537.6" y="946.6" width="20.8" height="20.8" fill="#9b598d"/><rect x="558.1" y="946.7" width="20.8" height="20.8" fill="#915591"/><rect x="578.6" y="946.7" width="20.8" height="20.8" fill="#875094"/><rect x="599.1" y="946.7" width="20.8" height="20.8" fill="#814e95"/><rect x="619.6" y="946.8" width="20.8" height="20.8" fill="#7d4c96"/><rect x="640.1" y="946.8" width="20.8" height="20.8" fill="#6d469a"/><rect x="660.6" y="946.8" width="20.8" height="20.8" fill="#875094"/><rect x="681.0" y="946.8" width="20.8" height="20.8" fill="#5036a3"/><rect x="701.5" y="946.8" width="20.8" height="20.8" fill="#5036a3"/><rect x="722.0" y="946.7" width="20.8" height="20.8" fill="#4633a5"/><rect x="742.5" y="946.7" width="20.8" height="20.8" fill="#2f3597"/><rect x="763.0" y="946.7" width="20.8" height="20.8" fill="#193773"/><rect x="783.5" y="946.6" width="20.8" height="20.8" fill="#0f325a"/><rect x="250.9" y="965.4" width="20.8" height="20.8" fill="#f89441"/><rect x="271.4" y="965.6" width="20.8" height="20.8" fill="#f3854b"/><rect x="291.8" y="965.8" width="20.8" height="20.8" fill="#e47462"/><rect x="312.3" y="965.9" width="20.8" height="20.8" fill="#de7069"/><rect x="332.8" y="966.1" width="20.8" height="20.8" fill="#de7069"/><rect x="353.3" y="966.2" width="20.8" height="20.8" fill="#a25c8a"/><rect x="373.8" y="966.3" width="20.8" height="20.8" fill="#a25c8a"/><rect x="394.3" y="966.5" width="20.8" height="20.8" fill="#875094"/><rect x="435.2" y="966.7" width="20.8" height="20.8" fill="#583aa0"/><rect x="496.7" y="966.9" width="20.8" height="20.8" fill="#d56c70"/><rect x="517.2" y="967.0" width="20.8" height="20.8" fill="#e47462"/><rect x="537.6" y="967.1" width="20.8" height="20.8" fill="#c5677a"/><rect x="558.1" y="967.1" width="20.8" height="20.8" fill="#9b598d"/><rect x="578.6" y="967.2" width="20.8" height="20.8" fill="#8d5392"/><rect x="599.1" y="967.2" width="20.8" height="20.8" fill="#6d469a"/><rect x="619.6" y="967.2" width="20.8" height="20.8" fill="#69449b"/><rect x="640.1" y="967.2" width="20.8" height="20.8" fill="#5b3c9f"/><rect x="660.6" y="967.2" width="20.8" height="20.8" fill="#6d469a"/><rect x="681.0" y="967.2" width="20.8" height="20.8" fill="#66429c"/><rect x="701.5" y="967.2" width="20.8" height="20.8" fill="#583aa0"/><rect x="722.0" y="967.2" width="20.8" height="20.8" fill="#3a33a2"/><rect x="742.5" y="967.2" width="20.8" height="20.8" fill="#0f325a"/><rect x="763.0" y="967.1" width="20.8" height="20.8" fill="#0c2f51"/><rect x="230.4" y="985.7" width="20.8" height="20.8" fill="#cd6976"/><rect x="250.9" y="985.9" width="20.8" height="20.8" fill="#f3854b"/><rect x="271.4" y="986.0" width="20.8" height="20.8" fill="#cd6976"/><rect x="291.8" y="986.2" width="20.8" height="20.8" fill="#de7069"/><rect x="312.3" y="986.4" width="20.8" height="20.8" fill="#de7069"/><rect x="332.8" y="986.5" width="20.8" height="20.8" fill="#de7069"/><rect x="353.3" y="986.7" width="20.8" height="20.8" fill="#cd6976"/><rect x="373.8" y="986.8" width="20.8" height="20.8" fill="#cd6976"/><rect x="394.3" y="986.9" width="20.8" height="20.8" fill="#915591"/><rect x="455.7" y="987.2" width="20.8" height="20.8" fill="#b26282"/><rect x="476.2" y="987.3" width="20.8" height="20.8" fill="#b26282"/><rect x="496.7" y="987.4" width="20.8" height="20.8" fill="#d56c70"/><rect x="517.2" y="987.5" width="20.8" height="20.8" fill="#ef7f52"/><rect x="537.6" y="987.5" width="20.8" height="20.8" fill="#eb785a"/><rect x="558.1" y="987.6" width="20.8" height="20.8" fill="#cd6976"/><rect x="619.6" y="987.7" width="20.8" height="20.8" fill="#69449b"/><rect x="640.1" y="987.7" width="20.8" height="20.8" fill="#34349e"/><rect x="660.6" y="987.7" width="20.8" height="20.8" fill="#2f3597"/><rect x="681.0" y="987.7" width="20.8" height="20.8" fill="#583aa0"/><rect x="701.5" y="987.7" width="20.8" height="20.8" fill="#3e32a5"/><rect x="722.0" y="987.6" width="20.8" height="20.8" fill="#28378c"/><rect x="742.5" y="987.6" width="20.8" height="20.8" fill="#193773"/><rect x="230.4" y="1006.1" width="20.8" height="20.8" fill="#7d4c96"/><rect x="250.9" y="1006.3" width="20.8" height="20.8" fill="#7d4c96"/><rect x="271.4" y="1006.5" width="20.8" height="20.8" fill="#875094"/><rect x="291.8" y="1006.7" width="20.8" height="20.8" fill="#7d4c96"/><rect x="312.3" y="1006.8" width="20.8" height="20.8" fill="#b26282"/><rect x="332.8" y="1007.0" width="20.8" height="20.8" fill="#eb785a"/><rect x="353.3" y="1007.1" width="20.8" height="20.8" fill="#eb785a"/><rect x="373.8" y="1007.2" width="20.8" height="20.8" fill="#e47462"/><rect x="394.3" y="1007.4" width="20.8" height="20.8" fill="#915591"/><rect x="414.7" y="1007.5" width="20.8" height="20.8" fill="#875094"/><rect x="435.2" y="1007.6" width="20.8" height="20.8" fill="#a25c8a"/><rect x="455.7" y="1007.7" width="20.8" height="20.8" fill="#bf657c"/><rect x="476.2" y="1007.8" width="20.8" height="20.8" fill="#bf657c"/><rect x="496.7" y="1007.8" width="20.8" height="20.8" fill="#b76380"/><rect x="517.2" y="1007.9" width="20.8" height="20.8" fill="#de7069"/><rect x="537.6" y="1008.0" width="20.8" height="20.8" fill="#eb785a"/><rect x="558.1" y="1008.0" width="20.8" height="20.8" fill="#f48849"/><rect x="619.6" y="1008.1" width="20.8" height="20.8" fill="#69449b"/><rect x="640.1" y="1008.1" width="20.8" height="20.8" fill="#4633a5"/><rect x="660.6" y="1008.1" width="20.8" height="20.8" fill="#3e32a5"/><rect x="230.4" y="1026.6" width="20.8" height="20.8" fill="#915591"/><rect x="250.9" y="1026.8" width="20.8" height="20.8" fill="#7d4c96"/><rect x="271.4" y="1026.9" width="20.8" height="20.8" fill="#69449b"/><rect x="291.8" y="1027.1" width="20.8" height="20.8" fill="#734898"/><rect x="312.3" y="1027.3" width="20.8" height="20.8" fill="#f89441"/><rect x="332.8" y="1027.4" width="20.8" height="20.8" fill="#e4fa5d"/><rect x="353.3" y="1027.6" width="20.8" height="20.8" fill="#e4fa5d"/><rect x="373.8" y="1027.7" width="20.8" height="20.8" fill="#f68d46"/><rect x="394.3" y="1027.8" width="20.8" height="20.8" fill="#875094"/><rect x="414.7" y="1027.9" width="20.8" height="20.8" fill="#875094"/><rect x="517.2" y="1028.4" width="20.8" height="20.8" fill="#de7069"/><rect x="537.6" y="1028.4" width="20.8" height="20.8" fill="#ef7f52"/><rect x="619.6" y="1028.6" width="20.8" height="20.8" fill="#66429c"/><rect x="640.1" y="1028.6" width="20.8" height="20.8" fill="#66429c"/><rect x="660.6" y="1028.6" width="20.8" height="20.8" fill="#734898"/><rect x="394.3" y="1048.3" width="20.8" height="20.8" fill="#875094"/><rect x="640.1" y="1049.0" width="20.8" height="20.8" fill="#66429c"/><rect x="660.6" y="1049.0" width="20.8" height="20.8" fill="#7d4c96"/><rect x="619.6" y="1069.5" width="20.8" height="20.8" fill="#814e95"/><rect x="640.1" y="1069.5" width="20.8" height="20.8" fill="#945690"/><rect x="619.6" y="1089.9" width="20.8" height="20.8" fill="#814e95"/></g>
<use href="#geo" stroke-width="2.7"/><use href="#grat"/>
</g>
<rect x="87.0" y="608.0" width="1168.6" height="562.0" fill="none" stroke="#1a1a1a" stroke-width="1.2"/>
<path d="M270 608l0.8 10M671 608v10M1072.5 608l-0.8 10M315 1170l-0.8 -10M671 1170v-10M1026.5 1170l0.8 -10M87 757.5l10 -1.2M87 988l10 -1.2M1255.6 757.5l-10 -1.2M1255.6 988l-10 -1.2" stroke="#1a1a1a" stroke-width="1.3" fill="none"/>
<rect x="95.4" y="618.4" width="98" height="76" fill="#fff" stroke="#000" stroke-width="2.5"/>
<text x="144.5" y="671.6" class="pl" font-size="59" text-anchor="middle">(c)</text>
<text transform="translate(78.4 773.8) rotate(-6.3)" font-size="34.8" text-anchor="end" textLength="74.6" lengthAdjust="spacing">70°S</text>
<text transform="translate(78.4 1003.6) rotate(-6.3)" font-size="34.8" text-anchor="end" textLength="74.6" lengthAdjust="spacing">71°S</text>
</g>
<g transform="translate(0 1183.0)">
<g clip-path="url(#pc)">
<g shape-rendering="crispEdges"><rect x="599.1" y="721.8" width="20.8" height="20.8" fill="#e47462"/><rect x="619.6" y="721.8" width="20.8" height="20.8" fill="#d26b72"/><rect x="599.1" y="742.2" width="20.8" height="20.8" fill="#de7069"/><rect x="619.6" y="742.3" width="20.8" height="20.8" fill="#cd6976"/><rect x="599.1" y="762.7" width="20.8" height="20.8" fill="#c86878"/><rect x="619.6" y="762.7" width="20.8" height="20.8" fill="#c86878"/><rect x="783.5" y="762.6" width="20.8" height="20.8" fill="#814e95"/><rect x="599.1" y="783.1" width="20.8" height="20.8" fill="#915591"/><rect x="619.6" y="783.2" width="20.8" height="20.8" fill="#915591"/><rect x="640.1" y="783.2" width="20.8" height="20.8" fill="#bf657c"/><rect x="660.6" y="783.2" width="20.8" height="20.8" fill="#9a598e"/><rect x="681.0" y="783.2" width="20.8" height="20.8" fill="#945690"/><rect x="701.5" y="783.2" width="20.8" height="20.8" fill="#915591"/><rect x="722.0" y="783.1" width="20.8" height="20.8" fill="#8d5392"/><rect x="742.5" y="783.1" width="20.8" height="20.8" fill="#8d5392"/><rect x="763.0" y="783.1" width="20.8" height="20.8" fill="#814e95"/><rect x="783.5" y="783.0" width="20.8" height="20.8" fill="#875094"/><rect x="599.1" y="803.6" width="20.8" height="20.8" fill="#8d5392"/><rect x="619.6" y="803.6" width="20.8" height="20.8" fill="#7d4c96"/><rect x="640.1" y="803.6" width="20.8" height="20.8" fill="#7d4c96"/><rect x="660.6" y="803.6" width="20.8" height="20.8" fill="#734898"/><rect x="681.0" y="803.6" width="20.8" height="20.8" fill="#814e95"/><rect x="701.5" y="803.6" width="20.8" height="20.8" fill="#6d469a"/><rect x="722.0" y="803.6" width="20.8" height="20.8" fill="#66429c"/><rect x="742.5" y="803.6" width="20.8" height="20.8" fill="#66429c"/><rect x="763.0" y="803.5" width="20.8" height="20.8" fill="#734898"/><rect x="783.5" y="803.5" width="20.8" height="20.8" fill="#9b598d"/><rect x="496.7" y="823.8" width="20.8" height="20.8" fill="#6d469a"/><rect x="517.2" y="823.9" width="20.8" height="20.8" fill="#7d4c96"/><rect x="537.6" y="823.9" width="20.8" height="20.8" fill="#8d5392"/><rect x="558.1" y="824.0" width="20.8" height="20.8" fill="#8d5392"/><rect x="578.6" y="824.0" width="20.8" height="20.8" fill="#8d5392"/><rect x="599.1" y="824.0" width="20.8" height="20.8" fill="#875094"/><rect x="619.6" y="824.1" width="20.8" height="20.8" fill="#7d4c96"/><rect x="640.1" y="824.1" width="20.8" height="20.8" fill="#7d4c96"/><rect x="660.6" y="824.1" width="20.8" height="20.8" fill="#6d469a"/><rect x="681.0" y="824.1" width="20.8" height="20.8" fill="#7d4c96"/><rect x="701.5" y="824.1" width="20.8" height="20.8" fill="#69449b"/><rect x="722.0" y="824.0" width="20.8" height="20.8" fill="#66429c"/><rect x="742.5" y="824.0" width="20.8" height="20.8" fill="#66429c"/><rect x="763.0" y="824.0" width="20.8" height="20.8" fill="#3e32a5"/><rect x="783.5" y="823.9" width="20.8" height="20.8" fill="#66429c"/><rect x="803.9" y="823.9" width="20.8" height="20.8" fill="#69449b"/><rect x="824.4" y="823.8" width="20.8" height="20.8" fill="#69449b"/><rect x="844.9" y="823.7" width="20.8" height="20.8" fill="#5b3c9f"/><rect x="865.4" y="823.6" width="20.8" height="20.8" fill="#5b3c9f"/><rect x="926.8" y="823.3" width="20.8" height="20.8" fill="#bf657c"/><rect x="1152.2" y="821.5" width="20.8" height="20.8" fill="#e7765e"/><rect x="1172.7" y="821.3" width="20.8" height="20.8" fill="#de7069"/><rect x="1193.1" y="821.0" width="20.8" height="20.8" fill="#f79143"/><rect x="455.7" y="844.1" width="20.8" height="20.8" fill="#64419c"/><rect x="476.2" y="844.2" width="20.8" height="20.8" fill="#64419c"/><rect x="496.7" y="844.2" width="20.8" height="20.8" fill="#734898"/><rect x="517.2" y="844.3" width="20.8" height="20.8" fill="#915591"/><rect x="537.6" y="844.4" width="20.8" height="20.8" fill="#915591"/><rect x="558.1" y="844.4" width="20.8" height="20.8" fill="#9b598d"/><rect x="578.6" y="844.5" width="20.8" height="20.8" fill="#98588e"/><rect x="599.1" y="844.5" width="20.8" height="20.8" fill="#915591"/><rect x="619.6" y="844.5" width="20.8" height="20.8" fill="#915591"/><rect x="640.1" y="844.5" width="20.8" height="20.8" fill="#69449b"/><rect x="660.6" y="844.5" width="20.8" height="20.8" fill="#69449b"/><rect x="681.0" y="844.5" width="20.8" height="20.8" fill="#8d5392"/><rect x="701.5" y="844.5" width="20.8" height="20.8" fill="#69449b"/><rect x="722.0" y="844.5" width="20.8" height="20.8" fill="#603f9e"/><rect x="742.5" y="844.5" width="20.8" height="20.8" fill="#603f9e"/><rect x="763.0" y="844.4" width="20.8" height="20.8" fill="#34349e"/><rect x="783.5" y="844.4" width="20.8" height="20.8" fill="#4633a5"/><rect x="803.9" y="844.3" width="20.8" height="20.8" fill="#4132a5"/><rect x="824.4" y="844.2" width="20.8" height="20.8" fill="#583aa0"/><rect x="844.9" y="844.2" width="20.8" height="20.8" fill="#5b3c9f"/><rect x="885.9" y="844.0" width="20.8" height="20.8" fill="#69449b"/><rect x="906.4" y="843.9" width="20.8" height="20.8" fill="#69449b"/><rect x="926.8" y="843.8" width="20.8" height="20.8" fill="#875094"/><rect x="947.3" y="843.6" width="20.8" height="20.8" fill="#9f5b8b"/><rect x="967.8" y="843.5" width="20.8" height="20.8" fill="#a25c8a"/><rect x="988.3" y="843.4" width="20.8" height="20.8" fill="#aa5f86"/><rect x="1008.8" y="843.2" width="20.8" height="20.8" fill="#af6184"/><rect x="1029.3" y="843.1" width="20.8" height="20.8" fill="#ba647e"/><rect x="1049.7" y="842.9" width="20.8" height="20.8" fill="#bf657c"/><rect x="1070.2" y="842.7" width="20.8" height="20.8" fill="#c5677a"/><rect x="1090.7" y="842.5" width="20.8" height="20.8" fill="#cd6976"/><rect x="1111.2" y="842.3" width="20.8" height="20.8" fill="#e17266"/><rect x="1131.7" y="842.1" width="20.8" height="20.8" fill="#eb785a"/><rect x="1152.2" y="841.9" width="20.8" height="20.8" fill="#d06a73"/><rect x="1172.7" y="841.7" width="20.8" height="20.8" fill="#c86878"/><rect x="1193.1" y="841.5" width="20.8" height="20.8" fill="#eb785a"/><rect x="1213.6" y="841.2" width="20.8" height="20.8" fill="#bf657c"/><rect x="1234.1" y="841.0" width="20.8" height="20.8" fill="#b26282"/><rect x="414.7" y="864.3" width="20.8" height="20.8" fill="#9f5b8b"/><rect x="435.2" y="864.4" width="20.8" height="20.8" fill="#5b3c9f"/><rect x="455.7" y="864.5" width="20.8" height="20.8" fill="#603f9e"/><rect x="476.2" y="864.6" width="20.8" height="20.8" fill="#875094"/><rect x="496.7" y="864.7" width="20.8" height="20.8" fill="#8d5392"/><rect x="517.2" y="864.8" width="20.8" height="20.8" fill="#915591"/><rect x="537.6" y="864.8" width="20.8" height="20.8" fill="#915591"/><rect x="558.1" y="864.9" width="20.8" height="20.8" fill="#9f5b8b"/><rect x="578.6" y="864.9" width="20.8" height="20.8" fill="#9f5b8b"/><rect x="599.1" y="864.9" width="20.8" height="20.8" fill="#a25c8a"/><rect x="619.6" y="865.0" width="20.8" height="20.8" fill="#98588e"/><rect x="640.1" y="865.0" width="20.8" height="20.8" fill="#7d4c96"/><rect x="660.6" y="865.0" width="20.8" height="20.8" fill="#7d4c96"/><rect x="681.0" y="865.0" width="20.8" height="20.8" fill="#734898"/><rect x="701.5" y="865.0" width="20.8" height="20.8" fill="#734898"/><rect x="722.0" y="864.9" width="20.8" height="20.8" fill="#6d469a"/><rect x="742.5" y="864.9" width="20.8" height="20.8" fill="#5b3c9f"/><rect x="763.0" y="864.9" width="20.8" height="20.8" fill="#4b34a5"/><rect x="783.5" y="864.8" width="20.8" height="20.8" fill="#3e32a5"/><rect x="803.9" y="864.8" width="20.8" height="20.8" fill="#5b3c9f"/><rect x="824.4" y="864.7" width="20.8" height="20.8" fill="#5b3c9f"/><rect x="844.9" y="864.6" width="20.8" height="20.8" fill="#603f9e"/><rect x="865.4" y="864.5" width="20.8" height="20.8" fill="#69449b"/><rect x="885.9" y="864.4" width="20.8" height="20.8" fill="#6d469a"/><rect x="906.4" y="864.3" width="20.8" height="20.8" fill="#69449b"/><rect x="926.8" y="864.2" width="20.8" height="20.8" fill="#814e95"/><rect x="947.3" y="864.1" width="20.8" height="20.8" fill="#915591"/><rect x="967.8" y="864.0" width="20.8" height="20.8" fill="#9a598e"/><rect x="988.3" y="863.8" width="20.8" height="20.8" fill="#9b598d"/><rect x="1008.8" y="863.7" width="20.8" height="20.8" fill="#9f5b8b"/><rect x="1029.3" y="863.5" width="20.8" height="20.8" fill="#9f5b8b"/><rect x="1049.7" y="863.3" width="20.8" height="20.8" fill="#a25c8a"/><rect x="1070.2" y="863.2" width="20.8" height="20.8" fill="#9f5b8b"/><rect x="1090.7" y="863.0" width="20.8" height="20.8" fill="#9f5b8b"/><rect x="1111.2" y="862.8" width="20.8" height="20.8" fill="#a25c8a"/><rect x="1131.7" y="862.6" width="20.8" height="20.8" fill="#af6184"/><rect x="1152.2" y="862.4" width="20.8" height="20.8" fill="#a25c8a"/><rect x="1172.7" y="862.2" width="20.8" height="20.8" fill="#9f5b8b"/><rect x="1193.1" y="861.9" width="20.8" height="20.8" fill="#ba647e"/><rect x="1213.6" y="861.7" width="20.8" height="20.8" fill="#a25c8a"/><rect x="1234.1" y="861.4" width="20.8" height="20.8" fill="#96578f"/><rect x="230.4" y="883.4" width="20.8" height="20.8" fill="#de7069"/><rect x="250.9" y="883.6" width="20.8" height="20.8" fill="#de7069"/><rect x="271.4" y="883.8" width="20.8" height="20.8" fill="#e47462"/><rect x="291.8" y="884.0" width="20.8" height="20.8" fill="#e47462"/><rect x="312.3" y="884.1" width="20.8" height="20.8" fill="#e47462"/><rect x="332.8" y="884.3" width="20.8" height="20.8" fill="#e47462"/><rect x="353.3" y="884.4" width="20.8" height="20.8" fill="#d56c70"/><rect x="373.8" y="884.5" width="20.8" height="20.8" fill="#d56c70"/><rect x="476.2" y="885.1" width="20.8" height="20.8" fill="#a25c8a"/><rect x="496.7" y="885.1" width="20.8" height="20.8" fill="#9f5b8b"/><rect x="517.2" y="885.2" width="20.8" height="20.8" fill="#9f5b8b"/><rect x="537.6" y="885.3" width="20.8" height="20.8" fill="#9f5b8b"/><rect x="558.1" y="885.3" width="20.8" height="20.8" fill="#b26282"/><rect x="578.6" y="885.4" width="20.8" height="20.8" fill="#aa5f86"/><rect x="599.1" y="885.4" width="20.8" height="20.8" fill="#a25c8a"/><rect x="619.6" y="885.4" width="20.8" height="20.8" fill="#9b598d"/><rect x="640.1" y="885.4" width="20.8" height="20.8" fill="#875094"/><rect x="660.6" y="885.4" width="20.8" height="20.8" fill="#8d5392"/><rect x="681.0" y="885.4" width="20.8" height="20.8" fill="#6d469a"/><rect x="701.5" y="885.4" width="20.8" height="20.8" fill="#6d469a"/><rect x="722.0" y="885.4" width="20.8" height="20.8" fill="#69449b"/><rect x="742.5" y="885.4" width="20.8" height="20.8" fill="#3a33a2"/><rect x="763.0" y="885.3" width="20.8" height="20.8" fill="#3a33a2"/><rect x="783.5" y="885.3" width="20.8" height="20.8" fill="#583aa0"/><rect x="803.9" y="885.2" width="20.8" height="20.8" fill="#814e95"/><rect x="824.4" y="885.1" width="20.8" height="20.8" fill="#814e95"/><rect x="844.9" y="885.1" width="20.8" height="20.8" fill="#603f9e"/><rect x="865.4" y="885.0" width="20.8" height="20.8" fill="#915591"/><rect x="885.9" y="884.9" width="20.8" height="20.8" fill="#915591"/><rect x="906.4" y="884.8" width="20.8" height="20.8" fill="#8d5392"/><rect x="926.8" y="884.7" width="20.8" height="20.8" fill="#8d5392"/><rect x="947.3" y="884.5" width="20.8" height="20.8" fill="#8d5392"/><rect x="967.8" y="884.4" width="20.8" height="20.8" fill="#875094"/><rect x="988.3" y="884.3" width="20.8" height="20.8" fill="#7d4c96"/><rect x="1008.8" y="884.1" width="20.8" height="20.8" fill="#6d469a"/><rect x="1029.3" y="884.0" width="20.8" height="20.8" fill="#734898"/><rect x="250.9" y="904.1" width="20.8" height="20.8" fill="#de7069"/><rect x="271.4" y="904.2" width="20.8" height="20.8" fill="#de7069"/><rect x="291.8" y="904.4" width="20.8" height="20.8" fill="#eb785a"/><rect x="312.3" y="904.6" width="20.8" height="20.8" fill="#eb785a"/><rect x="332.8" y="904.7" width="20.8" height="20.8" fill="#e47462"/><rect x="353.3" y="904.9" width="20.8" height="20.8" fill="#a25c8a"/><rect x="373.8" y="905.0" width="20.8" height="20.8" fill="#a25c8a"/><rect x="394.3" y="905.1" width="20.8" height="20.8" fill="#875094"/><rect x="414.7" y="905.2" width="20.8" height="20.8" fill="#734898"/><rect x="517.2" y="905.7" width="20.8" height="20.8" fill="#cd6976"/><rect x="537.6" y="905.7" width="20.8" height="20.8" fill="#cd6976"/><rect x="558.1" y="905.8" width="20.8" height="20.8" fill="#c5677a"/><rect x="578.6" y="905.8" width="20.8" height="20.8" fill="#aa5f86"/><rect x="599.1" y="905.8" width="20.8" height="20.8" fill="#aa5f86"/><rect x="619.6" y="905.9" width="20.8" height="20.8" fill="#9f5b8b"/><rect x="640.1" y="905.9" width="20.8" height="20.8" fill="#9b598d"/><rect x="660.6" y="905.9" width="20.8" height="20.8" fill="#875094"/><rect x="681.0" y="905.9" width="20.8" height="20.8" fill="#734898"/><rect x="701.5" y="905.9" width="20.8" height="20.8" fill="#875094"/><rect x="722.0" y="905.8" width="20.8" height="20.8" fill="#734898"/><rect x="742.5" y="905.8" width="20.8" height="20.8" fill="#4b34a5"/><rect x="763.0" y="905.8" width="20.8" height="20.8" fill="#3e32a5"/><rect x="783.5" y="905.7" width="20.8" height="20.8" fill="#4b34a5"/><rect x="803.9" y="905.7" width="20.8" height="20.8" fill="#583aa0"/><rect x="824.4" y="905.6" width="20.8" height="20.8" fill="#5b3c9f"/><rect x="844.9" y="905.5" width="20.8" height="20.8" fill="#603f9e"/><rect x="865.4" y="905.4" width="20.8" height="20.8" fill="#583aa0"/><rect x="885.9" y="905.3" width="20.8" height="20.8" fill="#603f9e"/><rect x="906.4" y="905.2" width="20.8" height="20.8" fill="#8d5392"/><rect x="926.8" y="905.1" width="20.8" height="20.8" fill="#aa5f86"/><rect x="947.3" y="905.0" width="20.8" height="20.8" fill="#af6184"/><rect x="128.0" y="923.3" width="20.8" height="20.8" fill="#aa5f86"/><rect x="148.5" y="923.5" width="20.8" height="20.8" fill="#aa5f86"/><rect x="250.9" y="924.5" width="20.8" height="20.8" fill="#de7069"/><rect x="291.8" y="924.9" width="20.8" height="20.8" fill="#ef7f52"/><rect x="312.3" y="925.0" width="20.8" height="20.8" fill="#ef7f52"/><rect x="332.8" y="925.2" width="20.8" height="20.8" fill="#e47462"/><rect x="353.3" y="925.3" width="20.8" height="20.8" fill="#aa5f86"/><rect x="373.8" y="925.4" width="20.8" height="20.8" fill="#b26282"/><rect x="394.3" y="925.6" width="20.8" height="20.8" fill="#915591"/><rect x="414.7" y="925.7" width="20.8" height="20.8" fill="#603f9e"/><rect x="435.2" y="925.8" width="20.8" height="20.8" fill="#875094"/><rect x="496.7" y="926.0" width="20.8" height="20.8" fill="#e47462"/><rect x="517.2" y="926.1" width="20.8" height="20.8" fill="#de7069"/><rect x="537.6" y="926.2" width="20.8" height="20.8" fill="#de7069"/><rect x="558.1" y="926.2" width="20.8" height="20.8" fill="#eb785a"/><rect x="578.6" y="926.3" width="20.8" height="20.8" fill="#d56c70"/><rect x="599.1" y="926.3" width="20.8" height="20.8" fill="#cd6976"/><rect x="619.6" y="926.3" width="20.8" height="20.8" fill="#cd6976"/><rect x="640.1" y="926.3" width="20.8" height="20.8" fill="#b76380"/><rect x="660.6" y="926.3" width="20.8" height="20.8" fill="#9f5b8b"/><rect x="681.0" y="926.3" width="20.8" height="20.8" fill="#915591"/><rect x="701.5" y="926.3" width="20.8" height="20.8" fill="#915591"/><rect x="722.0" y="926.3" width="20.8" height="20.8" fill="#814e95"/><rect x="742.5" y="926.3" width="20.8" height="20.8" fill="#69449b"/><rect x="763.0" y="926.2" width="20.8" height="20.8" fill="#5b3c9f"/><rect x="783.5" y="926.2" width="20.8" height="20.8" fill="#4b34a5"/><rect x="803.9" y="926.1" width="20.8" height="20.8" fill="#5036a3"/><rect x="824.4" y="926.0" width="20.8" height="20.8" fill="#4132a5"/><rect x="250.9" y="945.0" width="20.8" height="20.8" fill="#f99f40"/><rect x="271.4" y="945.1" width="20.8" height="20.8" fill="#f99f40"/><rect x="291.8" y="945.3" width="20.8" height="20.8" fill="#f89441"/><rect x="312.3" y="945.5" width="20.8" height="20.8" fill="#f89441"/><rect x="332.8" y="945.6" width="20.8" height="20.8" fill="#f89441"/><rect x="353.3" y="945.8" width="20.8" height="20.8" fill="#bf657c"/><rect x="373.8" y="945.9" width="20.8" height="20.8" fill="#cd6976"/><rect x="394.3" y="946.0" width="20.8" height="20.8" fill="#a25c8a"/><rect x="414.7" y="946.1" width="20.8" height="20.8" fill="#7d4c96"/><rect x="435.2" y="946.2" width="20.8" height="20.8" fill="#915591"/><rect x="496.7" y="946.5" width="20.8" height="20.8" fill="#f48849"/><rect x="517.2" y="946.6" width="20.8" height="20.8" fill="#f3854b"/><rect x="537.6" y="946.6" width="20.8" height="20.8" fill="#e47462"/><rect x="558.1" y="946.7" width="20.8" height="20.8" fill="#d56c70"/><rect x="578.6" y="946.7" width="20.8" height="20.8" fill="#cd6976"/><rect x="599.1" y="946.7" width="20.8" height="20.8" fill="#c5677a"/><rect x="619.6" y="946.8" width="20.8" height="20.8" fill="#b76380"/><rect x="640.1" y="946.8" width="20.8" height="20.8" fill="#a25c8a"/><rect x="660.6" y="946.8" width="20.8" height="20.8" fill="#c5677a"/><rect x="681.0" y="946.8" width="20.8" height="20.8" fill="#915591"/><rect x="701.5" y="946.8" width="20.8" height="20.8" fill="#8d5392"/><rect x="722.0" y="946.7" width="20.8" height="20.8" fill="#814e95"/><rect x="742.5" y="946.7" width="20.8" height="20.8" fill="#603f9e"/><rect x="763.0" y="946.7" width="20.8" height="20.8" fill="#4633a5"/><rect x="783.5" y="946.6" width="20.8" height="20.8" fill="#3833a1"/><rect x="250.9" y="965.4" width="20.8" height="20.8" fill="#eaf159"/><rect x="271.4" y="965.6" width="20.8" height="20.8" fill="#f8ca46"/><rect x="291.8" y="965.8" width="20.8" height="20.8" fill="#fab43f"/><rect x="312.3" y="965.9" width="20.8" height="20.8" fill="#f99f40"/><rect x="332.8" y="966.1" width="20.8" height="20.8" fill="#f99f40"/><rect x="353.3" y="966.2" width="20.8" height="20.8" fill="#de7069"/><rect x="373.8" y="966.3" width="20.8" height="20.8" fill="#e47462"/><rect x="394.3" y="966.5" width="20.8" height="20.8" fill="#cd6976"/><rect x="435.2" y="966.7" width="20.8" height="20.8" fill="#915591"/><rect x="496.7" y="966.9" width="20.8" height="20.8" fill="#f99f40"/><rect x="517.2" y="967.0" width="20.8" height="20.8" fill="#faa63f"/><rect x="537.6" y="967.1" width="20.8" height="20.8" fill="#f68d46"/><rect x="558.1" y="967.1" width="20.8" height="20.8" fill="#de7069"/><rect x="578.6" y="967.2" width="20.8" height="20.8" fill="#cd6976"/><rect x="599.1" y="967.2" width="20.8" height="20.8" fill="#aa5f86"/><rect x="619.6" y="967.2" width="20.8" height="20.8" fill="#9f5b8b"/><rect x="640.1" y="967.2" width="20.8" height="20.8" fill="#8d5392"/><rect x="660.6" y="967.2" width="20.8" height="20.8" fill="#aa5f86"/><rect x="681.0" y="967.2" width="20.8" height="20.8" fill="#98588e"/><rect x="701.5" y="967.2" width="20.8" height="20.8" fill="#915591"/><rect x="722.0" y="967.2" width="20.8" height="20.8" fill="#7d4c96"/><rect x="742.5" y="967.2" width="20.8" height="20.8" fill="#4633a5"/><rect x="763.0" y="967.1" width="20.8" height="20.8" fill="#28378c"/><rect x="230.4" y="985.7" width="20.8" height="20.8" fill="#f99f40"/><rect x="250.9" y="985.9" width="20.8" height="20.8" fill="#f5d74b"/><rect x="271.4" y="986.0" width="20.8" height="20.8" fill="#f99f40"/><rect x="291.8" y="986.2" width="20.8" height="20.8" fill="#f99f40"/><rect x="312.3" y="986.4" width="20.8" height="20.8" fill="#f99f40"/><rect x="332.8" y="986.5" width="20.8" height="20.8" fill="#f99f40"/><rect x="353.3" y="986.7" width="20.8" height="20.8" fill="#f3854b"/><rect x="373.8" y="986.8" width="20.8" height="20.8" fill="#f3854b"/><rect x="394.3" y="986.9" width="20.8" height="20.8" fill="#cd6976"/><rect x="455.7" y="987.2" width="20.8" height="20.8" fill="#de7069"/><rect x="476.2" y="987.3" width="20.8" height="20.8" fill="#e47462"/><rect x="496.7" y="987.4" width="20.8" height="20.8" fill="#f99f40"/><rect x="517.2" y="987.5" width="20.8" height="20.8" fill="#fab43f"/><rect x="537.6" y="987.5" width="20.8" height="20.8" fill="#faaa3e"/><rect x="558.1" y="987.6" width="20.8" height="20.8" fill="#f79143"/><rect x="619.6" y="987.7" width="20.8" height="20.8" fill="#9f5b8b"/><rect x="640.1" y="987.7" width="20.8" height="20.8" fill="#7d4c96"/><rect x="660.6" y="987.7" width="20.8" height="20.8" fill="#69449b"/><rect x="681.0" y="987.7" width="20.8" height="20.8" fill="#8d5392"/><rect x="701.5" y="987.7" width="20.8" height="20.8" fill="#915591"/><rect x="722.0" y="987.6" width="20.8" height="20.8" fill="#6d469a"/><rect x="742.5" y="987.6" width="20.8" height="20.8" fill="#583aa0"/><rect x="230.4" y="1006.1" width="20.8" height="20.8" fill="#b26282"/><rect x="250.9" y="1006.3" width="20.8" height="20.8" fill="#bf657c"/><rect x="271.4" y="1006.5" width="20.8" height="20.8" fill="#bf657c"/><rect x="291.8" y="1006.7" width="20.8" height="20.8" fill="#bf657c"/><rect x="312.3" y="1006.8" width="20.8" height="20.8" fill="#eb785a"/><rect x="332.8" y="1007.0" width="20.8" height="20.8" fill="#fab43f"/><rect x="353.3" y="1007.1" width="20.8" height="20.8" fill="#fab43f"/><rect x="373.8" y="1007.2" width="20.8" height="20.8" fill="#f99f40"/><rect x="394.3" y="1007.4" width="20.8" height="20.8" fill="#cd6976"/><rect x="414.7" y="1007.5" width="20.8" height="20.8" fill="#cd6976"/><rect x="435.2" y="1007.6" width="20.8" height="20.8" fill="#de7069"/><rect x="455.7" y="1007.7" width="20.8" height="20.8" fill="#e47462"/><rect x="476.2" y="1007.8" width="20.8" height="20.8" fill="#e47462"/><rect x="496.7" y="1007.8" width="20.8" height="20.8" fill="#f68d46"/><rect x="517.2" y="1007.9" width="20.8" height="20.8" fill="#f99f40"/><rect x="537.6" y="1008.0" width="20.8" height="20.8" fill="#fabe41"/><rect x="558.1" y="1008.0" width="20.8" height="20.8" fill="#f8ca46"/><rect x="619.6" y="1008.1" width="20.8" height="20.8" fill="#9b598d"/><rect x="640.1" y="1008.1" width="20.8" height="20.8" fill="#8d5392"/><rect x="660.6" y="1008.1" width="20.8" height="20.8" fill="#814e95"/><rect x="230.4" y="1026.6" width="20.8" height="20.8" fill="#cd6976"/><rect x="250.9" y="1026.8" width="20.8" height="20.8" fill="#bf657c"/><rect x="271.4" y="1026.9" width="20.8" height="20.8" fill="#a25c8a"/><rect x="291.8" y="1027.1" width="20.8" height="20.8" fill="#b26282"/><rect x="312.3" y="1027.3" width="20.8" height="20.8" fill="#e4fa5d"/><rect x="332.8" y="1027.4" width="20.8" height="20.8" fill="#e4fa5d"/><rect x="353.3" y="1027.6" width="20.8" height="20.8" fill="#e4fa5d"/><rect x="373.8" y="1027.7" width="20.8" height="20.8" fill="#fabe41"/><rect x="394.3" y="1027.8" width="20.8" height="20.8" fill="#bf657c"/><rect x="414.7" y="1027.9" width="20.8" height="20.8" fill="#bf657c"/><rect x="517.2" y="1028.4" width="20.8" height="20.8" fill="#f99f40"/><rect x="537.6" y="1028.4" width="20.8" height="20.8" fill="#fab840"/><rect x="619.6" y="1028.6" width="20.8" height="20.8" fill="#9f5b8b"/><rect x="640.1" y="1028.6" width="20.8" height="20.8" fill="#9f5b8b"/><rect x="660.6" y="1028.6" width="20.8" height="20.8" fill="#aa5f86"/><rect x="394.3" y="1048.3" width="20.8" height="20.8" fill="#bf657c"/><rect x="640.1" y="1049.0" width="20.8" height="20.8" fill="#a25c8a"/><rect x="660.6" y="1049.0" width="20.8" height="20.8" fill="#b26282"/><rect x="619.6" y="1069.5" width="20.8" height="20.8" fill="#bf657c"/><rect x="640.1" y="1069.5" width="20.8" height="20.8" fill="#d96e6d"/><rect x="619.6" y="1089.9" width="20.8" height="20.8" fill="#cd6976"/></g>
<use href="#geo" stroke-width="2.7"/><use href="#grat"/>
</g>
<rect x="87.0" y="608.0" width="1168.6" height="562.0" fill="none" stroke="#1a1a1a" stroke-width="1.2"/>
<path d="M270 608l0.8 10M671 608v10M1072.5 608l-0.8 10M315 1170l-0.8 -10M671 1170v-10M1026.5 1170l0.8 -10M87 757.5l10 -1.2M87 988l10 -1.2M1255.6 757.5l-10 -1.2M1255.6 988l-10 -1.2" stroke="#1a1a1a" stroke-width="1.3" fill="none"/>
<rect x="95.4" y="618.4" width="98" height="76" fill="#fff" stroke="#000" stroke-width="2.5"/>
<text x="144.5" y="671.6" class="pl" font-size="59" text-anchor="middle">(d)</text>
<text transform="translate(78.4 773.8) rotate(-6.3)" font-size="34.8" text-anchor="end" textLength="74.6" lengthAdjust="spacing">70°S</text>
<text transform="translate(78.4 1003.6) rotate(-6.3)" font-size="34.8" text-anchor="end" textLength="74.6" lengthAdjust="spacing">71°S</text>
</g>
<text transform="translate(326.0 2387.0) rotate(-4.5)" font-size="34.8" text-anchor="middle">5°W</text>
<text transform="translate(676.5 2388.5) rotate(0)" font-size="34.8" text-anchor="middle">0°</text>
<text transform="translate(1034.0 2387.0) rotate(4.5)" font-size="34.8" text-anchor="middle">5°E</text>
<g shape-rendering="crispEdges">
<rect x="1284.6" y="561.44" width="61.6" height="17.96" fill="#191c44"/>
<rect x="1284.6" y="543.88" width="61.6" height="17.96" fill="#24265c"/>
<rect x="1284.6" y="526.31" width="61.6" height="17.96" fill="#2d3078"/>
<rect x="1284.6" y="508.75" width="61.6" height="17.96" fill="#2e3c9b"/>
<rect x="1284.6" y="491.19" width="61.6" height="17.96" fill="#1e4eb4"/>
<rect x="1284.6" y="473.62" width="61.6" height="17.96" fill="#0e62be"/>
<rect x="1284.6" y="456.06" width="61.6" height="17.96" fill="#1974bd"/>
<rect x="1284.6" y="438.50" width="61.6" height="17.96" fill="#3083be"/>
<rect x="1284.6" y="420.94" width="61.6" height="17.96" fill="#4991c0"/>
<rect x="1284.6" y="403.38" width="61.6" height="17.96" fill="#619ec3"/>
<rect x="1284.6" y="385.81" width="61.6" height="17.96" fill="#78aac7"/>
<rect x="1284.6" y="368.25" width="61.6" height="17.96" fill="#8eb5cc"/>
<rect x="1284.6" y="350.69" width="61.6" height="17.96" fill="#a3c1d2"/>
<rect x="1284.6" y="333.12" width="61.6" height="17.96" fill="#b8cdd9"/>
<rect x="1284.6" y="315.56" width="61.6" height="17.96" fill="#ccd9e0"/>
<rect x="1284.6" y="298.00" width="61.6" height="17.96" fill="#e1e6e8"/>
<rect x="1284.6" y="280.44" width="61.6" height="17.96" fill="#ede4e2"/>
<rect x="1284.6" y="262.88" width="61.6" height="17.96" fill="#e8d2cc"/>
<rect x="1284.6" y="245.31" width="61.6" height="17.96" fill="#e3c0b6"/>
<rect x="1284.6" y="227.75" width="61.6" height="17.96" fill="#deaea1"/>
<rect x="1284.6" y="210.19" width="61.6" height="17.96" fill="#d99d8d"/>
<rect x="1284.6" y="192.62" width="61.6" height="17.96" fill="#d48c7a"/>
<rect x="1284.6" y="175.06" width="61.6" height="17.96" fill="#cf7b67"/>
<rect x="1284.6" y="157.50" width="61.6" height="17.96" fill="#ca6a55"/>
<rect x="1284.6" y="139.94" width="61.6" height="17.96" fill="#c55a44"/>
<rect x="1284.6" y="122.38" width="61.6" height="17.96" fill="#bf4934"/>
<rect x="1284.6" y="104.81" width="61.6" height="17.96" fill="#b8382a"/>
<rect x="1284.6" y="87.25" width="61.6" height="17.96" fill="#ae2628"/>
<rect x="1284.6" y="69.69" width="61.6" height="17.96" fill="#98122d"/>
<rect x="1284.6" y="52.12" width="61.6" height="17.96" fill="#7e0e2d"/>
<rect x="1284.6" y="34.56" width="61.6" height="17.96" fill="#620d24"/>
<rect x="1284.6" y="17.00" width="61.6" height="17.96" fill="#420a17"/>
</g>
<rect x="1284.6" y="17.0" width="61.6" height="562.0" fill="none" stroke="#262626" stroke-width="1"/>
<text x="1360.5" y="32.8" font-size="45.4">4</text>
<path d="M1346.2 157.5 h-6" stroke="#262626" stroke-width="1.2"/>
<text x="1360.5" y="173.3" font-size="45.4">2</text>
<path d="M1346.2 298.0 h-6" stroke="#262626" stroke-width="1.2"/>
<text x="1360.5" y="313.8" font-size="45.4">0</text>
<path d="M1346.2 438.5 h-6" stroke="#262626" stroke-width="1.2"/>
<text x="1360.5" y="454.3" font-size="45.4">-2</text>
<text x="1360.5" y="594.8" font-size="45.4">-4</text>
<text transform="translate(1465.6 276) rotate(-90)" font-size="45" text-anchor="middle" textLength="474" lengthAdjust="spacingAndGlyphs">Basal Melt Rate (m year<tspan font-size="30" dy="-17">-1</tspan><tspan dy="17"> )</tspan></text>
<defs><linearGradient id="thg" x1="0" y1="1" x2="0" y2="0">
<stop offset="0.000" stop-color="#042332"/>
<stop offset="0.025" stop-color="#06283e"/>
<stop offset="0.050" stop-color="#0a2d4b"/>
<stop offset="0.075" stop-color="#0f325a"/>
<stop offset="0.100" stop-color="#16376c"/>
<stop offset="0.125" stop-color="#1e377d"/>
<stop offset="0.150" stop-color="#28378c"/>
<stop offset="0.175" stop-color="#34349e"/>
<stop offset="0.200" stop-color="#3e32a5"/>
<stop offset="0.225" stop-color="#4b34a5"/>
<stop offset="0.250" stop-color="#583aa0"/>
<stop offset="0.300" stop-color="#69449b"/>
<stop offset="0.350" stop-color="#7d4c96"/>
<stop offset="0.400" stop-color="#915591"/>
<stop offset="0.450" stop-color="#a25c8a"/>
<stop offset="0.500" stop-color="#b26282"/>
<stop offset="0.550" stop-color="#cd6976"/>
<stop offset="0.600" stop-color="#de7069"/>
<stop offset="0.650" stop-color="#eb785a"/>
<stop offset="0.700" stop-color="#f3854b"/>
<stop offset="0.750" stop-color="#f89441"/>
<stop offset="0.800" stop-color="#faaa3e"/>
<stop offset="0.850" stop-color="#fabe41"/>
<stop offset="0.900" stop-color="#f5d74b"/>
<stop offset="0.950" stop-color="#f0e855"/>
<stop offset="1.000" stop-color="#e4fa5d"/>
</linearGradient></defs>
<rect x="1284.6" y="1198.8" width="61.6" height="562.6" fill="url(#thg)" stroke="#262626" stroke-width="1"/>
<text x="1360.5" y="1214.6" font-size="45.4">3</text>
<path d="M1346.2 1339.5 h-6" stroke="#262626" stroke-width="1.2"/>
<text x="1360.5" y="1355.2" font-size="45.4">2.5</text>
<path d="M1346.2 1480.1 h-6" stroke="#262626" stroke-width="1.2"/>
<text x="1360.5" y="1495.9" font-size="45.4">2</text>
<path d="M1346.2 1620.8 h-6" stroke="#262626" stroke-width="1.2"/>
<text x="1360.5" y="1636.5" font-size="45.4">1.5</text>
<text x="1360.5" y="1777.2" font-size="45.4">1</text>
<text transform="translate(1488 1479.3) rotate(-90)" font-size="45" text-anchor="middle" textLength="767" lengthAdjust="spacingAndGlyphs">Basal Melt Rate Uncertainty (m year<tspan font-size="30" dy="-17">-1</tspan><tspan dy="17"> )</tspan></text>
</svg></body></html>
